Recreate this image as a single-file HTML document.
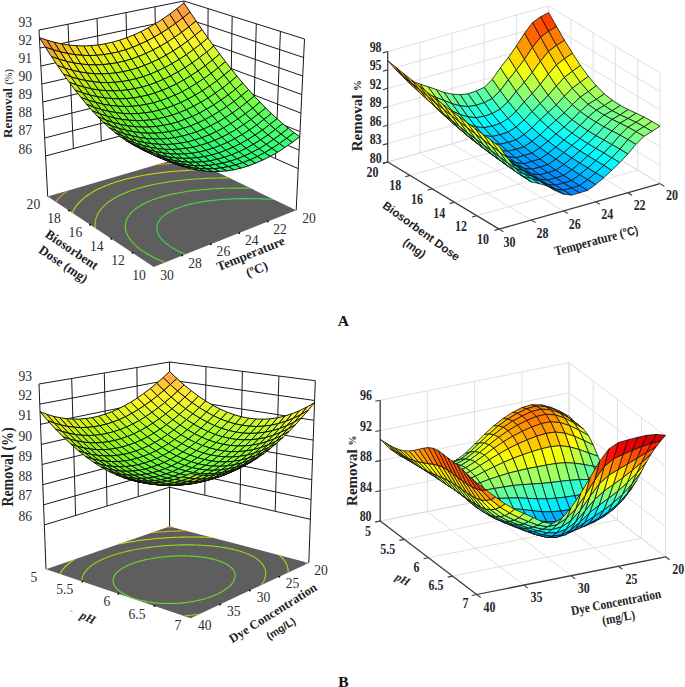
<!DOCTYPE html>
<html><head><meta charset="utf-8"><title>Figure</title>
<style>html,body{margin:0;padding:0;background:#fff;}body{width:685px;height:687px;overflow:hidden;}text{white-space:pre;}</style></head>
<body>
<svg width="685" height="687" viewBox="0 0 685 687" style="display:block"><line x1="45.6" y1="156" x2="184.8" y2="118.7" stroke="#1a1a1a" stroke-width="1"/>
<line x1="184.8" y1="118.7" x2="298.2" y2="168.6" stroke="#1a1a1a" stroke-width="1"/>
<line x1="44.6" y1="138" x2="184.6" y2="101.9" stroke="#1a1a1a" stroke-width="1"/>
<line x1="184.6" y1="101.9" x2="299.1" y2="150.1" stroke="#1a1a1a" stroke-width="1"/>
<line x1="43.7" y1="120" x2="184.5" y2="85.1" stroke="#1a1a1a" stroke-width="1"/>
<line x1="184.5" y1="85.1" x2="300" y2="131.6" stroke="#1a1a1a" stroke-width="1"/>
<line x1="42.8" y1="102" x2="184.4" y2="68.2" stroke="#1a1a1a" stroke-width="1"/>
<line x1="184.4" y1="68.2" x2="300.9" y2="113.1" stroke="#1a1a1a" stroke-width="1"/>
<line x1="41.8" y1="84" x2="184.3" y2="51.4" stroke="#1a1a1a" stroke-width="1"/>
<line x1="184.3" y1="51.4" x2="301.8" y2="94.6" stroke="#1a1a1a" stroke-width="1"/>
<line x1="40.9" y1="66" x2="184.2" y2="34.6" stroke="#1a1a1a" stroke-width="1"/>
<line x1="184.2" y1="34.6" x2="302.7" y2="76" stroke="#1a1a1a" stroke-width="1"/>
<line x1="39.9" y1="48" x2="184.1" y2="17.8" stroke="#1a1a1a" stroke-width="1"/>
<line x1="184.1" y1="17.8" x2="303.6" y2="57.5" stroke="#1a1a1a" stroke-width="1"/>
<line x1="39" y1="30" x2="184" y2="1" stroke="#1a1a1a" stroke-width="1"/>
<line x1="184" y1="1" x2="304.5" y2="39" stroke="#1a1a1a" stroke-width="1"/>
<line x1="47.7" y1="196.5" x2="39" y2="30" stroke="#1a1a1a" stroke-width="1"/>
<line x1="73.4" y1="148.5" x2="68" y2="24.2" stroke="#1a1a1a" stroke-width="1"/>
<line x1="101.3" y1="141.1" x2="97" y2="18.4" stroke="#1a1a1a" stroke-width="1"/>
<line x1="129.1" y1="133.6" x2="126" y2="12.6" stroke="#1a1a1a" stroke-width="1"/>
<line x1="156.9" y1="126.1" x2="155" y2="6.8" stroke="#1a1a1a" stroke-width="1"/>
<line x1="185" y1="156.5" x2="184" y2="1" stroke="#1a1a1a" stroke-width="1"/>
<line x1="207.4" y1="128.7" x2="208.1" y2="8.6" stroke="#1a1a1a" stroke-width="1"/>
<line x1="230.1" y1="138.7" x2="232.2" y2="16.2" stroke="#1a1a1a" stroke-width="1"/>
<line x1="252.8" y1="148.6" x2="256.3" y2="23.8" stroke="#1a1a1a" stroke-width="1"/>
<line x1="275.5" y1="158.6" x2="280.4" y2="31.4" stroke="#1a1a1a" stroke-width="1"/>
<line x1="296.2" y1="210.3" x2="304.5" y2="39" stroke="#1a1a1a" stroke-width="1"/>
<path d="M47.7 196.5 153.7 266.9 296.2 210.3 185 156.5 Z" fill="#5e5e5e"/>
<path d="M273.8 199.5 L272.3 199.4 L271.4 199.3 L270.4 199.3 L269.1 199.2 L268.6 199.2 L266.7 199.1 L266.7 199.1 L264.8 199 L264.4 199 L262.9 198.9 L262.2 198.9 L260.9 198.8 L260 198.8 L258.9 198.8 L257.8 198.7 L256.9 198.7 L255.6 198.7 L254.9 198.7 L253.5 198.6 L252.8 198.6 L251.4 198.6 L250.7 198.6 L249.3 198.6 L248.6 198.6 L247.3 198.6 L246.4 198.6 L245.2 198.6 L244.2 198.6 L243.3 198.6 L241.9 198.6 L241.3 198.6 L239.6 198.7 L239.3 198.7 L237.4 198.7 L237.2 198.7 L235.5 198.8 L234.8 198.8 L233.7 198.8 L232.3 198.9 L231.8 198.9 L230 199 L229.7 199 L228.2 199.1 L227.1 199.1 L226.4 199.2 L224.7 199.3 L224.3 199.3 L222.9 199.4 L221.5 199.5 L221.2 199.6 L219.5 199.7 L218.5 199.8 L217.8 199.8 L216.2 200 L215.4 200.1 L214.5 200.2 L212.9 200.4 L212.1 200.4 L211.3 200.5 L209.7 200.7 L208.6 200.9 L208.2 200.9 L206.6 201.1 L205.1 201.4 L204.7 201.4 L203.6 201.6 L202.1 201.8 L200.7 202.1 L200.4 202.1 L199.2 202.3 L197.8 202.6 L196.4 202.9 L195.2 203.1 L195 203.2 L193.6 203.5 L192.3 203.8 L190.9 204.1 L189.6 204.4 L188.3 204.7 L188.1 204.8 L187 205.1 L185.8 205.4 L184.5 205.8 L183.3 206.2 L182.1 206.6 L180.9 207 L179.7 207.4 L178.6 207.8 L177.4 208.2 L176.3 208.6 L175.2 209.1 L174.2 209.6 L173.3 209.9 L173.1 210 L172.1 210.5 L171.1 211 L170.1 211.6 L169.2 212.1 L168.5 212.5 L168.2 212.6 L167.3 213.2 L166.5 213.8 L165.7 214.3 L165.6 214.4 L164.8 215 L164 215.6 L163.7 215.9 L163.2 216.2 L162.5 216.9 L162.1 217.2 L161.8 217.6 L161.1 218.3 L160.9 218.5 L160.5 219 L159.9 219.7 L159.9 219.8 L159.3 220.6 L159.1 220.9 L158.8 221.4 L158.5 221.9 L158.3 222.2 L158 223 L157.9 223.1 L157.6 224 L157.6 224 L157.3 225 L157.3 225 L157.1 225.9 L157.1 226 L157 226.8 L156.9 227 L156.9 227.7 L156.9 228.1 L156.9 228.6 L157 229.3 L157 229.4 L157.1 230.3 L157.1 230.6 L157.2 231.1 L157.5 231.9 L157.5 231.9 L157.7 232.7 L158 233.4 L158 233.4 L158.4 234.2 L158.7 234.9 L158.8 235.1 L159.1 235.7 L159.6 236.4 L160 236.9 L160.1 237.1 L160.6 237.8 L161.1 238.5 L161.7 239.2 L161.7 239.2 L162.3 239.8 L162.9 240.5 L163.5 241.1 L164.2 241.8 L164.8 242.3 L164.9 242.4 L165.6 243 L166.4 243.6 L167.2 244.2 L167.9 244.8 L168.8 245.4 L169.6 246 L170.5 246.6 L171.3 247.1 L172.2 247.7 L173.1 248.2 L174.1 248.8 L175 249.3 L176 249.8 L177 250.4 L178 250.9 L179 251.4 L180.1 251.9 L180.2 251.9 L181.2 252.3 L182.2 252.8 L183.3 253.3 L184.5 253.8 L185.6 254.2" fill="none" stroke="#3cdb49" stroke-width="1.1"/>
<path d="M250.4 188.2 L249.2 188.1 L248.3 188.1 L247 188.1 L246.3 188.1 L244.9 188.1 L244.2 188.1 L242.8 188.1 L242.2 188.1 L240.6 188.1 L240.1 188.1 L238.3 188.1 L238.2 188.1 L236.2 188.1 L236.1 188.1 L234.2 188.1 L233.8 188.1 L232.3 188.1 L231.4 188.1 L230.4 188.1 L229 188.2 L228.5 188.2 L226.6 188.2 L226.6 188.2 L224.8 188.3 L224.1 188.3 L222.9 188.4 L221.5 188.4 L221.1 188.4 L219.3 188.5 L218.9 188.5 L217.5 188.6 L216.2 188.7 L215.8 188.7 L214 188.8 L213.5 188.8 L212.3 188.9 L210.7 189 L210.6 189 L208.9 189.1 L207.7 189.2 L207.2 189.3 L205.5 189.4 L204.7 189.5 L203.9 189.5 L202.3 189.7 L201.5 189.7 L200.6 189.8 L199 190 L198.1 190.1 L197.4 190.2 L195.9 190.3 L194.6 190.5 L194.3 190.5 L192.8 190.7 L191.2 190.9 L190.8 191 L189.7 191.1 L188.2 191.3 L186.8 191.5 L186.8 191.5 L185.3 191.7 L183.8 192 L182.4 192.2 L182.2 192.2 L181 192.5 L179.5 192.7 L178.2 193 L177 193.2 L176.8 193.2 L175.4 193.5 L174 193.8 L172.7 194.1 L171.4 194.3 L170.3 194.6 L170.1 194.6 L168.8 194.9 L167.5 195.3 L166.2 195.6 L164.9 195.9 L163.7 196.2 L162.5 196.6 L161.3 196.9 L160.1 197.3 L158.9 197.7 L157.7 198 L156.5 198.4 L155.4 198.8 L154.3 199.2 L153.1 199.6 L152 200.1 L151 200.5 L149.9 200.9 L148.8 201.4 L147.8 201.8 L146.8 202.3 L146.1 202.6 L145.8 202.8 L144.8 203.2 L143.8 203.7 L142.9 204.2 L141.9 204.8 L141.6 204.9 L141 205.3 L140.1 205.8 L139.2 206.4 L138.6 206.7 L138.3 206.9 L137.5 207.5 L136.7 208.1 L136.3 208.4 L135.9 208.7 L135.1 209.3 L134.4 209.8 L134.3 209.9 L133.6 210.6 L132.9 211.2 L132.8 211.2 L132.1 211.9 L131.6 212.5 L131.5 212.6 L130.8 213.3 L130.5 213.7 L130.2 214 L129.6 214.8 L129.5 214.9 L129 215.5 L128.7 216 L128.5 216.3 L128 217.1 L128 217.1 L127.5 217.9 L127.4 218.1 L127.1 218.8 L126.9 219.2 L126.7 219.7 L126.5 220.2 L126.4 220.6 L126.2 221.2 L126.1 221.5 L125.9 222.1 L125.8 222.5 L125.7 223.1 L125.6 223.5 L125.5 224 L125.5 224.6 L125.4 224.9 L125.4 225.7 L125.4 225.8 L125.4 226.7 L125.4 226.8 L125.4 227.5 L125.4 228 L125.5 228.4 L125.6 229.2 L125.6 229.3 L125.8 230.1 L125.9 230.6 L125.9 230.9 L126.2 231.7 L126.3 232 L126.4 232.5 L126.7 233.3 L126.8 233.5 L127 234 L127.4 234.8 L127.6 235.2 L127.8 235.6 L128.2 236.3 L128.6 237 L128.6 237 L129 237.8 L129.5 238.5 L129.9 239.1 L130 239.2 L130.5 239.9 L131.1 240.6 L131.7 241.3 L131.8 241.5 L132.2 242 L132.9 242.7 L133.5 243.3 L134.1 244 L134.7 244.6 L134.8 244.7 L135.5 245.3 L136.2 246 L136.9 246.6 L137.7 247.2 L138.5 247.8 L139.2 248.5 L140 249.1 L140.9 249.7 L141.7 250.3 L142.5 250.9 L143 251.2 L143.4 251.5 L144.3 252 L145.2 252.6 L145.3 252.7 L146.1 253.2 L147 253.7 L148 254.3 L148.9 254.8 L149.9 255.4 L150.9 255.9 L151.9 256.5 L152.9 257 L153.9 257.5 L155 258 L156 258.5 L156.4 258.7 L157.1 259 L158.2 259.5 L159.3 260 L160.4 260.5 L161.6 261 L162.3 261.3 L162.7 261.5 L163.9 261.9 L165 262.4" fill="none" stroke="#5fdb27" stroke-width="1.1"/>
<path d="M229.1 177.8 L227.8 177.8 L227.1 177.8 L225.4 177.9 L225.2 177.9 L223.3 177.9 L223.1 177.9 L221.4 177.9 L220.7 177.9 L219.6 177.9 L218.2 178 L217.7 178 L215.9 178 L215.7 178 L214 178.1 L213.1 178.1 L212.2 178.1 L210.5 178.2 L210.4 178.2 L208.7 178.3 L207.9 178.3 L206.9 178.4 L205.2 178.4 L205.2 178.4 L203.4 178.5 L202.4 178.6 L201.7 178.6 L200 178.7 L199.5 178.8 L198.3 178.8 L196.6 178.9 L196.5 178.9 L195 179 L193.5 179.2 L193.3 179.2 L191.7 179.3 L190.3 179.4 L190.1 179.4 L188.5 179.6 L187 179.7 L186.9 179.7 L185.3 179.9 L183.7 180 L183.6 180 L182.2 180.2 L180.6 180.3 L180 180.4 L179.1 180.5 L177.6 180.7 L176.2 180.8 L176.1 180.9 L174.6 181 L173.1 181.2 L172.1 181.4 L171.6 181.4 L170.1 181.6 L168.7 181.8 L167.6 182 L167.3 182.1 L165.8 182.3 L164.4 182.5 L163 182.7 L162.6 182.8 L161.6 183 L160.3 183.2 L158.9 183.5 L157.5 183.7 L156.7 183.9 L156.2 184 L154.9 184.2 L153.5 184.5 L152.2 184.8 L150.9 185.1 L149.7 185.3 L149.1 185.5 L148.4 185.6 L147.1 185.9 L145.9 186.2 L144.6 186.5 L143.4 186.9 L142.2 187.2 L141 187.5 L139.8 187.9 L138.6 188.2 L137.4 188.5 L136.3 188.9 L135.1 189.3 L134 189.6 L132.8 190 L131.7 190.4 L130.6 190.8 L129.5 191.2 L128.5 191.6 L127.4 192 L126.3 192.4 L125.3 192.8 L124.4 193.2 L124.3 193.3 L123.2 193.7 L122.2 194.1 L121.2 194.6 L120.2 195.1 L119.3 195.5 L118.8 195.8 L118.3 196 L117.4 196.5 L116.4 197 L115.5 197.5 L115.1 197.8 L114.6 198 L113.7 198.5 L112.9 199.1 L112.2 199.5 L112 199.6 L111.2 200.2 L110.3 200.7 L109.8 201.1 L109.5 201.3 L108.7 201.9 L107.9 202.5 L107.9 202.5 L107.2 203.1 L106.4 203.7 L106.2 203.9 L105.7 204.3 L104.9 205 L104.7 205.2 L104.2 205.6 L103.6 206.3 L103.4 206.5 L102.9 207 L102.3 207.7 L102.2 207.7 L101.6 208.4 L101.2 208.9 L101 209.1 L100.4 209.8 L100.3 210 L99.9 210.6 L99.5 211.1 L99.4 211.4 L98.8 212.2 L98.8 212.2 L98.4 213 L98.2 213.3 L97.9 213.8 L97.6 214.3 L97.5 214.6 L97.1 215.3 L97.1 215.5 L96.7 216.4 L96.7 216.4 L96.4 217.3 L96.3 217.3 L96.1 218.2 L96 218.3 L95.8 219.2 L95.8 219.3 L95.6 220.2 L95.6 220.2 L95.4 221.1 L95.4 221.2 L95.3 222.1 L95.2 222.3 L95.2 223 L95.2 223.4 L95.1 223.9 L95.1 224.5 L95.1 224.7 L95.2 225.6 L95.2 225.7 L95.2 226.5 L95.3 226.9 L95.3 227.3 L95.4 228.2 L95.4 228.2" fill="none" stroke="#8ed916" stroke-width="1.1"/>
<path d="M211.7 169.4 L209.9 169.5 L209.6 169.5 L208.1 169.5 L207 169.5 L206.3 169.6 L204.5 169.6 L204.5 169.6 L202.7 169.7 L201.8 169.7 L200.9 169.7 L199.2 169.8 L199.1 169.8 L197.4 169.9 L196.4 169.9 L195.7 169.9 L194 170 L193.6 170 L192.3 170.1 L190.7 170.2 L190.6 170.2 L188.9 170.3 L187.7 170.4 L187.3 170.4 L185.6 170.5 L184.7 170.6 L184 170.6 L182.4 170.7 L181.5 170.8 L180.7 170.8 L179.1 170.9 L178.3 171 L177.5 171.1 L176 171.2 L174.9 171.3 L174.4 171.3 L172.8 171.5 L171.4 171.6 L171.3 171.6 L169.8 171.8 L168.2 171.9 L167.7 172 L166.7 172.1 L165.2 172.3 L163.8 172.4 L163.7 172.4 L162.2 172.6 L160.8 172.8 L159.6 172.9 L159.3 173 L157.9 173.1 L156.4 173.3 L155.1 173.5 L155 173.5 L153.6 173.7 L152.2 173.9 L150.8 174.2 L150.1 174.3 L149.4 174.4 L148 174.6 L146.6 174.8 L145.3 175 L144.3 175.2 L143.9 175.3 L142.6 175.5 L141.3 175.8 L140 176 L138.7 176.3 L137.4 176.5 L137.3 176.5 L136.1 176.8 L134.8 177.1 L133.5 177.3 L132.3 177.6 L131 177.9 L129.8 178.2 L128.6 178.5 L127.3 178.8 L126.1 179.1 L126.1 179.1 L124.9 179.4 L123.7 179.7 L122.6 180 L121.4 180.4 L120.2 180.7 L119.1 181 L117.9 181.4 L116.8 181.7 L115.7 182.1 L114.6 182.5 L113.5 182.8 L112.5 183.2 L112.4 183.2 L111.3 183.6 L110.2 184 L109.2 184.4 L108.1 184.8 L107.1 185.2 L106 185.6 L105 186 L104 186.4 L103.3 186.7 L103 186.8 L102 187.3 L101 187.7 L100 188.2 L99.1 188.6 L98.3 189 L98.1 189.1 L97.2 189.6 L96.3 190 L95.4 190.5 L94.6 190.9 L94.4 191 L93.6 191.5 L92.7 192 L91.8 192.5 L91.6 192.6 L90.9 193.1 L90.1 193.6 L89.3 194.1 L89.1 194.2 L88.4 194.7 L87.6 195.2 L87 195.7 L86.8 195.8 L86 196.4 L85.3 197 L85.1 197.1 L84.5 197.6 L83.8 198.2 L83.5 198.4 L83 198.8 L82.3 199.4 L82 199.7 L81.6 200.1 L80.9 200.7 L80.7 201 L80.3 201.4 L79.6 202 L79.5 202.2 L79 202.7 L78.4 203.4 L78.3 203.4 L77.7 204.1 L77.4 204.5 L77.1 204.8 L76.6 205.6 L76.5 205.6 L76 206.3 L75.7 206.7 L75.5 207.1 L75 207.8 L75 207.9 L74.5 208.7 L74.3 208.9 L74 209.5 L73.8 209.9 L73.6 210.3 L73.2 210.9 L73.1 211.1 L72.7 212 L72.7 212 L72.4 212.9" fill="none" stroke="#cbd411" stroke-width="1.1"/>
<path d="M67.4 190.7 L67.2 190.9 L66.5 191.5 L65.7 192 L65.6 192.1 L65 192.6 L64.2 193.2 L64 193.4 L63.5 193.8 L62.8 194.5 L62.5 194.7 L62.1 195.1 L61.4 195.7 L61.2 195.9 L60.7 196.4 L60.1 197 L60 197.1 L59.4 197.7 L58.9 198.3 L58.8 198.4 L58.2 199 L57.8 199.4 L57.6 199.7 L57 200.4 L56.9 200.6 L56.4 201.2 L56 201.7 L55.8 201.9" fill="none" stroke="#db9b21" stroke-width="1.1"/>
<path d="M196.8 162.2 L195 162.2 L194.9 162.3 L193.3 162.3 L192.2 162.3 L191.5 162.4 L189.8 162.4 L189.4 162.4 L188.1 162.5 L186.6 162.6 L186.4 162.6 L184.7 162.6 L183.7 162.7 L183 162.7 L181.3 162.8 L180.8 162.8 L179.7 162.9 L178 163 L177.7 163 L176.4 163.1 L174.8 163.2 L174.6 163.2 L173.2 163.3 L171.6 163.4 L171.4 163.4 L170 163.5 L168.4 163.6 L168.1 163.6 L166.8 163.7 L165.3 163.9 L164.6 163.9 L163.7 164 L162.2 164.1 L161 164.2 L160.7 164.3 L159.1 164.4 L157.6 164.6 L157.2 164.6" fill="none" stroke="#db9b21" stroke-width="1.1"/>
<g stroke="#0c0c0c" stroke-width="0.95" stroke-linejoin="round"><path d="M176.8 8.8 182.8 18 190.1 12.1 184 3.1 Z" fill="#ff9d47"/><path d="M182.8 18 188.8 26.9 196.1 21 190.1 12.1 Z" fill="#ffb040"/><path d="M169.6 14.2 175.6 23.4 182.8 18 176.8 8.8 Z" fill="#ffa542"/><path d="M175.6 23.4 181.6 32.4 188.8 26.9 182.8 18 Z" fill="#ffc537"/><path d="M188.8 26.9 194.8 35.5 202 29.6 196.1 21 Z" fill="#ffd435"/><path d="M162.4 19.2 168.5 28.4 175.6 23.4 169.6 14.2 Z" fill="#ffb33a"/><path d="M155.3 23.7 161.3 33 168.5 28.4 162.4 19.2 Z" fill="#ffc432"/><path d="M168.5 28.4 174.4 37.4 181.6 32.4 175.6 23.4 Z" fill="#ffd92f"/><path d="M181.6 32.4 187.6 41.1 194.8 35.5 188.8 26.9 Z" fill="#fee72d"/><path d="M194.8 35.5 200.7 44 207.9 38 202 29.6 Z" fill="#fcee2d"/><path d="M200.7 44 206.6 52.1 213.8 46.1 207.9 38 Z" fill="#edf82b"/><path d="M148.1 27.9 154.1 37.2 161.3 33 155.3 23.7 Z" fill="#ffd32c"/><path d="M161.3 33 167.3 42.1 174.4 37.4 168.5 28.4 Z" fill="#fee728"/><path d="M174.4 37.4 180.4 46.2 187.6 41.1 181.6 32.4 Z" fill="#fbf228"/><path d="M187.6 41.1 193.5 49.5 200.7 44 194.8 35.5 Z" fill="#f5f729"/><path d="M141 31.6 147 41 154.1 37.2 148.1 27.9 Z" fill="#ffdf26"/><path d="M167.3 42.1 173.2 50.9 180.4 46.2 174.4 37.4 Z" fill="#f3f724"/><path d="M193.5 49.5 199.3 57.7 206.6 52.1 200.7 44 Z" fill="#defa29"/><path d="M206.6 52.1 212.4 60.1 219.7 54 213.8 46.1 Z" fill="#d7fb2b"/><path d="M154.1 37.2 160.1 46.3 167.3 42.1 161.3 33 Z" fill="#fcef24"/><path d="M180.4 46.2 186.3 54.7 193.5 49.5 187.6 41.1 Z" fill="#e7f927"/><path d="M147 41 152.9 50.1 160.1 46.3 154.1 37.2 Z" fill="#f9f620"/><path d="M133.8 34.9 139.8 44.3 147 41 141 31.6 Z" fill="#fde621"/><path d="M160.1 46.3 166 55.2 173.2 50.9 167.3 42.1 Z" fill="#e8f822"/><path d="M173.2 50.9 179.1 59.4 186.3 54.7 180.4 46.2 Z" fill="#dbfa24"/><path d="M186.3 54.7 192.1 62.9 199.3 57.7 193.5 49.5 Z" fill="#d0fb27"/><path d="M199.3 57.7 205.2 65.7 212.4 60.1 206.6 52.1 Z" fill="#c8fb2a"/><path d="M212.4 60.1 218.2 67.7 225.5 61.7 219.7 54 Z" fill="#c2fb2d"/><path d="M139.8 44.3 145.8 53.5 152.9 50.1 147 41 Z" fill="#f0f61d"/><path d="M152.9 50.1 158.9 59 166 55.2 160.1 46.3 Z" fill="#dff920"/><path d="M179.1 59.4 184.9 67.7 192.1 62.9 186.3 54.7 Z" fill="#c3fb26"/><path d="M218.2 67.7 224 75.1 231.3 69.1 225.5 61.7 Z" fill="#aefc2f"/><path d="M126.6 37.8 132.7 47.3 139.8 44.3 133.8 34.9 Z" fill="#fae91d"/><path d="M166 55.2 171.9 63.7 179.1 59.4 173.2 50.9 Z" fill="#d0fb23"/><path d="M192.1 62.9 198 70.9 205.2 65.7 199.3 57.7 Z" fill="#bafc29"/><path d="M205.2 65.7 211 73.4 218.2 67.7 212.4 60.1 Z" fill="#b3fc2c"/><path d="M119.5 40.2 125.5 49.8 132.7 47.3 126.6 37.8 Z" fill="#f8eb1a"/><path d="M132.7 47.3 138.6 56.5 145.8 53.5 139.8 44.3 Z" fill="#e9f51b"/><path d="M145.8 53.5 151.7 62.4 158.9 59 152.9 50.1 Z" fill="#d6f91d"/><path d="M158.9 59 164.7 67.6 171.9 63.7 166 55.2 Z" fill="#c6fb21"/><path d="M171.9 63.7 177.7 72 184.9 67.7 179.1 59.4 Z" fill="#b8fc25"/><path d="M184.9 67.7 190.8 75.7 198 70.9 192.1 62.9 Z" fill="#adfc28"/><path d="M211 73.4 216.8 80.8 224 75.1 218.2 67.7 Z" fill="#a2fd30"/><path d="M224 75.1 229.8 82.3 237.1 76.2 231.3 69.1 Z" fill="#9ffd34"/><path d="M198 70.9 203.8 78.6 211 73.4 205.2 65.7 Z" fill="#a6fd2c"/><path d="M164.7 67.6 170.6 75.9 177.7 72 171.9 63.7 Z" fill="#aefc23"/><path d="M229.8 82.3 235.5 89.2 242.8 83.1 237.1 76.2 Z" fill="#92fe38"/><path d="M112.3 42.2 118.3 51.8 125.5 49.8 119.5 40.2 Z" fill="#f6ec17"/><path d="M125.5 49.8 131.4 59 138.6 56.5 132.7 47.3 Z" fill="#e3f418"/><path d="M138.6 56.5 144.5 65.4 151.7 62.4 145.8 53.5 Z" fill="#cff81b"/><path d="M151.7 62.4 157.6 71 164.7 67.6 158.9 59 Z" fill="#bdfa20"/><path d="M177.7 72 183.6 80 190.8 75.7 184.9 67.7 Z" fill="#a4fd28"/><path d="M190.8 75.7 196.5 83.4 203.8 78.6 198 70.9 Z" fill="#9cfd2d"/><path d="M203.8 78.6 209.5 86 216.8 80.8 211 73.4 Z" fill="#97fd32"/><path d="M216.8 80.8 222.5 88 229.8 82.3 224 75.1 Z" fill="#93fe35"/><path d="M131.4 59 137.4 68 144.5 65.4 138.6 56.5 Z" fill="#c9f719"/><path d="M157.6 71 163.4 79.4 170.6 75.9 164.7 67.6 Z" fill="#a6fb22"/><path d="M170.6 75.9 176.4 83.9 183.6 80 177.7 72 Z" fill="#9cfc28"/><path d="M196.5 83.4 202.3 90.8 209.5 86 203.8 78.6 Z" fill="#8dfe33"/><path d="M222.5 88 228.2 94.9 235.5 89.2 229.8 82.3 Z" fill="#85fe3a"/><path d="M235.5 89.2 241.3 95.8 248.6 89.7 242.8 83.1 Z" fill="#85fe3c"/><path d="M118.3 51.8 124.3 61.1 131.4 59 125.5 49.8 Z" fill="#dff316"/><path d="M105.1 43.8 111.1 53.4 118.3 51.8 112.3 42.2 Z" fill="#f5ec14"/><path d="M144.5 65.4 150.4 74 157.6 71 151.7 62.4 Z" fill="#b6f91e"/><path d="M183.6 80 189.3 87.8 196.5 83.4 190.8 75.7 Z" fill="#93fd2e"/><path d="M209.5 86 215.3 93.2 222.5 88 216.8 80.8 Z" fill="#88fe37"/><path d="M97.9 45 103.9 54.6 111.1 53.4 105.1 43.8 Z" fill="#f4ea14"/><path d="M124.3 61.1 130.2 70.1 137.4 68 131.4 59 Z" fill="#c5f517"/><path d="M137.4 68 143.2 76.6 150.4 74 144.5 65.4 Z" fill="#b0f81c"/><path d="M150.4 74 156.2 82.4 163.4 79.4 157.6 71 Z" fill="#a0fa21"/><path d="M163.4 79.4 169.2 87.4 176.4 83.9 170.6 75.9 Z" fill="#94fb28"/><path d="M176.4 83.9 182.2 91.7 189.3 87.8 183.6 80 Z" fill="#8bfd2e"/><path d="M189.3 87.8 195.1 95.2 202.3 90.8 196.5 83.4 Z" fill="#84fe33"/><path d="M202.3 90.8 208 98 215.3 93.2 209.5 86 Z" fill="#7eff37"/><path d="M215.3 93.2 221 100.1 228.2 94.9 222.5 88 Z" fill="#7aff3b"/><path d="M228.2 94.9 234 101.5 241.3 95.8 235.5 89.2 Z" fill="#79ff3f"/><path d="M241.3 95.8 247 102.1 254.3 96.1 248.6 89.7 Z" fill="#79ff42"/><path d="M111.1 53.4 117.1 62.7 124.3 61.1 118.3 51.8 Z" fill="#ddf213"/><path d="M143.2 76.6 149.1 85 156.2 82.4 150.4 74 Z" fill="#9bf820"/><path d="M182.2 91.7 187.9 99.1 195.1 95.2 189.3 87.8 Z" fill="#7cfe33"/><path d="M208 98 213.7 104.9 221 100.1 215.3 93.2 Z" fill="#71ff3f"/><path d="M247 102.1 252.7 108.2 260 102.1 254.3 96.1 Z" fill="#6eff4b"/><path d="M103.9 54.6 109.9 63.9 117.1 62.7 111.1 53.4 Z" fill="#ddf113"/><path d="M90.7 45.6 96.7 55.3 103.9 54.6 97.9 45 Z" fill="#f3e615"/><path d="M117.1 62.7 123 71.7 130.2 70.1 124.3 61.1 Z" fill="#c3f415"/><path d="M130.2 70.1 136.1 78.7 143.2 76.6 137.4 68 Z" fill="#acf619"/><path d="M156.2 82.4 162 90.4 169.2 87.4 163.4 79.4 Z" fill="#8efa27"/><path d="M169.2 87.4 175 95.1 182.2 91.7 176.4 83.9 Z" fill="#84fc2d"/><path d="M195.1 95.2 200.8 102.3 208 98 202.3 90.8 Z" fill="#75ff38"/><path d="M221 100.1 226.7 106.7 234 101.5 228.2 94.9 Z" fill="#6eff45"/><path d="M234 101.5 239.7 107.8 247 102.1 241.3 95.8 Z" fill="#6eff49"/><path d="M83.5 45.9 89.5 55.6 96.7 55.3 90.7 45.6 Z" fill="#f2e216"/><path d="M109.9 63.9 115.8 72.9 123 71.7 117.1 62.7 Z" fill="#c3f315"/><path d="M136.1 78.7 141.9 87.1 149.1 85 143.2 76.6 Z" fill="#98f71e"/><path d="M149.1 85 154.9 93 162 90.4 156.2 82.4 Z" fill="#8af925"/><path d="M175 95.1 180.7 102.6 187.9 99.1 182.2 91.7 Z" fill="#75fd33"/><path d="M187.9 99.1 193.6 106.2 200.8 102.3 195.1 95.2 Z" fill="#6efe3b"/><path d="M200.8 102.3 206.5 109.2 213.7 104.9 208 98 Z" fill="#69ff44"/><path d="M213.7 104.9 219.4 111.4 226.7 106.7 221 100.1 Z" fill="#65ff4a"/><path d="M239.7 107.8 245.3 113.8 252.7 108.2 247 102.1 Z" fill="#63ff52"/><path d="M252.7 108.2 258.3 114 265.7 108 260 102.1 Z" fill="#65ff54"/><path d="M96.7 55.3 102.7 64.6 109.9 63.9 103.9 54.6 Z" fill="#deef13"/><path d="M123 71.7 128.9 80.4 136.1 78.7 130.2 70.1 Z" fill="#aaf517"/><path d="M162 90.4 167.8 98.1 175 95.1 169.2 87.4 Z" fill="#7efb2c"/><path d="M226.7 106.7 232.4 113 239.7 107.8 234 101.5 Z" fill="#64ff4f"/><path d="M193.6 106.2 199.3 113.1 206.5 109.2 200.8 102.3 Z" fill="#61fe47"/><path d="M89.5 55.6 95.5 64.9 102.7 64.6 96.7 55.3 Z" fill="#e1ed13"/><path d="M76.2 45.7 82.2 55.3 89.5 55.6 83.5 45.9 Z" fill="#f2dc17"/><path d="M102.7 64.6 108.6 73.6 115.8 72.9 109.9 63.9 Z" fill="#c5f114"/><path d="M115.8 72.9 121.7 81.6 128.9 80.4 123 71.7 Z" fill="#aaf417"/><path d="M141.9 87.1 147.7 95.1 154.9 93 149.1 85 Z" fill="#87f824"/><path d="M154.9 93 160.6 100.7 167.8 98.1 162 90.4 Z" fill="#7afa2b"/><path d="M167.8 98.1 173.5 105.6 180.7 102.6 175 95.1 Z" fill="#6ffc32"/><path d="M180.7 102.6 186.4 109.7 193.6 106.2 187.9 99.1 Z" fill="#67fd3d"/><path d="M206.5 109.2 212.2 115.7 219.4 111.4 213.7 104.9 Z" fill="#5dff4f"/><path d="M219.4 111.4 225.1 117.7 232.4 113 226.7 106.7 Z" fill="#5aff55"/><path d="M232.4 113 238 118.9 245.3 113.8 239.7 107.8 Z" fill="#59ff59"/><path d="M245.3 113.8 251 119.5 258.3 114 252.7 108.2 Z" fill="#5aff5b"/><path d="M258.3 114 264 119.4 271.4 113.5 265.7 108 Z" fill="#5cff5c"/><path d="M128.9 80.4 134.7 88.7 141.9 87.1 136.1 78.7 Z" fill="#96f61c"/><path d="M95.5 64.9 101.4 73.9 108.6 73.6 102.7 64.6 Z" fill="#c8f014"/><path d="M160.6 100.7 166.4 108.1 173.5 105.6 167.8 98.1 Z" fill="#6bfa32"/><path d="M186.4 109.7 192.1 116.5 199.3 113.1 193.6 106.2 Z" fill="#5bfc49"/><path d="M199.3 113.1 205 119.6 212.2 115.7 206.5 109.2 Z" fill="#56fd52"/><path d="M225.1 117.7 230.8 123.6 238 118.9 232.4 113 Z" fill="#50ff5e"/><path d="M264 119.4 269.7 124.6 277.1 118.7 271.4 113.5 Z" fill="#54ff63"/><path d="M121.7 81.6 127.5 89.9 134.7 88.7 128.9 80.4 Z" fill="#96f41c"/><path d="M68.9 45 74.9 54.7 82.2 55.3 76.2 45.7 Z" fill="#f2d418"/><path d="M82.2 55.3 88.2 64.7 95.5 64.9 89.5 55.6 Z" fill="#e6eb13"/><path d="M108.6 73.6 114.5 82.3 121.7 81.6 115.8 72.9 Z" fill="#adf217"/><path d="M134.7 88.7 140.5 96.7 147.7 95.1 141.9 87.1 Z" fill="#85f722"/><path d="M147.7 95.1 153.4 102.8 160.6 100.7 154.9 93 Z" fill="#76f929"/><path d="M173.5 105.6 179.2 112.6 186.4 109.7 180.7 102.6 Z" fill="#62fb3e"/><path d="M212.2 115.7 217.9 121.9 225.1 117.7 219.4 111.4 Z" fill="#52ff59"/><path d="M238 118.9 243.7 124.6 251 119.5 245.3 113.8 Z" fill="#50ff61"/><path d="M251 119.5 256.7 125 264 119.4 258.3 114 Z" fill="#52ff62"/><path d="M101.4 73.9 107.3 82.6 114.5 82.3 108.6 73.6 Z" fill="#b1f116"/><path d="M61.6 43.8 67.6 53.5 74.9 54.7 68.9 45 Z" fill="#f1c61c"/><path d="M88.2 64.7 94.1 73.7 101.4 73.9 95.5 64.9 Z" fill="#ceee13"/><path d="M127.5 89.9 133.3 97.9 140.5 96.7 134.7 88.7 Z" fill="#86f522"/><path d="M153.4 102.8 159.2 110.2 166.4 108.1 160.6 100.7 Z" fill="#68f930"/><path d="M166.4 108.1 172.1 115.2 179.2 112.6 173.5 105.6 Z" fill="#5efa3e"/><path d="M179.2 112.6 184.9 119.4 192.1 116.5 186.4 109.7 Z" fill="#56fb49"/><path d="M192.1 116.5 197.8 122.9 205 119.6 199.3 113.1 Z" fill="#50fc53"/><path d="M205 119.6 210.6 125.8 217.9 121.9 212.2 115.7 Z" fill="#4bfd5b"/><path d="M217.9 121.9 223.5 127.9 230.8 123.6 225.1 117.7 Z" fill="#4afe60"/><path d="M230.8 123.6 236.4 129.3 243.7 124.6 238 118.9 Z" fill="#49ff64"/><path d="M256.7 125 262.3 130.1 269.7 124.6 264 119.4 Z" fill="#4bff68"/><path d="M269.7 124.6 275.3 129.5 282.7 123.7 277.1 118.7 Z" fill="#4eff68"/><path d="M74.9 54.7 80.9 64 88.2 64.7 82.2 55.3 Z" fill="#ece913"/><path d="M114.5 82.3 120.3 90.6 127.5 89.9 121.7 81.6 Z" fill="#98f31b"/><path d="M140.5 96.7 146.3 104.4 153.4 102.8 147.7 95.1 Z" fill="#76f728"/><path d="M243.7 124.6 249.4 130 256.7 125 251 119.5 Z" fill="#4aff66"/><path d="M172.1 115.2 177.7 121.9 184.9 119.4 179.2 112.6 Z" fill="#52fa49"/><path d="M210.6 125.8 216.3 131.6 223.5 127.9 217.9 121.9 Z" fill="#44fd62"/><path d="M275.3 129.5 281 134.1 288.4 128.3 282.7 123.7 Z" fill="#49ff6c"/><path d="M107.3 82.6 113.1 90.9 120.3 90.6 114.5 82.3 Z" fill="#9bf119"/><path d="M54.2 42.2 60.3 51.9 67.6 53.5 61.6 43.8 Z" fill="#f0b520"/><path d="M67.6 53.5 73.6 62.9 80.9 64 74.9 54.7 Z" fill="#eee115"/><path d="M80.9 64 86.9 73 94.1 73.7 88.2 64.7 Z" fill="#d4ec13"/><path d="M94.1 73.7 100 82.4 107.3 82.6 101.4 73.9 Z" fill="#b6ef15"/><path d="M120.3 90.6 126.1 98.6 133.3 97.9 127.5 89.9 Z" fill="#88f420"/><path d="M133.3 97.9 139.1 105.6 146.3 104.4 140.5 96.7 Z" fill="#77f627"/><path d="M146.3 104.4 152 111.8 159.2 110.2 153.4 102.8 Z" fill="#67f82f"/><path d="M159.2 110.2 164.9 117.2 172.1 115.2 166.4 108.1 Z" fill="#5bf93c"/><path d="M184.9 119.4 190.6 125.9 197.8 122.9 192.1 116.5 Z" fill="#4bfb54"/><path d="M197.8 122.9 203.4 129.1 210.6 125.8 205 119.6 Z" fill="#46fc5c"/><path d="M223.5 127.9 229.2 133.5 236.4 129.3 230.8 123.6 Z" fill="#43fe66"/><path d="M236.4 129.3 242.1 134.6 249.4 130 243.7 124.6 Z" fill="#43ff6a"/><path d="M249.4 130 255 135.1 262.3 130.1 256.7 125 Z" fill="#44ff6c"/><path d="M262.3 130.1 268 134.9 275.3 129.5 269.7 124.6 Z" fill="#46ff6c"/><path d="M113.1 90.9 118.9 98.9 126.1 98.6 120.3 90.6 Z" fill="#8bf21f"/><path d="M139.1 105.6 144.8 112.9 152 111.8 146.3 104.4 Z" fill="#69f62d"/><path d="M164.9 117.2 170.6 123.9 177.7 121.9 172.1 115.2 Z" fill="#50f847"/><path d="M177.7 121.9 183.4 128.3 190.6 125.9 184.9 119.4 Z" fill="#47f953"/><path d="M203.4 129.1 209.1 134.9 216.3 131.6 210.6 125.8 Z" fill="#3ffc62"/><path d="M216.3 131.6 221.9 137.2 229.2 133.5 223.5 127.9 Z" fill="#3dfd67"/><path d="M242.1 134.6 247.7 139.6 255 135.1 249.4 130 Z" fill="#3dff6e"/><path d="M268 134.9 273.6 139.4 281 134.1 275.3 129.5 Z" fill="#41ff70"/><path d="M281 134.1 286.7 138.4 294.1 132.7 288.4 128.3 Z" fill="#44ff6f"/><path d="M73.6 62.9 79.6 71.9 86.9 73 80.9 64 Z" fill="#dde913"/><path d="M100 82.4 105.9 90.7 113.1 90.9 107.3 82.6 Z" fill="#a0f018"/><path d="M46.8 40.1 52.9 49.8 60.3 51.9 54.2 42.2 Z" fill="#eea326"/><path d="M60.3 51.9 66.3 61.3 73.6 62.9 67.6 53.5 Z" fill="#efd617"/><path d="M86.9 73 92.8 81.7 100 82.4 94.1 73.7 Z" fill="#bdee14"/><path d="M126.1 98.6 131.9 106.3 139.1 105.6 133.3 97.9 Z" fill="#79f426"/><path d="M152 111.8 157.7 118.8 164.9 117.2 159.2 110.2 Z" fill="#5bf73b"/><path d="M190.6 125.9 196.2 132 203.4 129.1 197.8 122.9 Z" fill="#42fb5b"/><path d="M229.2 133.5 234.8 138.7 242.1 134.6 236.4 129.3 Z" fill="#3dfe6b"/><path d="M255 135.1 260.6 139.9 268 134.9 262.3 130.1 Z" fill="#3fff70"/><path d="M39.4 37.6 45.5 47.3 52.9 49.8 46.8 40.1 Z" fill="#ed922b"/><path d="M52.9 49.8 58.9 59.2 66.3 61.3 60.3 51.9 Z" fill="#eec61b"/><path d="M66.3 61.3 72.2 70.3 79.6 71.9 73.6 62.9 Z" fill="#e7e713"/><path d="M79.6 71.9 85.5 80.5 92.8 81.7 86.9 73 Z" fill="#c6ec13"/><path d="M92.8 81.7 98.6 90 105.9 90.7 100 82.4 Z" fill="#a8ee17"/><path d="M105.9 90.7 111.7 98.6 118.9 98.9 113.1 90.9 Z" fill="#90f11d"/><path d="M118.9 98.9 124.7 106.5 131.9 106.3 126.1 98.6 Z" fill="#7df324"/><path d="M131.9 106.3 137.6 113.6 144.8 112.9 139.1 105.6 Z" fill="#6bf52b"/><path d="M144.8 112.9 150.5 119.9 157.7 118.8 152 111.8 Z" fill="#5df639"/><path d="M157.7 118.8 163.4 125.4 170.6 123.9 164.9 117.2 Z" fill="#50f746"/><path d="M170.6 123.9 176.2 130.3 183.4 128.3 177.7 121.9 Z" fill="#45f851"/><path d="M183.4 128.3 189 134.3 196.2 132 190.6 125.9 Z" fill="#3ff95a"/><path d="M196.2 132 201.9 137.7 209.1 134.9 203.4 129.1 Z" fill="#3bfa61"/><path d="M209.1 134.9 214.7 140.4 221.9 137.2 216.3 131.6 Z" fill="#39fb67"/><path d="M221.9 137.2 227.5 142.4 234.8 138.7 229.2 133.5 Z" fill="#37fc6c"/><path d="M234.8 138.7 240.4 143.7 247.7 139.6 242.1 134.6 Z" fill="#37fd70"/><path d="M247.7 139.6 253.3 144.3 260.6 139.9 255 135.1 Z" fill="#38fe72"/><path d="M260.6 139.9 266.3 144.3 273.6 139.4 268 134.9 Z" fill="#3aff74"/><path d="M273.6 139.4 279.3 143.6 286.7 138.4 281 134.1 Z" fill="#3dff74"/><path d="M286.7 138.4 292.3 142.3 299.8 136.7 294.1 132.7 Z" fill="#40ff72"/><path d="M124.7 106.5 130.4 113.7 137.6 113.6 131.9 106.3 Z" fill="#6ff329"/><path d="M150.5 119.9 156.2 126.5 163.4 125.4 157.7 118.8 Z" fill="#52f643"/><path d="M189 134.3 194.7 140 201.9 137.7 196.2 132 Z" fill="#38f960"/><path d="M227.5 142.4 233.2 147.2 240.4 143.7 234.8 138.7 Z" fill="#32fc71"/><path d="M253.3 144.3 259 148.7 266.3 144.3 260.6 139.9 Z" fill="#33fe76"/><path d="M58.9 59.2 64.9 68.2 72.2 70.3 66.3 61.3 Z" fill="#ebde14"/><path d="M85.5 80.5 91.3 88.8 98.6 90 92.8 81.7 Z" fill="#b1ed15"/><path d="M45.5 47.3 51.5 56.6 58.9 59.2 52.9 49.8 Z" fill="#edb021"/><path d="M72.2 70.3 78.1 78.9 85.5 80.5 79.6 71.9 Z" fill="#d1ea13"/><path d="M98.6 90 104.4 97.9 111.7 98.6 105.9 90.7 Z" fill="#96ef1a"/><path d="M111.7 98.6 117.4 106.2 124.7 106.5 118.9 98.9 Z" fill="#81f122"/><path d="M137.6 113.6 143.3 120.5 150.5 119.9 144.8 112.9 Z" fill="#5ff535"/><path d="M163.4 125.4 169 131.7 176.2 130.3 170.6 123.9 Z" fill="#46f750"/><path d="M176.2 130.3 181.8 136.3 189 134.3 183.4 128.3 Z" fill="#3ef859"/><path d="M201.9 137.7 207.5 143.1 214.7 140.4 209.1 134.9 Z" fill="#35fa67"/><path d="M214.7 140.4 220.3 145.5 227.5 142.4 221.9 137.2 Z" fill="#33fb6c"/><path d="M240.4 143.7 246 148.3 253.3 144.3 247.7 139.6 Z" fill="#32fd74"/><path d="M266.3 144.3 271.9 148.4 279.3 143.6 273.6 139.4 Z" fill="#36ff77"/><path d="M279.3 143.6 284.9 147.5 292.3 142.3 286.7 138.4 Z" fill="#39ff76"/><path d="M117.4 106.2 123.2 113.4 130.4 113.7 124.7 106.5 Z" fill="#74f227"/><path d="M130.4 113.7 136.1 120.6 143.3 120.5 137.6 113.6 Z" fill="#63f331"/><path d="M143.3 120.5 149 127 156.2 126.5 150.5 119.9 Z" fill="#55f440"/><path d="M156.2 126.5 161.8 132.7 169 131.7 163.4 125.4 Z" fill="#48f54d"/><path d="M181.8 136.3 187.5 141.9 194.7 140 189 134.3 Z" fill="#38f85f"/><path d="M194.7 140 200.3 145.4 207.5 143.1 201.9 137.7 Z" fill="#32f965"/><path d="M220.3 145.5 225.9 150.3 233.2 147.2 227.5 142.4 Z" fill="#2dfb70"/><path d="M233.2 147.2 238.8 151.8 246 148.3 240.4 143.7 Z" fill="#2dfc74"/><path d="M246 148.3 251.7 152.5 259 148.7 253.3 144.3 Z" fill="#2efc76"/><path d="M259 148.7 264.6 152.7 271.9 148.4 266.3 144.3 Z" fill="#30fd78"/><path d="M51.5 56.6 57.5 65.6 64.9 68.2 58.9 59.2 Z" fill="#edd117"/><path d="M64.9 68.2 70.8 76.8 78.1 78.9 72.2 70.3 Z" fill="#dce613"/><path d="M78.1 78.9 84 87.1 91.3 88.8 85.5 80.5 Z" fill="#bceb14"/><path d="M91.3 88.8 97.1 96.7 104.4 97.9 98.6 90 Z" fill="#9eed17"/><path d="M104.4 97.9 110.2 105.4 117.4 106.2 111.7 98.6 Z" fill="#88ef1f"/><path d="M169 131.7 174.6 137.7 181.8 136.3 176.2 130.3 Z" fill="#3ff657"/><path d="M207.5 143.1 213.1 148.2 220.3 145.5 214.7 140.4 Z" fill="#2ffa6b"/><path d="M271.9 148.4 277.6 152.2 284.9 147.5 279.3 143.6 Z" fill="#32fe79"/><path d="M136.1 120.6 141.8 127.1 149 127 143.3 120.5 Z" fill="#59f33b"/><path d="M238.8 151.8 244.4 155.9 251.7 152.5 246 148.3 Z" fill="#2bfb75"/><path d="M70.8 76.8 76.7 85 84 87.1 78.1 78.9 Z" fill="#c8e913"/><path d="M110.2 105.4 115.9 112.6 123.2 113.4 117.4 106.2 Z" fill="#7bf024"/><path d="M57.5 65.6 63.4 74.1 70.8 76.8 64.9 68.2 Z" fill="#e8e213"/><path d="M84 87.1 89.8 95 97.1 96.7 91.3 88.8 Z" fill="#a9eb16"/><path d="M123.2 113.4 128.9 120.2 136.1 120.6 130.4 113.7 Z" fill="#68f22b"/><path d="M149 127 154.6 133.2 161.8 132.7 156.2 126.5 Z" fill="#4bf449"/><path d="M161.8 132.7 167.4 138.6 174.6 137.7 169 131.7 Z" fill="#40f555"/><path d="M174.6 137.7 180.3 143.2 187.5 141.9 181.8 136.3 Z" fill="#39f65d"/><path d="M187.5 141.9 193.1 147.2 200.3 145.4 194.7 140 Z" fill="#32f764"/><path d="M200.3 145.4 205.9 150.4 213.1 148.2 207.5 143.1 Z" fill="#2df86a"/><path d="M213.1 148.2 218.7 152.9 225.9 150.3 220.3 145.5 Z" fill="#2af96f"/><path d="M225.9 150.3 231.5 154.8 238.8 151.8 233.2 147.2 Z" fill="#2afa73"/><path d="M251.7 152.5 257.3 156.5 264.6 152.7 259 148.7 Z" fill="#2cfc76"/><path d="M264.6 152.7 270.2 156.4 277.6 152.2 271.9 148.4 Z" fill="#2efd78"/><path d="M97.1 96.7 102.9 104.2 110.2 105.4 104.4 97.9 Z" fill="#8fee1c"/><path d="M128.9 120.2 134.5 126.7 141.8 127.1 136.1 120.6 Z" fill="#5ef235"/><path d="M141.8 127.1 147.4 133.2 154.6 133.2 149 127 Z" fill="#50f344"/><path d="M167.4 138.6 173.1 144.1 180.3 143.2 174.6 137.7 Z" fill="#3bf55a"/><path d="M205.9 150.4 211.5 155 218.7 152.9 213.1 148.2 Z" fill="#29f86e"/><path d="M231.5 154.8 237.1 158.8 244.4 155.9 238.8 151.8 Z" fill="#28f973"/><path d="M244.4 155.9 250 159.8 257.3 156.5 251.7 152.5 Z" fill="#29fa74"/><path d="M102.9 104.2 108.6 111.3 115.9 112.6 110.2 105.4 Z" fill="#82ee20"/><path d="M63.4 74.1 69.3 82.3 76.7 85 70.8 76.8 Z" fill="#d6e613"/><path d="M76.7 85 82.5 92.8 89.8 95 84 87.1 Z" fill="#b5ea15"/><path d="M115.9 112.6 121.6 119.4 128.9 120.2 123.2 113.4 Z" fill="#6ff028"/><path d="M89.8 95 95.6 102.4 102.9 104.2 97.1 96.7 Z" fill="#98ec18"/><path d="M154.6 133.2 160.2 139 167.4 138.6 161.8 132.7 Z" fill="#43f451"/><path d="M180.3 143.2 185.9 148.4 193.1 147.2 187.5 141.9 Z" fill="#34f662"/><path d="M193.1 147.2 198.7 152.1 205.9 150.4 200.3 145.4 Z" fill="#2ef768"/><path d="M218.7 152.9 224.3 157.3 231.5 154.8 225.9 150.3 Z" fill="#27f971"/><path d="M257.3 156.5 262.9 160 270.2 156.4 264.6 152.7 Z" fill="#2bfb76"/><path d="M121.6 119.4 127.3 125.8 134.5 126.7 128.9 120.2 Z" fill="#65f02d"/><path d="M69.3 82.3 75.1 90.1 82.5 92.8 76.7 85 Z" fill="#c4e813"/><path d="M95.6 102.4 101.3 109.5 108.6 111.3 102.9 104.2 Z" fill="#8bec1d"/><path d="M108.6 111.3 114.3 118 121.6 119.4 115.9 112.6 Z" fill="#77ef25"/><path d="M134.5 126.7 140.2 132.7 147.4 133.2 141.8 127.1 Z" fill="#55f13d"/><path d="M147.4 133.2 153 139 160.2 139 154.6 133.2 Z" fill="#48f24c"/><path d="M160.2 139 165.9 144.5 173.1 144.1 167.4 138.6 Z" fill="#3df457"/><path d="M173.1 144.1 178.7 149.2 185.9 148.4 180.3 143.2 Z" fill="#36f55f"/><path d="M198.7 152.1 204.3 156.6 211.5 155 205.9 150.4 Z" fill="#2af76c"/><path d="M211.5 155 217.1 159.3 224.3 157.3 218.7 152.9 Z" fill="#26f770"/><path d="M224.3 157.3 229.9 161.3 237.1 158.8 231.5 154.8 Z" fill="#26f871"/><path d="M237.1 158.8 242.8 162.6 250 159.8 244.4 155.9 Z" fill="#26f872"/><path d="M250 159.8 255.6 163.2 262.9 160 257.3 156.5 Z" fill="#28f974"/><path d="M82.5 92.8 88.3 100.2 95.6 102.4 89.8 95 Z" fill="#a4ea16"/><path d="M185.9 148.4 191.5 153.3 198.7 152.1 193.1 147.2 Z" fill="#2ff666"/><path d="M114.3 118 120 124.3 127.3 125.8 121.6 119.4 Z" fill="#6def28"/><path d="M153 139 158.6 144.3 165.9 144.5 160.2 139 Z" fill="#41f252"/><path d="M217.1 159.3 222.7 163.2 229.9 161.3 224.3 157.3 Z" fill="#26f670"/><path d="M88.3 100.2 94 107.2 101.3 109.5 95.6 102.4 Z" fill="#96ea19"/><path d="M75.1 90.1 80.9 97.4 88.3 100.2 82.5 92.8 Z" fill="#b3e815"/><path d="M101.3 109.5 107 116.1 114.3 118 108.6 111.3 Z" fill="#80ed21"/><path d="M127.3 125.8 132.9 131.7 140.2 132.7 134.5 126.7 Z" fill="#5cf036"/><path d="M140.2 132.7 145.8 138.4 153 139 147.4 133.2 Z" fill="#4ef145"/><path d="M165.9 144.5 171.5 149.5 178.7 149.2 173.1 144.1 Z" fill="#39f35b"/><path d="M178.7 149.2 184.3 154 191.5 153.3 185.9 148.4 Z" fill="#31f463"/><path d="M191.5 153.3 197.1 157.7 204.3 156.6 198.7 152.1 Z" fill="#2bf56a"/><path d="M204.3 156.6 209.9 160.8 217.1 159.3 211.5 155 Z" fill="#27f66f"/><path d="M229.9 161.3 235.5 164.9 242.8 162.6 237.1 158.8 Z" fill="#25f771"/><path d="M242.8 162.6 248.4 165.9 255.6 163.2 250 159.8 Z" fill="#25f872"/><path d="M80.9 97.4 86.6 104.3 94 107.2 88.3 100.2 Z" fill="#a4e816"/><path d="M107 116.1 112.7 122.4 120 124.3 114.3 118 Z" fill="#76ed24"/><path d="M120 124.3 125.7 130.2 132.9 131.7 127.3 125.8 Z" fill="#64ef2d"/><path d="M145.8 138.4 151.4 143.7 158.6 144.3 153 139 Z" fill="#47f14b"/><path d="M158.6 144.3 164.2 149.3 171.5 149.5 165.9 144.5 Z" fill="#3df256"/><path d="M184.3 154 189.8 158.3 197.1 157.7 191.5 153.3 Z" fill="#2ef466"/><path d="M209.9 160.8 215.5 164.5 222.7 163.2 217.1 159.3 Z" fill="#26f56f"/><path d="M222.7 163.2 228.3 166.7 235.5 164.9 229.9 161.3 Z" fill="#25f670"/><path d="M94 107.2 99.7 113.8 107 116.1 101.3 109.5 Z" fill="#8beb1c"/><path d="M132.9 131.7 138.6 137.3 145.8 138.4 140.2 132.7 Z" fill="#55f03d"/><path d="M171.5 149.5 177 154.1 184.3 154 178.7 149.2 Z" fill="#35f35f"/><path d="M197.1 157.7 202.6 161.8 209.9 160.8 204.3 156.6 Z" fill="#28f56c"/><path d="M235.5 164.9 241.1 168.1 248.4 165.9 242.8 162.6 Z" fill="#24f671"/><path d="M99.7 113.8 105.4 119.9 112.7 122.4 107 116.1 Z" fill="#81eb20"/><path d="M86.6 104.3 92.3 110.9 99.7 113.8 94 107.2 Z" fill="#97e918"/><path d="M112.7 122.4 118.4 128.2 125.7 130.2 120 124.3 Z" fill="#6eed27"/><path d="M125.7 130.2 131.3 135.7 138.6 137.3 132.9 131.7 Z" fill="#5dee34"/><path d="M138.6 137.3 144.2 142.5 151.4 143.7 145.8 138.4 Z" fill="#4ef043"/><path d="M151.4 143.7 157 148.5 164.2 149.3 158.6 144.3 Z" fill="#42f051"/><path d="M164.2 149.3 169.8 153.8 177 154.1 171.5 149.5 Z" fill="#39f15a"/><path d="M177 154.1 182.6 158.4 189.8 158.3 184.3 154 Z" fill="#32f262"/><path d="M189.8 158.3 195.4 162.2 202.6 161.8 197.1 157.7 Z" fill="#2bf369"/><path d="M202.6 161.8 208.2 165.4 215.5 164.5 209.9 160.8 Z" fill="#26f46e"/><path d="M215.5 164.5 221 167.9 228.3 166.7 222.7 163.2 Z" fill="#25f56f"/><path d="M228.3 166.7 233.9 169.8 241.1 168.1 235.5 164.9 Z" fill="#24f570"/><path d="M92.3 110.9 98 116.9 105.4 119.9 99.7 113.8 Z" fill="#8de91b"/><path d="M131.3 135.7 136.9 140.8 144.2 142.5 138.6 137.3 Z" fill="#57ee3a"/><path d="M169.8 153.8 175.4 157.9 182.6 158.4 177 154.1 Z" fill="#36f15c"/><path d="M195.4 162.2 201 165.8 208.2 165.4 202.6 161.8 Z" fill="#2af36a"/><path d="M105.4 119.9 111 125.7 118.4 128.2 112.7 122.4 Z" fill="#79eb23"/><path d="M118.4 128.2 124 133.6 131.3 135.7 125.7 130.2 Z" fill="#66ed2a"/><path d="M144.2 142.5 149.8 147.2 157 148.5 151.4 143.7 Z" fill="#49ef48"/><path d="M157 148.5 162.6 152.9 169.8 153.8 164.2 149.3 Z" fill="#3ef054"/><path d="M182.6 158.4 188.2 162.2 195.4 162.2 189.8 158.3 Z" fill="#2ff264"/><path d="M208.2 165.4 213.8 168.7 221 167.9 215.5 164.5 Z" fill="#26f46e"/><path d="M221 167.9 226.7 170.9 233.9 169.8 228.3 166.7 Z" fill="#25f46f"/><path d="M98 116.9 103.7 122.6 111 125.7 105.4 119.9 Z" fill="#85e91e"/><path d="M111 125.7 116.7 131 124 133.6 118.4 128.2 Z" fill="#72eb25"/><path d="M124 133.6 129.6 138.6 136.9 140.8 131.3 135.7 Z" fill="#61ed2f"/><path d="M136.9 140.8 142.5 145.4 149.8 147.2 144.2 142.5 Z" fill="#52ee3f"/><path d="M162.6 152.9 168.2 157 175.4 157.9 169.8 153.8 Z" fill="#3bf056"/><path d="M175.4 157.9 181 161.6 188.2 162.2 182.6 158.4 Z" fill="#34f15e"/><path d="M188.2 162.2 193.8 165.6 201 165.8 195.4 162.2 Z" fill="#2ef265"/><path d="M201 165.8 206.6 168.9 213.8 168.7 208.2 165.4 Z" fill="#28f36b"/><path d="M149.8 147.2 155.3 151.6 162.6 152.9 157 148.5 Z" fill="#45ef4c"/><path d="M213.8 168.7 219.4 171.5 226.7 170.9 221 167.9 Z" fill="#26f36e"/><path d="M181 161.6 186.6 164.9 193.8 165.6 188.2 162.2 Z" fill="#33f05f"/><path d="M103.7 122.6 109.3 127.8 116.7 131 111 125.7 Z" fill="#7ee920"/><path d="M116.7 131 122.3 135.8 129.6 138.6 124 133.6 Z" fill="#6ceb27"/><path d="M129.6 138.6 135.2 143.1 142.5 145.4 136.9 140.8 Z" fill="#5cec34"/><path d="M142.5 145.4 148.1 149.7 155.3 151.6 149.8 147.2 Z" fill="#4eed42"/><path d="M155.3 151.6 160.9 155.5 168.2 157 162.6 152.9 Z" fill="#42ee4f"/><path d="M168.2 157 173.8 160.6 181 161.6 175.4 157.9 Z" fill="#3aef58"/><path d="M193.8 165.6 199.4 168.6 206.6 168.9 201 165.8 Z" fill="#2df166"/><path d="M206.6 168.9 212.2 171.6 219.4 171.5 213.8 168.7 Z" fill="#28f26b"/><path d="M109.3 127.8 115 132.6 122.3 135.8 116.7 131 Z" fill="#79e922"/><path d="M148.1 149.7 153.7 153.4 160.9 155.5 155.3 151.6 Z" fill="#4bed45"/><path d="M173.8 160.6 179.3 163.7 186.6 164.9 181 161.6 Z" fill="#39ef59"/><path d="M186.6 164.9 192.2 167.8 199.4 168.6 193.8 165.6 Z" fill="#32f060"/><path d="M122.3 135.8 127.9 140.3 135.2 143.1 129.6 138.6 Z" fill="#67eb29"/><path d="M135.2 143.1 140.8 147.2 148.1 149.7 142.5 145.4 Z" fill="#58ec37"/><path d="M160.9 155.5 166.5 158.9 173.8 160.6 168.2 157 Z" fill="#40ee51"/><path d="M199.4 168.6 205 171.2 212.2 171.6 206.6 168.9 Z" fill="#2df166"/><path d="M115 132.6 120.6 136.9 127.9 140.3 122.3 135.8 Z" fill="#75e924"/><path d="M140.8 147.2 146.4 150.9 153.7 153.4 148.1 149.7 Z" fill="#56ec39"/><path d="M153.7 153.4 159.2 156.8 166.5 158.9 160.9 155.5 Z" fill="#4aed46"/><path d="M166.5 158.9 172.1 162 179.3 163.7 173.8 160.6 Z" fill="#3fee51"/><path d="M179.3 163.7 184.9 166.4 192.2 167.8 186.6 164.9 Z" fill="#38ef59"/><path d="M192.2 167.8 197.7 170.2 205 171.2 199.4 168.6 Z" fill="#32ef5f"/><path d="M127.9 140.3 133.5 144.2 140.8 147.2 135.2 143.1 Z" fill="#64eb2b"/><path d="M133.5 144.2 139.1 147.8 146.4 150.9 140.8 147.2 Z" fill="#62ea2d"/><path d="M159.2 156.8 164.8 159.7 172.1 162 166.5 158.9 Z" fill="#49ec47"/><path d="M120.6 136.9 126.1 140.7 133.5 144.2 127.9 140.3 Z" fill="#71e925"/><path d="M146.4 150.9 152 154.1 159.2 156.8 153.7 153.4 Z" fill="#55eb3a"/><path d="M172.1 162 177.7 164.5 184.9 166.4 179.3 163.7 Z" fill="#3fed51"/><path d="M184.9 166.4 190.5 168.7 197.7 170.2 192.2 167.8 Z" fill="#39ee58"/><path d="M126.1 140.7 131.7 144.1 139.1 147.8 133.5 144.2 Z" fill="#70e825"/><path d="M139.1 147.8 144.7 150.8 152 154.1 146.4 150.9 Z" fill="#61ea2d"/><path d="M152 154.1 157.5 156.8 164.8 159.7 159.2 156.8 Z" fill="#54eb3a"/><path d="M164.8 159.7 170.4 162.1 177.7 164.5 172.1 162 Z" fill="#49ec46"/><path d="M177.7 164.5 183.3 166.7 190.5 168.7 184.9 166.4 Z" fill="#40ed50"/><path d="M131.7 144.1 137.3 147 144.7 150.8 139.1 147.8 Z" fill="#6fe825"/><path d="M144.7 150.8 150.2 153.4 157.5 156.8 152 154.1 Z" fill="#61ea2d"/><path d="M157.5 156.8 163.1 159.1 170.4 162.1 164.8 159.7 Z" fill="#55ea39"/><path d="M170.4 162.1 176 164.1 183.3 166.7 177.7 164.5 Z" fill="#4beb44"/><path d="M137.3 147 142.9 149.5 150.2 153.4 144.7 150.8 Z" fill="#6fe825"/><path d="M150.2 153.4 155.8 155.5 163.1 159.1 157.5 156.8 Z" fill="#62e92c"/><path d="M163.1 159.1 168.7 160.9 176 164.1 170.4 162.1 Z" fill="#57ea37"/><path d="M142.9 149.5 148.5 151.4 155.8 155.5 150.2 153.4 Z" fill="#71e724"/><path d="M155.8 155.5 161.4 157.2 168.7 160.9 163.1 159.1 Z" fill="#64e929"/><path d="M148.5 151.4 154.1 152.9 161.4 157.2 155.8 155.5 Z" fill="#74e623"/></g>
<circle cx="68.9" cy="210.6" r="1" fill="#111"/>
<circle cx="90.1" cy="224.7" r="1" fill="#111"/>
<circle cx="111.3" cy="238.7" r="1" fill="#111"/>
<circle cx="132.5" cy="252.8" r="1" fill="#111"/>
<circle cx="182.2" cy="255.6" r="1" fill="#111"/>
<circle cx="210.7" cy="244.3" r="1" fill="#111"/>
<circle cx="239.2" cy="232.9" r="1" fill="#111"/>
<circle cx="267.7" cy="221.6" r="1" fill="#111"/>
<text x="25.3" y="22.5" text-anchor="middle" dominant-baseline="central" fill="#2b2b33" style="font-family:'Liberation Serif',serif;font-size:13.6px;">93</text>
<text x="25.3" y="40" text-anchor="middle" dominant-baseline="central" fill="#2b2b33" style="font-family:'Liberation Serif',serif;font-size:13.6px;">92</text>
<text x="25.3" y="58" text-anchor="middle" dominant-baseline="central" fill="#2b2b33" style="font-family:'Liberation Serif',serif;font-size:13.6px;">91</text>
<text x="25.3" y="76" text-anchor="middle" dominant-baseline="central" fill="#2b2b33" style="font-family:'Liberation Serif',serif;font-size:13.6px;">90</text>
<text x="25.3" y="94" text-anchor="middle" dominant-baseline="central" fill="#2b2b33" style="font-family:'Liberation Serif',serif;font-size:13.6px;">89</text>
<text x="25.3" y="112" text-anchor="middle" dominant-baseline="central" fill="#2b2b33" style="font-family:'Liberation Serif',serif;font-size:13.6px;">88</text>
<text x="25.3" y="130" text-anchor="middle" dominant-baseline="central" fill="#2b2b33" style="font-family:'Liberation Serif',serif;font-size:13.6px;">87</text>
<text x="25.3" y="149" text-anchor="middle" dominant-baseline="central" fill="#2b2b33" style="font-family:'Liberation Serif',serif;font-size:13.6px;">86</text>
<text x="33.4" y="204.8" text-anchor="middle" dominant-baseline="central" fill="#2b2b33" style="font-family:'Liberation Serif',serif;font-size:13.6px;">20</text>
<text x="54" y="218.4" text-anchor="middle" dominant-baseline="central" fill="#2b2b33" style="font-family:'Liberation Serif',serif;font-size:13.6px;">18</text>
<text x="75.4" y="232.5" text-anchor="middle" dominant-baseline="central" fill="#2b2b33" style="font-family:'Liberation Serif',serif;font-size:13.6px;">16</text>
<text x="96.7" y="246.8" text-anchor="middle" dominant-baseline="central" fill="#2b2b33" style="font-family:'Liberation Serif',serif;font-size:13.6px;">14</text>
<text x="118" y="260.6" text-anchor="middle" dominant-baseline="central" fill="#2b2b33" style="font-family:'Liberation Serif',serif;font-size:13.6px;">12</text>
<text x="139" y="275" text-anchor="middle" dominant-baseline="central" fill="#2b2b33" style="font-family:'Liberation Serif',serif;font-size:13.6px;">10</text>
<text x="167" y="275" text-anchor="middle" dominant-baseline="central" fill="#2b2b33" style="font-family:'Liberation Serif',serif;font-size:13.6px;">30</text>
<text x="195" y="263" text-anchor="middle" dominant-baseline="central" fill="#2b2b33" style="font-family:'Liberation Serif',serif;font-size:13.6px;">28</text>
<text x="223.4" y="251.8" text-anchor="middle" dominant-baseline="central" fill="#2b2b33" style="font-family:'Liberation Serif',serif;font-size:13.6px;">26</text>
<text x="251.7" y="240.5" text-anchor="middle" dominant-baseline="central" fill="#2b2b33" style="font-family:'Liberation Serif',serif;font-size:13.6px;">24</text>
<text x="280" y="229" text-anchor="middle" dominant-baseline="central" fill="#2b2b33" style="font-family:'Liberation Serif',serif;font-size:13.6px;">22</text>
<text x="309" y="218.6" text-anchor="middle" dominant-baseline="central" fill="#2b2b33" style="font-family:'Liberation Serif',serif;font-size:13.6px;">20</text>
<text x="7.5" y="103.5" text-anchor="middle" dominant-baseline="central" fill="#222" style="font-family:'Liberation Serif',serif;font-size:13.2px;font-weight:bold;" transform="rotate(-90 7.5 103.5)">Removal <tspan style="font-weight:normal;font-size:10.5px">(%)</tspan></text>
<text x="72" y="249.5" text-anchor="middle" dominant-baseline="central" fill="#222" style="font-family:'Liberation Serif',serif;font-size:13px;font-weight:bold;" transform="rotate(34 72 249.5)">Biosorbent</text>
<text x="63.5" y="264" text-anchor="middle" dominant-baseline="central" fill="#222" style="font-family:'Liberation Serif',serif;font-size:13px;font-weight:bold;" transform="rotate(34 63.5 264)">Dose (mg)</text>
<text x="250.5" y="253.5" text-anchor="middle" dominant-baseline="central" fill="#222" style="font-family:'Liberation Serif',serif;font-size:13px;font-weight:bold;" transform="rotate(-22 250.5 253.5)">Temperature</text>
<text x="256.7" y="269" text-anchor="middle" dominant-baseline="central" fill="#222" style="font-family:'Liberation Serif',serif;font-size:13px;font-weight:bold;" transform="rotate(-22 256.7 269)">(ºC)</text>
<line x1="44.3" y1="524.9" x2="169.6" y2="487.2" stroke="#1a1a1a" stroke-width="1"/>
<line x1="169.6" y1="487.2" x2="310.4" y2="519.3" stroke="#1a1a1a" stroke-width="1"/>
<line x1="43.6" y1="504.8" x2="169.6" y2="469.3" stroke="#1a1a1a" stroke-width="1"/>
<line x1="169.6" y1="469.3" x2="311.1" y2="499.5" stroke="#1a1a1a" stroke-width="1"/>
<line x1="42.8" y1="484.7" x2="169.6" y2="451.4" stroke="#1a1a1a" stroke-width="1"/>
<line x1="169.6" y1="451.4" x2="311.8" y2="479.7" stroke="#1a1a1a" stroke-width="1"/>
<line x1="42" y1="464.5" x2="169.6" y2="433.5" stroke="#1a1a1a" stroke-width="1"/>
<line x1="169.6" y1="433.5" x2="312.5" y2="459.9" stroke="#1a1a1a" stroke-width="1"/>
<line x1="41.3" y1="444.4" x2="169.6" y2="415.6" stroke="#1a1a1a" stroke-width="1"/>
<line x1="169.6" y1="415.6" x2="313.2" y2="440.1" stroke="#1a1a1a" stroke-width="1"/>
<line x1="40.5" y1="424.3" x2="169.6" y2="397.8" stroke="#1a1a1a" stroke-width="1"/>
<line x1="169.6" y1="397.8" x2="313.9" y2="420.3" stroke="#1a1a1a" stroke-width="1"/>
<line x1="39.8" y1="404.1" x2="169.6" y2="379.9" stroke="#1a1a1a" stroke-width="1"/>
<line x1="169.6" y1="379.9" x2="314.6" y2="400.5" stroke="#1a1a1a" stroke-width="1"/>
<line x1="39" y1="384" x2="169.6" y2="362" stroke="#1a1a1a" stroke-width="1"/>
<line x1="169.6" y1="362" x2="315.3" y2="380.7" stroke="#1a1a1a" stroke-width="1"/>
<line x1="46" y1="569.2" x2="39" y2="384" stroke="#1a1a1a" stroke-width="1"/>
<line x1="75.6" y1="515.5" x2="71.7" y2="378.5" stroke="#1a1a1a" stroke-width="1"/>
<line x1="107" y1="506" x2="104.3" y2="373" stroke="#1a1a1a" stroke-width="1"/>
<line x1="138.3" y1="496.6" x2="136.9" y2="367.5" stroke="#1a1a1a" stroke-width="1"/>
<line x1="169.6" y1="526.5" x2="169.6" y2="362" stroke="#1a1a1a" stroke-width="1"/>
<line x1="204.8" y1="495.2" x2="206" y2="366.7" stroke="#1a1a1a" stroke-width="1"/>
<line x1="240" y1="503.2" x2="242.4" y2="371.4" stroke="#1a1a1a" stroke-width="1"/>
<line x1="275.2" y1="511.3" x2="278.9" y2="376" stroke="#1a1a1a" stroke-width="1"/>
<line x1="308.8" y1="562.9" x2="315.3" y2="380.7" stroke="#1a1a1a" stroke-width="1"/>
<path d="M46 569.2 190.7 618.2 308.8 562.9 169.6 526.5 Z" fill="#5e5e5e"/>
<path d="M124.1 567.3 L123.6 567.6 L123.3 567.7 L122.6 568.2 L121.8 568.6 L121.1 569.1 L120.4 569.6 L120.3 569.6 L119.7 570.1 L119.1 570.6 L118.4 571.1 L118.3 571.2 L117.8 571.6 L117.3 572.2 L116.8 572.6 L116.7 572.7 L116.2 573.2 L115.8 573.8 L115.7 573.9 L115.3 574.4 L114.9 575 L114.9 575 L114.6 575.6 L114.3 576.1 L114.2 576.2 L113.9 576.8 L113.8 577.2 L113.7 577.4 L113.5 578.1 L113.5 578.1 L113.3 578.8 L113.2 579.1 L113.2 579.4 L113.1 580 L113.1 580.1 L113.1 580.8 L113.1 580.9 L113.2 581.6 L113.2 581.7 L113.3 582.4 L113.3 582.5 L113.5 583.2 L113.5 583.3 L113.7 584 L113.7 584.1 L114.1 584.8 L114.1 584.9 L114.4 585.5 L114.6 585.7 L114.8 586.2 L115.1 586.7 L115.3 586.9 L115.8 587.6 L115.9 587.7 L116.4 588.3 L116.8 588.7 L117 588.9 L117.6 589.5 L117.9 589.8 L118.3 590.2 L119 590.8 L119.4 591.1 L119.7 591.3 L120.5 591.9 L121.3 592.4 L121.3 592.5 L122.2 593 L123.1 593.6 L124 594.1 L124 594.1 L124.9 594.6 L125.9 595.1 L126.9 595.6 L127.9 596.1 L129 596.5 L129.1 596.6 L130.1 597 L131.2 597.4 L132.4 597.9 L133.6 598.3 L134.8 598.7 L136 599.1 L137.3 599.5 L138.6 599.8 L138.7 599.8 L140 600.2 L141.4 600.5 L142.8 600.8 L144.2 601.1 L145.7 601.4 L145.7 601.4 L147.2 601.7 L148.7 602 L150.2 602.2 L150.3 602.2 L151.9 602.4 L153.6 602.6 L154 602.7 L155.3 602.8 L157 603 L157.3 603 L158.8 603.2 L160.2 603.3 L160.6 603.3 L162.5 603.4 L163 603.4 L164.5 603.5 L165.6 603.5 L166.5 603.5 L168 603.5 L168.5 603.5 L170.3 603.5 L170.6 603.5 L172.5 603.5 L172.8 603.5 L174.6 603.4 L175.1 603.4 L176.7 603.3 L177.5 603.3 L178.6 603.2 L179.9 603.1 L180.5 603.1 L182.4 602.9 L182.5 602.9 L184.2 602.7 L185.3 602.6 L185.9 602.5 L187.6 602.3 L188.2 602.2 L189.2 602.1 L190.8 601.8 L191.3 601.8 L192.4 601.6 L193.9 601.3 L194.7 601.1 L195.4 601 L196.8 600.7 L198.3 600.4 L198.6 600.3 L199.6 600.1 L201 599.8 L202.3 599.4 L203.1 599.2 L203.6 599.1 L204.9 598.7 L206.1 598.3 L207.3 598 L208.5 597.6 L209.4 597.3 L209.7 597.2 L210.8 596.8 L211.9 596.4 L213 595.9 L214.1 595.5 L215.1 595.1 L216.1 594.6 L217.1 594.2 L218.1 593.7 L219 593.3 L219.9 592.8 L220.8 592.3 L221.7 591.8 L222.6 591.3 L222.8 591.2 L223.4 590.8 L224.2 590.3 L225 589.8 L225.7 589.3 L226.4 588.8 L226.9 588.4 L227.1 588.2 L227.8 587.7 L228.5 587.1 L229.1 586.6 L229.2 586.5 L229.7 586 L230.3 585.4 L230.9 584.9 L230.9 584.8 L231.4 584.3 L231.9 583.7 L232.1 583.4 L232.3 583.1 L232.8 582.5 L233 582.1 L233.2 581.8 L233.5 581.2 L233.7 580.9 L233.9 580.6 L234.2 579.9 L234.2 579.8 L234.4 579.3 L234.6 578.7 L234.7 578.6 L234.8 577.9 L234.9 577.8 L235 577.2 L235 576.8 L235.1 576.5 L235.1 575.9 L235.1 575.8 L235.1 575.1 L235.1 575.1 L235 574.3 L235 574.2 L234.9 573.6 L234.8 573.5 L234.7 572.8 L234.6 572.7 L234.4 572 L234.4 572 L234 571.2 L234 571.1 L233.6 570.6 L233.4 570.3 L233.2 569.9 L232.8 569.4 L232.7 569.3 L232.2 568.6 L232 568.4 L231.7 568 L231.1 567.5 L231 567.4 L230.4 566.9 L229.8 566.3 L229.8 566.3 L229.1 565.8 L228.3 565.3 L228.1 565.2 L227.5 564.8 L226.7 564.3 L225.9 563.8 L225.9 563.8 L225 563.4 L224.1 562.9 L223.2 562.5 L222.2 562.1 L222.1 562.1 L221.2 561.7 L220.2 561.3 L219.1 560.9 L218 560.5 L216.9 560.2 L215.7 559.9 L214.6 559.5 L213.3 559.2 L212.1 558.9 L210.8 558.6 L209.5 558.4 L208.2 558.1 L208 558.1 L206.8 557.8 L205.4 557.6 L203.9 557.4 L202.5 557.2 L202.4 557.2 L201 557 L199.4 556.8 L198.2 556.7 L197.8 556.6 L196.2 556.5 L194.7 556.4 L194.5 556.3 L192.8 556.2 L191.5 556.1 L191 556.1 L189.2 556 L188.7 556 L187.4 556 L186 555.9 L185.5 555.9 L183.5 555.9 L183.4 555.9 L181.5 555.9 L181.1 555.9 L179.4 555.9 L178.8 555.9 L177.2 556 L176.6 556 L174.9 556 L174.5 556.1 L172.6 556.1 L172.5 556.2 L170.5 556.3 L170.1 556.3 L168.6 556.4 L167.6 556.5 L166.8 556.6 L165 556.7 L164.9 556.7 L163.2 556.9 L162 557 L161.5 557.1 L159.9 557.3 L159 557.4 L158.3 557.5 L156.7 557.7 L155.6 557.9 L155.1 557.9 L153.6 558.2 L152.2 558.4 L151.9 558.5 L150.7 558.7 L149.3 559 L147.9 559.2 L147.6 559.3 L146.6 559.5 L145.3 559.8 L144 560.1 L142.7 560.4 L142.2 560.5 L141.5 560.7 L140.2 561.1 L139.1 561.4 L137.9 561.7 L136.7 562.1 L135.6 562.4 L134.5 562.8 L133.5 563.2 L132.4 563.5 L131.4 563.9 L130.4 564.3 L129.5 564.7 L128.5 565.1 L127.6 565.5 L126.7 565.9 L125.8 566.4 L125 566.8 L124.1 567.3" fill="none" stroke="#6fda21" stroke-width="1.1"/>
<path d="M184.1 616 L185.3 615.9 L186 615.8 L187.8 615.6 L187.9 615.6 L189.5 615.4 L190.7 615.3 L191.3 615.2 L193 615 L193.5 614.9 L194.6 614.8 L196.3 614.5 L196.5 614.5 L197.9 614.3 L199.5 614 L199.7 614" fill="none" stroke="#97d815" stroke-width="1.1"/>
<path d="M261.2 585.2 L261.4 585 L261.8 584.4 L262.2 583.8 L262.3 583.7 L262.7 583.1 L263 582.6 L263 582.5 L263.4 581.8 L263.6 581.4 L263.7 581.2 L264 580.5 L264.2 580.2 L264.3 579.9 L264.6 579.2 L264.6 579.2 L264.8 578.5 L264.9 578.1 L265 577.8 L265.2 577.2 L265.2 577.1 L265.4 576.5 L265.4 576.1 L265.5 575.8 L265.6 575.2 L265.6 575.1 L265.6 574.4 L265.6 574.3 L265.7 573.6 L265.7 573.4 L265.7 572.9 L265.6 572.6 L265.6 572.2 L265.6 571.7 L265.5 571.4 L265.4 570.9 L265.4 570.6 L265.3 570.2 L265.2 569.9 L265.1 569.4 L265 569.1 L264.8 568.7 L264.7 568.3 L264.6 567.9 L264.3 567.5 L264.2 567.2 L263.9 566.6 L263.9 566.5 L263.5 565.9 L263.5 565.8 L263.1 565.2 L262.9 564.9 L262.7 564.6 L262.2 564 L262.2 563.9 L261.7 563.3 L261.5 563.1 L261.1 562.7 L260.6 562.2 L260.6 562.1 L260 561.6 L259.6 561.2 L259.4 561 L258.8 560.4 L258.4 560.1 L258.1 559.9 L257.4 559.4 L257 559 L256.7 558.9 L256 558.4 L255.3 557.9 L255.2 557.9 L254.5 557.4 L253.7 556.9 L253.2 556.6 L252.9 556.5 L252 556 L251.2 555.6 L250.4 555.2 L250.3 555.1 L249.4 554.7 L248.5 554.3 L247.5 553.9 L246.5 553.5 L246.3 553.4 L245.6 553.1 L244.5 552.7 L243.5 552.3 L242.5 552 L241.4 551.6 L240.3 551.3 L239.2 551 L238.1 550.6 L236.9 550.3 L235.8 550 L234.6 549.7 L233.4 549.4 L232.1 549.1 L230.9 548.9 L229.6 548.6 L228.3 548.3 L227 548.1 L225.7 547.8 L225.5 547.8 L224.3 547.6 L222.9 547.4 L221.5 547.2 L220.1 547 L219.5 546.9 L218.6 546.8 L217.2 546.6 L215.7 546.4 L214.9 546.3 L214.1 546.2 L212.6 546.1 L211 545.9 L210.8 545.9 L209.4 545.8 L207.8 545.6 L207.2 545.6 L206.1 545.5 L204.4 545.4 L203.9 545.3 L202.7 545.3 L201 545.2 L200.8 545.2 L199.2 545.1 L197.9 545 L197.4 545 L195.6 545 L195.1 545 L193.7 544.9 L192.5 544.9 L191.8 544.9 L189.9 544.9 L189.8 544.9 L187.8 544.9 L187.5 544.9 L185.8 544.9 L185.1 544.9 L183.7 544.9 L182.8 544.9 L181.6 544.9 L180.6 544.9 L179.4 545 L178.4 545 L177.2 545 L176.3 545.1 L174.9 545.1 L174.2 545.2 L172.6 545.2 L172.2 545.3 L170.2 545.4 L170.2 545.4 L168.2 545.5 L167.7 545.5 L166.3 545.6 L165.1 545.7 L164.5 545.8 L162.6 545.9 L162.5 545.9 L160.8 546.1 L159.8 546.2 L159.1 546.2 L157.3 546.4 L156.9 546.4 L155.6 546.6 L154 546.8 L153.9 546.8 L152.3 547 L150.8 547.1 L150.7 547.2 L149.1 547.4 L147.5 547.6 L147.5 547.6 L146 547.8 L144.5 548 L143.9 548.1 L142.9 548.2 L141.5 548.5 L140.1 548.7 L140 548.7 L138.6 549 L137.1 549.2 L135.9 549.5 L135.7 549.5 L134.4 549.8 L133 550 L131.7 550.3 L131.1 550.4 L130.3 550.6 L129 550.9 L127.7 551.1 L126.5 551.4 L125.2 551.7 L125.2 551.7 L124 552 L122.8 552.4 L121.6 552.7 L120.4 553 L119.2 553.3 L118.1 553.6 L116.9 554 L116.1 554.2 L115.8 554.3 L114.7 554.7 L113.6 555 L112.6 555.4 L111.5 555.7 L110.5 556.1 L109.5 556.4 L108.5 556.8 L107.5 557.2 L106.5 557.6 L105.5 558 L104.9 558.2 L104.6 558.4 L103.7 558.8 L102.8 559.2 L101.9 559.6 L101 560 L100.1 560.4 L99.3 560.8 L98.5 561.3 L98 561.5 L97.6 561.7 L96.9 562.1 L96.1 562.6 L95.3 563 L94.6 563.5 L94.4 563.6 L93.8 563.9 L93.1 564.4 L92.4 564.9 L91.8 565.3 L91.8 565.4 L91.1 565.9 L90.5 566.4 L89.9 566.9 L89.8 566.9 L89.3 567.4 L88.7 567.9 L88.3 568.3 L88.1 568.4 L87.6 568.9 L87 569.5 L87 569.6 L86.6 570 L86.1 570.6 L85.9 570.8 L85.6 571.1 L85.2 571.7 L85 571.9 L84.8 572.3 L84.4 572.8 L84.2 573 L84 573.4 L83.7 574 L83.6 574.1 L83.4 574.6 L83.1 575.1 L83.1 575.3 L82.8 575.9 L82.7 576.1 L82.6 576.5 L82.4 577.1 L82.4 577.2 L82.2 577.8 L82.2 578 L82.1 578.5 L82 579 L81.9 579.2 L81.9 579.8 L81.9 579.9 L81.8 580.6 L81.8 580.7 L81.8 581.3" fill="none" stroke="#97d815" stroke-width="1.1"/>
<path d="M75 559.2 L74.9 559.3 L74.2 559.7 L73.4 560.2 L72.7 560.6 L72.3 560.9 L72 561.1 L71.3 561.6 L70.7 562 L70 562.5 L70 562.5 L69.4 563 L68.8 563.5 L68.2 564 L68.2 564 L67.6 564.5 L67 565 L66.6 565.3 L66.4 565.5 L65.9 566 L65.4 566.5 L65.3 566.6 L64.8 567.1 L64.4 567.6 L64.2 567.8 L63.9 568.2 L63.4 568.7 L63.2 569 L63 569.3 L62.6 569.8 L62.4 570.1 L62.1 570.4 L61.8 571 L61.6 571.2 L61.4 571.6 L61.1 572.2 L61 572.2 L60.7 572.8 L60.5 573.3 L60.4 573.4 L60.1 574" fill="none" stroke="#c8d511" stroke-width="1.1"/>
<path d="M211.6 537.5 L211.2 537.5 L209.5 537.4 L208.5 537.3 L207.8 537.3 L206 537.2 L205.6 537.2 L204.2 537.2 L202.7 537.1 L202.4 537.1 L200.5 537.1 L200 537 L198.6 537 L197.4 537 L196.7 537 L194.8 537 L194.8 537 L192.8 537 L192.3 537 L190.8 537 L189.9 537 L188.8 537 L187.6 537 L186.7 537 L185.3 537 L184.6 537 L183 537.1 L182.5 537.1 L180.8 537.1 L180.3 537.1 L178.7 537.2 L178 537.2 L176.6 537.3 L175.8 537.3 L174.5 537.4 L173.4 537.4 L172.5 537.5 L171.1 537.5 L170.5 537.6 L168.6 537.7 L168.5 537.7 L166.6 537.8 L166.1 537.8 L164.7 537.9 L163.6 538 L162.8 538.1 L161 538.2 L161 538.2 L159.1 538.3 L158.3 538.4 L157.4 538.5 L155.6 538.7 L155.5 538.7 L153.8 538.8 L152.6 538.9 L152.1 539 L150.4 539.2 L149.6 539.3 L148.8 539.4 L147.1 539.5 L146.5 539.6 L145.5 539.7 L143.9 539.9 L143.3 540 L142.3 540.1 L140.7 540.3 L139.9 540.4 L139.1 540.5 L137.6 540.8 L136.4 540.9 L136.1 541 L134.6 541.2 L133.1 541.4 L132.6 541.5 L131.6 541.7 L130.2 541.9 L128.8 542.1 L128.5 542.2 L127.3 542.4 L125.9 542.6 L124.6 542.9 L124 543 L123.2 543.2 L121.8 543.4 L120.5 543.7 L119.2 543.9 L119 544" fill="none" stroke="#c8d511" stroke-width="1.1"/>
<path d="M288.1 572.6 L288.1 572.6 L288.2 571.9 L288.2 571.7 L288.1 571.1 L288.1 570.8 L288.1 570.4 L288.1 570 L288 569.6 L288 569.2 L287.9 568.9 L287.9 568.4 L287.8 568.1 L287.7 567.6 L287.6 567.4 L287.5 566.8 L287.4 566.6 L287.3 566.1 L287.2 565.8 L287 565.4 L286.9 565 L286.7 564.6 L286.5 564.2 L286.4 563.9 L286.1 563.4 L286.1 563.3 L285.7 562.6 L285.7 562.5 L285.3 561.9 L285.2 561.7 L284.9 561.3 L284.6 560.8 L284.5 560.6 L284 560 L284 559.9 L283.5 559.4 L283.2 559 L283 558.8 L282.5 558.2 L282.4 558.1 L282 557.6 L281.5 557.2 L281.4 557.1 L280.8 556.5 L280.4 556.2 L280.2 556 L279.5 555.4 L279.2 555.2" fill="none" stroke="#c8d511" stroke-width="1.1"/>
<path d="M185.7 530.7 L183.8 530.7 L183.5 530.8 L181.6 530.8 L181.3 530.8 L179.4 530.9 L179.1 530.9 L177.2 531 L177 531 L175 531.1 L174.9 531.1 L172.9 531.2 L172.5 531.2 L170.9 531.3 L170.1 531.3 L168.9 531.4 L167.7 531.4 L167 531.5 L165.2 531.6 L165.1 531.6 L163.2 531.7 L162.6 531.8 L161.3 531.9 L160 532 L159.4 532 L157.6 532.1 L157.4 532.2 L155.8 532.3 L154.7 532.4 L154 532.4 L152.3 532.6 L151.8 532.6" fill="none" stroke="#dbb01a" stroke-width="1.1"/>
<path d="M306 564.2 L305.8 563.5 L305.8 563.5 L305.5 562.8 L305.5 562.7 L305.2 562 L305.2 562" fill="none" stroke="#dbb01a" stroke-width="1.1"/>
<path d="M172 527.1 L171.9 527.1 L170 527.2 L169.5 527.3 L168 527.3 L167 527.4" fill="none" stroke="#db8429" stroke-width="1.1"/>
<g stroke="#0c0c0c" stroke-width="0.95" stroke-linejoin="round"><path d="M163.1 377.6 170.4 384.6 176.9 378.5 169.6 371.5 Z" fill="#ffad43"/><path d="M170.4 384.6 177.6 391.2 184.1 384.9 176.9 378.5 Z" fill="#ffca3a"/><path d="M156.6 383.3 163.9 390.4 170.4 384.6 163.1 377.6 Z" fill="#ffc439"/><path d="M163.9 390.4 171.2 397.1 177.6 391.2 170.4 384.6 Z" fill="#ffe131"/><path d="M177.6 391.2 184.9 397.2 191.3 390.8 184.1 384.9 Z" fill="#ffe333"/><path d="M150.2 388.6 157.5 395.8 163.9 390.4 156.6 383.3 Z" fill="#ffd931"/><path d="M143.7 393.5 151 400.8 157.5 395.8 150.2 388.6 Z" fill="#fee82a"/><path d="M157.5 395.8 164.7 402.6 171.2 397.1 163.9 390.4 Z" fill="#fcee2b"/><path d="M171.2 397.1 178.4 403.2 184.9 397.2 177.6 391.2 Z" fill="#fcf12d"/><path d="M184.9 397.2 192.1 402.7 198.5 396.2 191.3 390.8 Z" fill="#fcf02f"/><path d="M192.1 402.7 199.3 407.6 205.7 401 198.5 396.2 Z" fill="#f4f72e"/><path d="M137.3 398 144.6 405.4 151 400.8 143.7 393.5 Z" fill="#fbf225"/><path d="M151 400.8 158.3 407.7 164.7 402.6 157.5 395.8 Z" fill="#f6f627"/><path d="M164.7 402.6 172 408.8 178.4 403.2 171.2 397.1 Z" fill="#f2f729"/><path d="M178.4 403.2 185.6 408.8 192.1 402.7 184.9 397.2 Z" fill="#f1f72c"/><path d="M130.8 402.1 138.2 409.6 144.6 405.4 137.3 398 Z" fill="#f4f722"/><path d="M158.3 407.7 165.6 414 172 408.8 164.7 402.6 Z" fill="#e4f927"/><path d="M185.6 408.8 192.9 413.8 199.3 407.6 192.1 402.7 Z" fill="#e3f92c"/><path d="M199.3 407.6 206.5 412 212.9 405.3 205.7 401 Z" fill="#e8f92e"/><path d="M144.6 405.4 151.9 412.4 158.3 407.7 151 400.8 Z" fill="#eaf825"/><path d="M172 408.8 179.2 414.5 185.6 408.8 178.4 403.2 Z" fill="#e2f929"/><path d="M138.2 409.6 145.5 416.7 151.9 412.4 144.6 405.4 Z" fill="#dffa22"/><path d="M124.4 405.7 131.8 413.4 138.2 409.6 130.8 402.1 Z" fill="#ebf820"/><path d="M151.9 412.4 159.2 418.8 165.6 414 158.3 407.7 Z" fill="#d7fa25"/><path d="M165.6 414 172.9 419.8 179.2 414.5 172 408.8 Z" fill="#d3fb28"/><path d="M179.2 414.5 186.5 419.6 192.9 413.8 185.6 408.8 Z" fill="#d3fb2a"/><path d="M192.9 413.8 200.1 418.3 206.5 412 199.3 407.6 Z" fill="#d7fb2c"/><path d="M206.5 412 213.6 415.8 220.1 409.1 212.9 405.3 Z" fill="#defa2e"/><path d="M131.8 413.4 139.2 420.6 145.5 416.7 138.2 409.6 Z" fill="#d5fa20"/><path d="M145.5 416.7 152.9 423.2 159.2 418.8 151.9 412.4 Z" fill="#ccfb24"/><path d="M172.9 419.8 180.1 425 186.5 419.6 179.2 414.5 Z" fill="#c5fb29"/><path d="M213.6 415.8 220.8 419.1 227.2 412.2 220.1 409.1 Z" fill="#d7fb2f"/><path d="M118 409 125.4 416.8 131.8 413.4 124.4 405.7 Z" fill="#e2f81e"/><path d="M159.2 418.8 166.5 424.7 172.9 419.8 165.6 414 Z" fill="#c6fb27"/><path d="M186.5 419.6 193.7 424.2 200.1 418.3 192.9 413.8 Z" fill="#c7fb2c"/><path d="M200.1 418.3 207.3 422.2 213.6 415.8 206.5 412 Z" fill="#cdfb2d"/><path d="M111.6 411.8 119 419.7 125.4 416.8 118 409 Z" fill="#daf71b"/><path d="M125.4 416.8 132.8 424 139.2 420.6 131.8 413.4 Z" fill="#ccfa1f"/><path d="M139.2 420.6 146.5 427.2 152.9 423.2 145.5 416.7 Z" fill="#c2fb23"/><path d="M152.9 423.2 160.1 429.2 166.5 424.7 159.2 418.8 Z" fill="#bbfc26"/><path d="M166.5 424.7 173.8 430 180.1 425 172.9 419.8 Z" fill="#b7fc28"/><path d="M180.1 425 187.3 429.7 193.7 424.2 186.5 419.6 Z" fill="#b8fc2b"/><path d="M207.3 422.2 214.5 425.6 220.8 419.1 213.6 415.8 Z" fill="#c5fb2e"/><path d="M220.8 419.1 228 421.8 234.4 414.8 227.2 412.2 Z" fill="#d1fb2f"/><path d="M193.7 424.2 200.9 428.2 207.3 422.2 200.1 418.3 Z" fill="#bdfc2d"/><path d="M160.1 429.2 167.4 434.6 173.8 430 166.5 424.7 Z" fill="#abfc27"/><path d="M228 421.8 235.2 423.9 241.6 416.8 234.4 414.8 Z" fill="#cdfb30"/><path d="M105.1 414.2 112.6 422.2 119 419.7 111.6 411.8 Z" fill="#d4f719"/><path d="M119 419.7 126.4 427 132.8 424 125.4 416.8 Z" fill="#c4f91d"/><path d="M132.8 424 140.1 430.7 146.5 427.2 139.2 420.6 Z" fill="#b8fb21"/><path d="M146.5 427.2 153.8 433.2 160.1 429.2 152.9 423.2 Z" fill="#b0fc24"/><path d="M173.8 430 181 434.8 187.3 429.7 180.1 425 Z" fill="#abfc2a"/><path d="M187.3 429.7 194.6 433.8 200.9 428.2 193.7 424.2 Z" fill="#aefc2c"/><path d="M200.9 428.2 208.1 431.6 214.5 425.6 207.3 422.2 Z" fill="#b5fc2e"/><path d="M214.5 425.6 221.6 428.3 228 421.8 220.8 419.1 Z" fill="#bffc2f"/><path d="M126.4 427 133.8 433.8 140.1 430.7 132.8 424 Z" fill="#b0fa1f"/><path d="M153.8 433.2 161.1 438.8 167.4 434.6 160.1 429.2 Z" fill="#a3fd28"/><path d="M167.4 434.6 174.7 439.5 181 434.8 173.8 430 Z" fill="#a1fd2b"/><path d="M194.6 433.8 201.8 437.3 208.1 431.6 200.9 428.2 Z" fill="#a7fd2e"/><path d="M221.6 428.3 228.8 430.5 235.2 423.9 228 421.8 Z" fill="#bbfc2f"/><path d="M235.2 423.9 242.4 425.3 248.8 418.2 241.6 416.8 Z" fill="#cbfb30"/><path d="M112.6 422.2 120 429.6 126.4 427 119 419.7 Z" fill="#bef81b"/><path d="M98.7 416.1 106.2 424.2 112.6 422.2 105.1 414.2 Z" fill="#d0f617"/><path d="M140.1 430.7 147.5 436.9 153.8 433.2 146.5 427.2 Z" fill="#a7fb23"/><path d="M181 434.8 188.2 439 194.6 433.8 187.3 429.7 Z" fill="#a3fd2d"/><path d="M208.1 431.6 215.3 434.5 221.6 428.3 214.5 425.6 Z" fill="#aefc2e"/><path d="M92.2 417.6 99.8 425.7 106.2 424.2 98.7 416.1 Z" fill="#cdf415"/><path d="M120 429.6 127.4 436.5 133.8 433.8 126.4 427 Z" fill="#aaf91d"/><path d="M133.8 433.8 141.1 440.1 147.5 436.9 140.1 430.7 Z" fill="#a0fa23"/><path d="M147.5 436.9 154.8 442.5 161.1 438.8 153.8 433.2 Z" fill="#9bfc28"/><path d="M161.1 438.8 168.4 443.7 174.7 439.5 167.4 434.6 Z" fill="#99fd2c"/><path d="M174.7 439.5 181.9 443.7 188.2 439 181 434.8 Z" fill="#99fd2e"/><path d="M188.2 439 195.5 442.6 201.8 437.3 194.6 433.8 Z" fill="#9cfd30"/><path d="M201.8 437.3 209 440.3 215.3 434.5 208.1 431.6 Z" fill="#a2fd30"/><path d="M215.3 434.5 222.5 436.8 228.8 430.5 221.6 428.3 Z" fill="#abfc2f"/><path d="M228.8 430.5 236 432.1 242.4 425.3 235.2 423.9 Z" fill="#b9fc30"/><path d="M242.4 425.3 249.6 426.2 256 419 248.8 418.2 Z" fill="#cbfb30"/><path d="M106.2 424.2 113.6 431.7 120 429.6 112.6 422.2 Z" fill="#b9f719"/><path d="M141.1 440.1 148.5 445.8 154.8 442.5 147.5 436.9 Z" fill="#94fb27"/><path d="M181.9 443.7 189.2 447.4 195.5 442.6 188.2 439 Z" fill="#92fe31"/><path d="M209 440.3 216.2 442.6 222.5 436.8 215.3 434.5 Z" fill="#9ffd31"/><path d="M249.6 426.2 256.8 426.5 263.2 419.2 256 419 Z" fill="#cdfb30"/><path d="M99.8 425.7 107.2 433.4 113.6 431.7 106.2 424.2 Z" fill="#b6f517"/><path d="M85.8 418.5 93.3 426.8 99.8 425.7 92.2 417.6 Z" fill="#ccf314"/><path d="M113.6 431.7 121.1 438.7 127.4 436.5 120 429.6 Z" fill="#a5f71b"/><path d="M127.4 436.5 134.8 442.8 141.1 440.1 133.8 433.8 Z" fill="#9bf922"/><path d="M154.8 442.5 162.1 447.5 168.4 443.7 161.1 438.8 Z" fill="#91fd2c"/><path d="M168.4 443.7 175.6 448.1 181.9 443.7 174.7 439.5 Z" fill="#90fe2f"/><path d="M195.5 442.6 202.7 445.6 209 440.3 201.8 437.3 Z" fill="#97fd32"/><path d="M222.5 436.8 229.7 438.4 236 432.1 228.8 430.5 Z" fill="#aafc30"/><path d="M236 432.1 243.3 433.1 249.6 426.2 242.4 425.3 Z" fill="#b9fc30"/><path d="M79.3 419.1 86.9 427.4 93.3 426.8 85.8 418.5 Z" fill="#cdf214"/><path d="M107.2 433.4 114.7 440.5 121.1 438.7 113.6 431.7 Z" fill="#a2f619"/><path d="M134.8 442.8 142.1 448.6 148.5 445.8 141.1 440.1 Z" fill="#8ffa26"/><path d="M148.5 445.8 155.8 450.9 162.1 447.5 154.8 442.5 Z" fill="#8afc2b"/><path d="M175.6 448.1 182.9 451.9 189.2 447.4 181.9 443.7 Z" fill="#89fe31"/><path d="M189.2 447.4 196.4 450.6 202.7 445.6 195.5 442.6 Z" fill="#8dfe33"/><path d="M202.7 445.6 209.9 448 216.2 442.6 209 440.3 Z" fill="#94fe33"/><path d="M216.2 442.6 223.4 444.4 229.7 438.4 222.5 436.8 Z" fill="#9dfd32"/><path d="M243.3 433.1 250.5 433.4 256.8 426.5 249.6 426.2 Z" fill="#bbfc30"/><path d="M256.8 426.5 264.1 426.1 270.5 418.8 263.2 419.2 Z" fill="#d2fb30"/><path d="M93.3 426.8 100.8 434.6 107.2 433.4 99.8 425.7 Z" fill="#b6f416"/><path d="M121.1 438.7 128.5 445.1 134.8 442.8 127.4 436.5 Z" fill="#97f820"/><path d="M162.1 447.5 169.3 452 175.6 448.1 168.4 443.7 Z" fill="#88fd2f"/><path d="M229.7 438.4 236.9 439.5 243.3 433.1 236 432.1 Z" fill="#aafd30"/><path d="M196.4 450.6 203.6 453.1 209.9 448 202.7 445.6 Z" fill="#8afe34"/><path d="M86.9 427.4 94.4 435.3 100.8 434.6 93.3 426.8 Z" fill="#b7f316"/><path d="M72.8 419.1 80.4 427.6 86.9 427.4 79.3 419.1 Z" fill="#d0f013"/><path d="M100.8 434.6 108.3 441.7 114.7 440.5 107.2 433.4 Z" fill="#a1f518"/><path d="M114.7 440.5 122.1 447 128.5 445.1 121.1 438.7 Z" fill="#94f71f"/><path d="M142.1 448.6 149.5 453.8 155.8 450.9 148.5 445.8 Z" fill="#84fb2a"/><path d="M155.8 450.9 163.1 455.5 169.3 452 162.1 447.5 Z" fill="#81fc2f"/><path d="M169.3 452 176.6 455.9 182.9 451.9 175.6 448.1 Z" fill="#81fe32"/><path d="M182.9 451.9 190.1 455.1 196.4 450.6 189.2 447.4 Z" fill="#84fe33"/><path d="M209.9 448 217.1 449.9 223.4 444.4 216.2 442.6 Z" fill="#92fe34"/><path d="M223.4 444.4 230.6 445.5 236.9 439.5 229.7 438.4 Z" fill="#9dfd32"/><path d="M236.9 439.5 244.2 439.9 250.5 433.4 243.3 433.1 Z" fill="#abfc30"/><path d="M250.5 433.4 257.7 433.1 264.1 426.1 256.8 426.5 Z" fill="#c0fc30"/><path d="M264.1 426.1 271.3 425.2 277.7 417.7 270.5 418.8 Z" fill="#d8fb30"/><path d="M128.5 445.1 135.8 451 142.1 448.6 134.8 442.8 Z" fill="#8af925"/><path d="M94.4 435.3 101.9 442.5 108.3 441.7 100.8 434.6 Z" fill="#a2f418"/><path d="M163.1 455.5 170.3 459.4 176.6 455.9 169.3 452 Z" fill="#7afd31"/><path d="M190.1 455.1 197.4 457.7 203.6 453.1 196.4 450.6 Z" fill="#81fe35"/><path d="M203.6 453.1 210.9 455 217.1 449.9 209.9 448 Z" fill="#88fe35"/><path d="M230.6 445.5 237.9 446 244.2 439.9 236.9 439.5 Z" fill="#9ffd32"/><path d="M271.3 425.2 278.6 423.5 285 416 277.7 417.7 Z" fill="#e0fa2f"/><path d="M122.1 447 129.5 453 135.8 451 128.5 445.1 Z" fill="#87f823"/><path d="M66.3 418.6 74 427.2 80.4 427.6 72.8 419.1 Z" fill="#d4ee13"/><path d="M80.4 427.6 88 435.5 94.4 435.3 86.9 427.4 Z" fill="#b9f115"/><path d="M108.3 441.7 115.8 448.4 122.1 447 114.7 440.5 Z" fill="#93f61d"/><path d="M135.8 451 143.2 456.3 149.5 453.8 142.1 448.6 Z" fill="#80fa29"/><path d="M149.5 453.8 156.8 458.5 163.1 455.5 155.8 450.9 Z" fill="#7bfb2e"/><path d="M176.6 455.9 183.9 459.1 190.1 455.1 182.9 451.9 Z" fill="#7cfe34"/><path d="M217.1 449.9 224.4 451.1 230.6 445.5 223.4 444.4 Z" fill="#92fe34"/><path d="M244.2 439.9 251.4 439.7 257.7 433.1 250.5 433.4 Z" fill="#affc2f"/><path d="M257.7 433.1 265 432.2 271.3 425.2 264.1 426.1 Z" fill="#c6fb2f"/><path d="M101.9 442.5 109.4 449.3 115.8 448.4 108.3 441.7 Z" fill="#93f51d"/><path d="M59.8 417.7 67.5 426.4 74 427.2 66.3 418.6 Z" fill="#daec13"/><path d="M88 435.5 95.5 442.9 101.9 442.5 94.4 435.3 Z" fill="#a5f217"/><path d="M129.5 453 136.9 458.3 143.2 456.3 135.8 451 Z" fill="#7df927"/><path d="M156.8 458.5 164.1 462.5 170.3 459.4 163.1 455.5 Z" fill="#74fc31"/><path d="M170.3 459.4 177.6 462.8 183.9 459.1 176.6 455.9 Z" fill="#75fd33"/><path d="M183.9 459.1 191.1 461.8 197.4 457.7 190.1 455.1 Z" fill="#79fe35"/><path d="M197.4 457.7 204.6 459.6 210.9 455 203.6 453.1 Z" fill="#7fff36"/><path d="M210.9 455 218.1 456.3 224.4 451.1 217.1 449.9 Z" fill="#88fe35"/><path d="M224.4 451.1 231.6 451.7 237.9 446 230.6 445.5 Z" fill="#94fe33"/><path d="M237.9 446 245.1 445.9 251.4 439.7 244.2 439.9 Z" fill="#a2fd31"/><path d="M265 432.2 272.3 430.7 278.6 423.5 271.3 425.2 Z" fill="#cefb2e"/><path d="M278.6 423.5 286 421.2 292.3 413.6 285 416 Z" fill="#eaf930"/><path d="M74 427.2 81.6 435.2 88 435.5 80.4 427.6 Z" fill="#bdf015"/><path d="M115.8 448.4 123.2 454.4 129.5 453 122.1 447 Z" fill="#86f722"/><path d="M143.2 456.3 150.5 461 156.8 458.5 149.5 453.8 Z" fill="#77fa2d"/><path d="M251.4 439.7 258.7 438.9 265 432.2 257.7 433.1 Z" fill="#b5fc2f"/><path d="M177.6 462.8 184.9 465.5 191.1 461.8 183.9 459.1 Z" fill="#71fd36"/><path d="M218.1 456.3 225.3 456.9 231.6 451.7 224.4 451.1 Z" fill="#89fe35"/><path d="M286 421.2 293.3 418.3 299.7 410.6 292.3 413.6 Z" fill="#f6f730"/><path d="M109.4 449.3 116.8 455.4 123.2 454.4 115.8 448.4 Z" fill="#87f521"/><path d="M53.2 416.2 60.9 425 67.5 426.4 59.8 417.7 Z" fill="#e1ea13"/><path d="M67.5 426.4 75.1 434.5 81.6 435.2 74 427.2 Z" fill="#c3ef14"/><path d="M81.6 435.2 89.1 442.7 95.5 442.9 88 435.5 Z" fill="#a9f117"/><path d="M95.5 442.9 103 449.7 109.4 449.3 101.9 442.5 Z" fill="#95f31c"/><path d="M123.2 454.4 130.6 459.9 136.9 458.3 129.5 453 Z" fill="#7bf726"/><path d="M136.9 458.3 144.2 463.1 150.5 461 143.2 456.3 Z" fill="#74f92b"/><path d="M150.5 461 157.8 465.2 164.1 462.5 156.8 458.5 Z" fill="#70fb2f"/><path d="M164.1 462.5 171.4 466 177.6 462.8 170.3 459.4 Z" fill="#6ffc34"/><path d="M191.1 461.8 198.4 463.9 204.6 459.6 197.4 457.7 Z" fill="#77ff36"/><path d="M204.6 459.6 211.8 461 218.1 456.3 210.9 455 Z" fill="#7fff36"/><path d="M231.6 451.7 238.8 451.6 245.1 445.9 237.9 446 Z" fill="#97fd33"/><path d="M245.1 445.9 252.4 445.1 258.7 438.9 251.4 439.7 Z" fill="#a7fd2f"/><path d="M258.7 438.9 266 437.4 272.3 430.7 265 432.2 Z" fill="#bdfc2e"/><path d="M272.3 430.7 279.6 428.5 286 421.2 278.6 423.5 Z" fill="#d8fb2e"/><path d="M116.8 455.4 124.3 461 130.6 459.9 123.2 454.4 Z" fill="#7cf625"/><path d="M144.2 463.1 151.5 467.3 157.8 465.2 150.5 461 Z" fill="#6cfa2e"/><path d="M171.4 466 178.6 468.8 184.9 465.5 177.6 462.8 Z" fill="#6cfc37"/><path d="M184.9 465.5 192.1 467.7 198.4 463.9 191.1 461.8 Z" fill="#70fd38"/><path d="M211.8 461 219.1 461.8 225.3 456.9 218.1 456.3 Z" fill="#80fe36"/><path d="M225.3 456.9 232.6 457 238.8 451.6 231.6 451.7 Z" fill="#8cfe34"/><path d="M252.4 445.1 259.7 443.7 266 437.4 258.7 438.9 Z" fill="#adfc2d"/><path d="M279.6 428.5 286.9 425.6 293.3 418.3 286 421.2 Z" fill="#e4f92d"/><path d="M293.3 418.3 300.7 414.7 307.1 406.9 299.7 410.6 Z" fill="#fdef32"/><path d="M75.1 434.5 82.7 442 89.1 442.7 81.6 435.2 Z" fill="#afef16"/><path d="M103 449.7 110.5 455.9 116.8 455.4 109.4 449.3 Z" fill="#88f420"/><path d="M46.7 414.2 54.4 423.1 60.9 425 53.2 416.2 Z" fill="#eae713"/><path d="M60.9 425 68.6 433.2 75.1 434.5 67.5 426.4 Z" fill="#cbed13"/><path d="M89.1 442.7 96.6 449.6 103 449.7 95.5 442.9 Z" fill="#98f21a"/><path d="M130.6 459.9 137.9 464.8 144.2 463.1 136.9 458.3 Z" fill="#72f829"/><path d="M157.8 465.2 165.1 468.7 171.4 466 164.1 462.5 Z" fill="#6afb34"/><path d="M198.4 463.9 205.6 465.3 211.8 461 204.6 459.6 Z" fill="#76ff36"/><path d="M238.8 451.6 246.1 450.9 252.4 445.1 245.1 445.9 Z" fill="#9bfd31"/><path d="M266 437.4 273.3 435.3 279.6 428.5 272.3 430.7 Z" fill="#c7fb2d"/><path d="M40 411.7 47.8 420.7 54.4 423.1 46.7 414.2 Z" fill="#ecde15"/><path d="M54.4 423.1 62.1 431.4 68.6 433.2 60.9 425 Z" fill="#d4ea13"/><path d="M68.6 433.2 76.2 440.8 82.7 442 75.1 434.5 Z" fill="#b6ee15"/><path d="M82.7 442 90.2 449 96.6 449.6 89.1 442.7 Z" fill="#9cf018"/><path d="M96.6 449.6 104.1 455.9 110.5 455.9 103 449.7 Z" fill="#8bf31f"/><path d="M110.5 455.9 117.9 461.5 124.3 461 116.8 455.4 Z" fill="#7df524"/><path d="M124.3 461 131.6 465.9 137.9 464.8 130.6 459.9 Z" fill="#72f729"/><path d="M137.9 464.8 145.3 469.1 151.5 467.3 144.2 463.1 Z" fill="#6af82d"/><path d="M151.5 467.3 158.9 470.9 165.1 468.7 157.8 465.2 Z" fill="#67fa33"/><path d="M165.1 468.7 172.4 471.6 178.6 468.8 171.4 466 Z" fill="#67fb38"/><path d="M178.6 468.8 185.9 471 192.1 467.7 184.9 465.5 Z" fill="#6afc3a"/><path d="M192.1 467.7 199.4 469.2 205.6 465.3 198.4 463.9 Z" fill="#6ffe39"/><path d="M205.6 465.3 212.9 466.1 219.1 461.8 211.8 461 Z" fill="#78ff36"/><path d="M219.1 461.8 226.4 461.9 232.6 457 225.3 456.9 Z" fill="#83fe35"/><path d="M232.6 457 239.9 456.3 246.1 450.9 238.8 451.6 Z" fill="#91fe32"/><path d="M246.1 450.9 253.4 449.6 259.7 443.7 252.4 445.1 Z" fill="#a2fd2f"/><path d="M259.7 443.7 267 441.6 273.3 435.3 266 437.4 Z" fill="#b7fc2c"/><path d="M273.3 435.3 280.6 432.4 286.9 425.6 279.6 428.5 Z" fill="#d4fb2c"/><path d="M286.9 425.6 294.3 422 300.7 414.7 293.3 418.3 Z" fill="#f2f72e"/><path d="M300.7 414.7 308.1 410.4 314.5 402.6 307.1 406.9 Z" fill="#ffdf36"/><path d="M131.6 465.9 139 470.3 145.3 469.1 137.9 464.8 Z" fill="#6bf72c"/><path d="M158.9 470.9 166.2 473.9 172.4 471.6 165.1 468.7 Z" fill="#63fa37"/><path d="M199.4 469.2 206.7 470.1 212.9 466.1 205.6 465.3 Z" fill="#70fe38"/><path d="M239.9 456.3 247.2 455.1 253.4 449.6 246.1 450.9 Z" fill="#97fd30"/><path d="M267 441.6 274.3 438.9 280.6 432.4 273.3 435.3 Z" fill="#c4fb2b"/><path d="M62.1 431.4 69.7 439.1 76.2 440.8 68.6 433.2 Z" fill="#bfec14"/><path d="M90.2 449 97.7 455.4 104.1 455.9 96.6 449.6 Z" fill="#90f11d"/><path d="M47.8 420.7 55.5 429.1 62.1 431.4 54.4 423.1 Z" fill="#dee813"/><path d="M76.2 440.8 83.8 447.9 90.2 449 82.7 442 Z" fill="#a3ef17"/><path d="M104.1 455.9 111.6 461.6 117.9 461.5 110.5 455.9 Z" fill="#80f323"/><path d="M117.9 461.5 125.3 466.6 131.6 465.9 124.3 461 Z" fill="#74f528"/><path d="M145.3 469.1 152.6 472.7 158.9 470.9 151.5 467.3 Z" fill="#65f832"/><path d="M172.4 471.6 179.7 473.9 185.9 471 178.6 468.8 Z" fill="#65fb3a"/><path d="M185.9 471 193.2 472.6 199.4 469.2 192.1 467.7 Z" fill="#69fc3a"/><path d="M212.9 466.1 220.1 466.3 226.4 461.9 219.1 461.8 Z" fill="#7bff35"/><path d="M226.4 461.9 233.6 461.3 239.9 456.3 232.6 457 Z" fill="#88fe33"/><path d="M253.4 449.6 260.7 447.6 267 441.6 259.7 443.7 Z" fill="#aafc2c"/><path d="M280.6 432.4 288 429 294.3 422 286.9 425.6 Z" fill="#e2fa2b"/><path d="M294.3 422 301.7 417.8 308.1 410.4 300.7 414.7 Z" fill="#fcf02f"/><path d="M125.3 466.6 132.7 471 139 470.3 131.6 465.9 Z" fill="#6cf62b"/><path d="M139 470.3 146.4 474 152.6 472.7 145.3 469.1 Z" fill="#65f731"/><path d="M152.6 472.7 159.9 475.8 166.2 473.9 158.9 470.9 Z" fill="#61f836"/><path d="M166.2 473.9 173.5 476.3 179.7 473.9 172.4 471.6 Z" fill="#61fa3a"/><path d="M193.2 472.6 200.5 473.6 206.7 470.1 199.4 469.2 Z" fill="#6afc3a"/><path d="M206.7 470.1 213.9 470.3 220.1 466.3 212.9 466.1 Z" fill="#73fe35"/><path d="M233.6 461.3 240.9 460.1 247.2 455.1 239.9 456.3 Z" fill="#8efe31"/><path d="M247.2 455.1 254.5 453.1 260.7 447.6 253.4 449.6 Z" fill="#9ffd2e"/><path d="M260.7 447.6 268 444.9 274.3 438.9 267 441.6 Z" fill="#b5fc2b"/><path d="M274.3 438.9 281.7 435.5 288 429 280.6 432.4 Z" fill="#d2fb2a"/><path d="M55.5 429.1 63.2 436.9 69.7 439.1 62.1 431.4 Z" fill="#caeb13"/><path d="M69.7 439.1 77.3 446.3 83.8 447.9 76.2 440.8 Z" fill="#aced16"/><path d="M83.8 447.9 91.3 454.4 97.7 455.4 90.2 449 Z" fill="#95f01a"/><path d="M97.7 455.4 105.2 461.2 111.6 461.6 104.1 455.9 Z" fill="#85f221"/><path d="M111.6 461.6 119 466.7 125.3 466.6 117.9 461.5 Z" fill="#77f426"/><path d="M179.7 473.9 187 475.5 193.2 472.6 185.9 471 Z" fill="#64fb3b"/><path d="M220.1 466.3 227.4 465.8 233.6 461.3 226.4 461.9 Z" fill="#7ffe34"/><path d="M288 429 295.4 424.8 301.7 417.8 294.3 422 Z" fill="#f2f72c"/><path d="M146.4 474 153.7 477.2 159.9 475.8 152.6 472.7 Z" fill="#61f735"/><path d="M254.5 453.1 261.8 450.5 268 444.9 260.7 447.6 Z" fill="#a9fc2a"/><path d="M77.3 446.3 84.9 452.8 91.3 454.4 83.8 447.9 Z" fill="#9cee18"/><path d="M119 466.7 126.4 471.3 132.7 471 125.3 466.6 Z" fill="#6ff429"/><path d="M63.2 436.9 70.9 444.1 77.3 446.3 69.7 439.1 Z" fill="#b7eb15"/><path d="M91.3 454.4 98.9 460.3 105.2 461.2 97.7 455.4 Z" fill="#8af01e"/><path d="M132.7 471 140.1 474.8 146.4 474 139 470.3 Z" fill="#67f62f"/><path d="M159.9 475.8 167.3 478.2 173.5 476.3 166.2 473.9 Z" fill="#5ff938"/><path d="M173.5 476.3 180.8 478 187 475.5 179.7 473.9 Z" fill="#61fa3b"/><path d="M187 475.5 194.3 476.6 200.5 473.6 193.2 472.6 Z" fill="#65fb3a"/><path d="M200.5 473.6 207.7 473.9 213.9 470.3 206.7 470.1 Z" fill="#6dfd37"/><path d="M213.9 470.3 221.2 469.9 227.4 465.8 220.1 466.3 Z" fill="#78fe34"/><path d="M227.4 465.8 234.7 464.7 240.9 460.1 233.6 461.3 Z" fill="#86fe32"/><path d="M240.9 460.1 248.2 458.2 254.5 453.1 247.2 455.1 Z" fill="#96fd2e"/><path d="M268 444.9 275.4 441.6 281.7 435.5 274.3 438.9 Z" fill="#c4fb29"/><path d="M281.7 435.5 289.1 431.4 295.4 424.8 288 429 Z" fill="#e2f929"/><path d="M105.2 461.2 112.7 466.4 119 466.7 111.6 461.6 Z" fill="#7bf224"/><path d="M140.1 474.8 147.5 478.1 153.7 477.2 146.4 474 Z" fill="#63f633"/><path d="M153.7 477.2 161 479.7 167.3 478.2 159.9 475.8 Z" fill="#5ff737"/><path d="M180.8 478 188.1 479.1 194.3 476.6 187 475.5 Z" fill="#62fa3a"/><path d="M221.2 469.9 228.5 468.8 234.7 464.7 227.4 465.8 Z" fill="#7efd32"/><path d="M248.2 458.2 255.6 455.7 261.8 450.5 254.5 453.1 Z" fill="#9ffd2b"/><path d="M261.8 450.5 269.2 447.3 275.4 441.6 268 444.9 Z" fill="#b6fc28"/><path d="M112.7 466.4 120.1 471 126.4 471.3 119 466.7 Z" fill="#73f327"/><path d="M70.9 444.1 78.5 450.8 84.9 452.8 77.3 446.3 Z" fill="#a6ec16"/><path d="M84.9 452.8 92.5 458.8 98.9 460.3 91.3 454.4 Z" fill="#91ef1c"/><path d="M126.4 471.3 133.8 475.2 140.1 474.8 132.7 471 Z" fill="#69f52c"/><path d="M98.9 460.3 106.3 465.5 112.7 466.4 105.2 461.2 Z" fill="#81f122"/><path d="M167.3 478.2 174.6 480 180.8 478 173.5 476.3 Z" fill="#5ef939"/><path d="M194.3 476.6 201.6 477 207.7 473.9 200.5 473.6 Z" fill="#68fb38"/><path d="M207.7 473.9 215 473.5 221.2 469.9 213.9 470.3 Z" fill="#71fd34"/><path d="M234.7 464.7 242 462.9 248.2 458.2 240.9 460.1 Z" fill="#8dfe2f"/><path d="M275.4 441.6 282.8 437.6 289.1 431.4 281.7 435.5 Z" fill="#d4fb28"/><path d="M133.8 475.2 141.2 478.4 147.5 478.1 140.1 474.8 Z" fill="#65f530"/><path d="M78.5 450.8 86 456.8 92.5 458.8 84.9 452.8 Z" fill="#98ed18"/><path d="M106.3 465.5 113.8 470.2 120.1 471 112.7 466.4 Z" fill="#79f125"/><path d="M120.1 471 127.5 475 133.8 475.2 126.4 471.3 Z" fill="#6df329"/><path d="M147.5 478.1 154.8 480.6 161 479.7 153.7 477.2 Z" fill="#60f635"/><path d="M161 479.7 168.4 481.5 174.6 480 167.3 478.2 Z" fill="#5ef738"/><path d="M174.6 480 181.9 481.2 188.1 479.1 180.8 478 Z" fill="#5ff939"/><path d="M188.1 479.1 195.4 479.6 201.6 477 194.3 476.6 Z" fill="#64fa38"/><path d="M215 473.5 222.3 472.5 228.5 468.8 221.2 469.9 Z" fill="#77fc31"/><path d="M228.5 468.8 235.8 467.1 242 462.9 234.7 464.7 Z" fill="#86fd2f"/><path d="M242 462.9 249.4 460.4 255.6 455.7 248.2 458.2 Z" fill="#97fd2c"/><path d="M255.6 455.7 262.9 452.5 269.2 447.3 261.8 450.5 Z" fill="#aafc27"/><path d="M269.2 447.3 276.6 443.3 282.8 437.6 275.4 441.6 Z" fill="#c7fb27"/><path d="M92.5 458.8 100 464.2 106.3 465.5 98.9 460.3 Z" fill="#87ef1f"/><path d="M201.6 477 208.9 476.7 215 473.5 207.7 473.9 Z" fill="#6cfb35"/><path d="M127.5 475 134.9 478.3 141.2 478.4 133.8 475.2 Z" fill="#69f42b"/><path d="M168.4 481.5 175.7 482.8 181.9 481.2 174.6 480 Z" fill="#5ff838"/><path d="M235.8 467.1 243.2 464.7 249.4 460.4 242 462.9 Z" fill="#8ffd2c"/><path d="M100 464.2 107.5 468.9 113.8 470.2 106.3 465.5 Z" fill="#7ff022"/><path d="M86 456.8 93.6 462.3 100 464.2 92.5 458.8 Z" fill="#8fee1c"/><path d="M113.8 470.2 121.2 474.3 127.5 475 120.1 471 Z" fill="#73f227"/><path d="M141.2 478.4 148.6 481.1 154.8 480.6 147.5 478.1 Z" fill="#63f532"/><path d="M154.8 480.6 162.2 482.6 168.4 481.5 161 479.7 Z" fill="#5ff636"/><path d="M181.9 481.2 189.2 481.7 195.4 479.6 188.1 479.1 Z" fill="#61f937"/><path d="M195.4 479.6 202.7 479.4 208.9 476.7 201.6 477 Z" fill="#68fa34"/><path d="M208.9 476.7 216.2 475.7 222.3 472.5 215 473.5 Z" fill="#72fb30"/><path d="M222.3 472.5 229.7 470.8 235.8 467.1 228.5 468.8 Z" fill="#7ffc2f"/><path d="M249.4 460.4 256.7 457.3 262.9 452.5 255.6 455.7 Z" fill="#a2fd28"/><path d="M262.9 452.5 270.3 448.6 276.6 443.3 269.2 447.3 Z" fill="#bbfc26"/><path d="M93.6 462.3 101.1 467.1 107.5 468.9 100 464.2 Z" fill="#87ee1f"/><path d="M121.2 474.3 128.7 477.7 134.9 478.3 127.5 475 Z" fill="#6ef229"/><path d="M134.9 478.3 142.3 481 148.6 481.1 141.2 478.4 Z" fill="#66f42e"/><path d="M162.2 482.6 169.5 483.9 175.7 482.8 168.4 481.5 Z" fill="#60f636"/><path d="M175.7 482.8 183 483.3 189.2 481.7 181.9 481.2 Z" fill="#61f836"/><path d="M202.7 479.4 210 478.5 216.2 475.7 208.9 476.7 Z" fill="#6efa2f"/><path d="M229.7 470.8 237 468.5 243.2 464.7 235.8 467.1 Z" fill="#88fc2b"/><path d="M243.2 464.7 250.5 461.6 256.7 457.3 249.4 460.4 Z" fill="#9afc28"/><path d="M107.5 468.9 114.9 473 121.2 474.3 113.8 470.2 Z" fill="#79f024"/><path d="M148.6 481.1 155.9 483.1 162.2 482.6 154.8 480.6 Z" fill="#62f533"/><path d="M189.2 481.7 196.5 481.5 202.7 479.4 195.4 479.6 Z" fill="#65f933"/><path d="M216.2 475.7 223.5 474.1 229.7 470.8 222.3 472.5 Z" fill="#79fb2e"/><path d="M256.7 457.3 264.1 453.4 270.3 448.6 262.9 452.5 Z" fill="#b0fc25"/><path d="M114.9 473 122.4 476.5 128.7 477.7 121.2 474.3 Z" fill="#74f126"/><path d="M101.1 467.1 108.6 471.3 114.9 473 107.5 468.9 Z" fill="#81ef21"/><path d="M128.7 477.7 136.1 480.5 142.3 481 134.9 478.3 Z" fill="#6bf22a"/><path d="M142.3 481 149.7 483.1 155.9 483.1 148.6 481.1 Z" fill="#65f42f"/><path d="M155.9 483.1 163.3 484.4 169.5 483.9 162.2 482.6 Z" fill="#62f533"/><path d="M169.5 483.9 176.8 484.5 183 483.3 175.7 482.8 Z" fill="#62f634"/><path d="M183 483.3 190.4 483.3 196.5 481.5 189.2 481.7 Z" fill="#65f832"/><path d="M196.5 481.5 203.8 480.7 210 478.5 202.7 479.4 Z" fill="#6bf92e"/><path d="M210 478.5 217.3 476.9 223.5 474.1 216.2 475.7 Z" fill="#75fa2c"/><path d="M223.5 474.1 230.8 471.8 237 468.5 229.7 470.8 Z" fill="#83fb2b"/><path d="M237 468.5 244.4 465.4 250.5 461.6 243.2 464.7 Z" fill="#94fb28"/><path d="M250.5 461.6 257.9 457.8 264.1 453.4 256.7 457.3 Z" fill="#a7fc24"/><path d="M108.6 471.3 116.1 474.8 122.4 476.5 114.9 473 Z" fill="#7cef23"/><path d="M149.7 483.1 157.1 484.5 163.3 484.4 155.9 483.1 Z" fill="#65f42f"/><path d="M190.4 483.3 197.7 482.5 203.8 480.7 196.5 481.5 Z" fill="#6af82d"/><path d="M217.3 476.9 224.7 474.7 230.8 471.8 223.5 474.1 Z" fill="#7ffa29"/><path d="M122.4 476.5 129.8 479.4 136.1 480.5 128.7 477.7 Z" fill="#71f127"/><path d="M136.1 480.5 143.5 482.6 149.7 483.1 142.3 481 Z" fill="#6af32a"/><path d="M163.3 484.4 170.7 485.1 176.8 484.5 169.5 483.9 Z" fill="#64f531"/><path d="M176.8 484.5 184.2 484.5 190.4 483.3 183 483.3 Z" fill="#65f730"/><path d="M203.8 480.7 211.2 479.2 217.3 476.9 210 478.5 Z" fill="#72f92b"/><path d="M230.8 471.8 238.2 468.8 244.4 465.4 237 468.5 Z" fill="#8efa27"/><path d="M244.4 465.4 251.8 461.7 257.9 457.8 250.5 461.6 Z" fill="#a0fb23"/><path d="M116.1 474.8 123.5 477.7 129.8 479.4 122.4 476.5 Z" fill="#79ef24"/><path d="M129.8 479.4 137.2 481.6 143.5 482.6 136.1 480.5 Z" fill="#70f128"/><path d="M143.5 482.6 150.9 484.1 157.1 484.5 149.7 483.1 Z" fill="#6af32a"/><path d="M157.1 484.5 164.5 485.3 170.7 485.1 163.3 484.4 Z" fill="#67f42d"/><path d="M184.2 484.5 191.5 483.8 197.7 482.5 190.4 483.3 Z" fill="#6bf72b"/><path d="M197.7 482.5 205 481 211.2 479.2 203.8 480.7 Z" fill="#71f82a"/><path d="M211.2 479.2 218.5 477 224.7 474.7 217.3 476.9 Z" fill="#7bf828"/><path d="M224.7 474.7 232.1 471.7 238.2 468.8 230.8 471.8 Z" fill="#8af926"/><path d="M170.7 485.1 178 485.2 184.2 484.5 176.8 484.5 Z" fill="#67f52e"/><path d="M238.2 468.8 245.6 465.1 251.8 461.7 244.4 465.4 Z" fill="#9bfa22"/><path d="M205 481 212.4 478.9 218.5 477 211.2 479.2 Z" fill="#7af726"/><path d="M123.5 477.7 130.9 480 137.2 481.6 129.8 479.4 Z" fill="#77ef25"/><path d="M137.2 481.6 144.6 483.1 150.9 484.1 143.5 482.6 Z" fill="#70f128"/><path d="M150.9 484.1 158.2 484.9 164.5 485.3 157.1 484.5 Z" fill="#6cf32a"/><path d="M164.5 485.3 171.8 485.4 178 485.2 170.7 485.1 Z" fill="#6bf42b"/><path d="M178 485.2 185.4 484.5 191.5 483.8 184.2 484.5 Z" fill="#6df52a"/><path d="M191.5 483.8 198.9 482.4 205 481 197.7 482.5 Z" fill="#72f629"/><path d="M218.5 477 225.9 474.2 232.1 471.7 224.7 474.7 Z" fill="#86f824"/><path d="M232.1 471.7 239.5 468.1 245.6 465.1 238.2 468.8 Z" fill="#96f921"/><path d="M130.9 480 138.4 481.6 144.6 483.1 137.2 481.6 Z" fill="#77f025"/><path d="M171.8 485.4 179.2 484.8 185.4 484.5 178 485.2 Z" fill="#70f429"/><path d="M198.9 482.4 206.3 480.3 212.4 478.9 205 481 Z" fill="#7bf626"/><path d="M212.4 478.9 219.8 476.1 225.9 474.2 218.5 477 Z" fill="#85f722"/><path d="M144.6 483.1 152 484 158.2 484.9 150.9 484.1 Z" fill="#72f127"/><path d="M158.2 484.9 165.6 485 171.8 485.4 164.5 485.3 Z" fill="#6ff329"/><path d="M185.4 484.5 192.7 483.2 198.9 482.4 191.5 483.8 Z" fill="#74f528"/><path d="M225.9 474.2 233.3 470.6 239.5 468.1 232.1 471.7 Z" fill="#93f720"/><path d="M138.4 481.6 145.8 482.5 152 484 144.6 483.1 Z" fill="#79f024"/><path d="M165.6 485 173 484.5 179.2 484.8 171.8 485.4 Z" fill="#74f227"/><path d="M179.2 484.8 186.6 483.5 192.7 483.2 185.4 484.5 Z" fill="#77f426"/><path d="M192.7 483.2 200.1 481.1 206.3 480.3 198.9 482.4 Z" fill="#7cf525"/><path d="M206.3 480.3 213.6 477.5 219.8 476.1 212.4 478.9 Z" fill="#85f622"/><path d="M219.8 476.1 227.2 472.5 233.3 470.6 225.9 474.2 Z" fill="#91f61e"/><path d="M152 484 159.4 484.2 165.6 485 158.2 484.9 Z" fill="#75f126"/><path d="M159.4 484.2 166.8 483.7 173 484.5 165.6 485 Z" fill="#7af124"/><path d="M186.6 483.5 194 481.5 200.1 481.1 192.7 483.2 Z" fill="#80f323"/><path d="M145.8 482.5 153.2 482.8 159.4 484.2 152 484 Z" fill="#7cef23"/><path d="M173 484.5 180.4 483.2 186.6 483.5 179.2 484.8 Z" fill="#7bf224"/><path d="M200.1 481.1 207.5 478.4 213.6 477.5 206.3 480.3 Z" fill="#87f421"/><path d="M213.6 477.5 221 474 227.2 472.5 219.8 476.1 Z" fill="#91f51d"/><path d="M153.2 482.8 160.6 482.3 166.8 483.7 159.4 484.2 Z" fill="#81ef21"/><path d="M166.8 483.7 174.2 482.5 180.4 483.2 173 484.5 Z" fill="#81f122"/><path d="M180.4 483.2 187.8 481.3 194 481.5 186.6 483.5 Z" fill="#84f221"/><path d="M194 481.5 201.4 478.8 207.5 478.4 200.1 481.1 Z" fill="#8af31f"/><path d="M207.5 478.4 214.9 474.9 221 474 213.6 477.5 Z" fill="#93f41d"/><path d="M160.6 482.3 168 481.2 174.2 482.5 166.8 483.7 Z" fill="#88ef1f"/><path d="M174.2 482.5 181.6 480.6 187.8 481.3 180.4 483.2 Z" fill="#89f01f"/><path d="M187.8 481.3 195.2 478.6 201.4 478.8 194 481.5 Z" fill="#8ef11e"/><path d="M201.4 478.8 208.8 475.4 214.9 474.9 207.5 478.4 Z" fill="#96f21b"/><path d="M168 481.2 175.5 479.3 181.6 480.6 174.2 482.5 Z" fill="#90ef1c"/><path d="M181.6 480.6 189.1 478 195.2 478.6 187.8 481.3 Z" fill="#93f01b"/><path d="M195.2 478.6 202.6 475.3 208.8 475.4 201.4 478.8 Z" fill="#9af119"/><path d="M175.5 479.3 182.9 476.8 189.1 478 181.6 480.6 Z" fill="#9aee18"/><path d="M189.1 478 196.5 474.6 202.6 475.3 195.2 478.6 Z" fill="#9fef18"/><path d="M182.9 476.8 190.3 473.5 196.5 474.6 189.1 478 Z" fill="#a8ee16"/></g>
<circle cx="82.2" cy="581.5" r="1" fill="#111"/>
<circle cx="118.3" cy="593.7" r="1" fill="#111"/>
<circle cx="154.5" cy="606" r="1" fill="#111"/>
<circle cx="220.2" cy="604.4" r="1" fill="#111"/>
<circle cx="249.8" cy="590.5" r="1" fill="#111"/>
<circle cx="279.3" cy="576.7" r="1" fill="#111"/>
<text x="25.3" y="376.4" text-anchor="middle" dominant-baseline="central" fill="#2b2b33" style="font-family:'Liberation Serif',serif;font-size:13.6px;">93</text>
<text x="25.3" y="395.8" text-anchor="middle" dominant-baseline="central" fill="#2b2b33" style="font-family:'Liberation Serif',serif;font-size:13.6px;">92</text>
<text x="25.3" y="415.9" text-anchor="middle" dominant-baseline="central" fill="#2b2b33" style="font-family:'Liberation Serif',serif;font-size:13.6px;">91</text>
<text x="25.3" y="436" text-anchor="middle" dominant-baseline="central" fill="#2b2b33" style="font-family:'Liberation Serif',serif;font-size:13.6px;">90</text>
<text x="25.3" y="456" text-anchor="middle" dominant-baseline="central" fill="#2b2b33" style="font-family:'Liberation Serif',serif;font-size:13.6px;">89</text>
<text x="25.3" y="476" text-anchor="middle" dominant-baseline="central" fill="#2b2b33" style="font-family:'Liberation Serif',serif;font-size:13.6px;">88</text>
<text x="25.3" y="495.8" text-anchor="middle" dominant-baseline="central" fill="#2b2b33" style="font-family:'Liberation Serif',serif;font-size:13.6px;">87</text>
<text x="25.3" y="516" text-anchor="middle" dominant-baseline="central" fill="#2b2b33" style="font-family:'Liberation Serif',serif;font-size:13.6px;">86</text>
<text x="33.9" y="577.5" text-anchor="middle" dominant-baseline="central" fill="#2b2b33" style="font-family:'Liberation Serif',serif;font-size:13.6px;">5</text>
<text x="64.8" y="589.3" text-anchor="middle" dominant-baseline="central" fill="#2b2b33" style="font-family:'Liberation Serif',serif;font-size:13.6px;">5.5</text>
<text x="106.8" y="601.9" text-anchor="middle" dominant-baseline="central" fill="#2b2b33" style="font-family:'Liberation Serif',serif;font-size:13.6px;">6</text>
<text x="137" y="614" text-anchor="middle" dominant-baseline="central" fill="#2b2b33" style="font-family:'Liberation Serif',serif;font-size:13.6px;">6.5</text>
<text x="178" y="625.2" text-anchor="middle" dominant-baseline="central" fill="#2b2b33" style="font-family:'Liberation Serif',serif;font-size:13.6px;">7</text>
<text x="204.8" y="625.7" text-anchor="middle" dominant-baseline="central" fill="#2b2b33" style="font-family:'Liberation Serif',serif;font-size:13.6px;">40</text>
<text x="233.7" y="611" text-anchor="middle" dominant-baseline="central" fill="#2b2b33" style="font-family:'Liberation Serif',serif;font-size:13.6px;">35</text>
<text x="263.6" y="597.6" text-anchor="middle" dominant-baseline="central" fill="#2b2b33" style="font-family:'Liberation Serif',serif;font-size:13.6px;">30</text>
<text x="292.5" y="583.8" text-anchor="middle" dominant-baseline="central" fill="#2b2b33" style="font-family:'Liberation Serif',serif;font-size:13.6px;">25</text>
<text x="321" y="570.5" text-anchor="middle" dominant-baseline="central" fill="#2b2b33" style="font-family:'Liberation Serif',serif;font-size:13.6px;">20</text>
<text x="0" y="0" text-anchor="middle" dominant-baseline="central" fill="#222" style="font-family:'Liberation Serif',serif;font-size:16px;font-weight:bold;" transform="translate(7.3 467) rotate(-90) scale(0.87 1)">Removal (%)</text>
<text x="88" y="617.7" text-anchor="middle" dominant-baseline="central" fill="#222" style="font-family:'Liberation Serif',serif;font-size:12px;font-weight:bold;font-style:italic;" transform="rotate(25 88 617.7)">pH</text>
<text x="273" y="613" text-anchor="middle" dominant-baseline="central" fill="#222" style="font-family:'Liberation Serif',serif;font-size:12.5px;font-weight:bold;" transform="rotate(-32 273 613)">Dye Concentration</text>
<text x="280.7" y="628.2" text-anchor="middle" dominant-baseline="central" fill="#222" style="font-family:'Liberation Sans',sans-serif;font-size:10.5px;font-weight:bold;" transform="rotate(-32 280.7 628.2)">(mg/L)</text>
<line x1="70" y1="611.2" x2="72.6" y2="611.2" stroke="#8a8a8a" stroke-width="0.8"/>
<line x1="387.7" y1="162" x2="548.6" y2="116.5" stroke="#dcdcdc" stroke-width="0.9"/>
<line x1="548.6" y1="116.5" x2="660" y2="183.6" stroke="#dcdcdc" stroke-width="0.9"/>
<line x1="387.7" y1="143.6" x2="548.6" y2="98.1" stroke="#dcdcdc" stroke-width="0.9"/>
<line x1="548.6" y1="98.1" x2="660" y2="165.2" stroke="#dcdcdc" stroke-width="0.9"/>
<line x1="387.7" y1="125.2" x2="548.6" y2="79.7" stroke="#dcdcdc" stroke-width="0.9"/>
<line x1="548.6" y1="79.7" x2="660" y2="146.8" stroke="#dcdcdc" stroke-width="0.9"/>
<line x1="387.7" y1="106.8" x2="548.6" y2="61.2" stroke="#dcdcdc" stroke-width="0.9"/>
<line x1="548.6" y1="61.2" x2="660" y2="128.3" stroke="#dcdcdc" stroke-width="0.9"/>
<line x1="387.7" y1="88.3" x2="548.6" y2="42.8" stroke="#dcdcdc" stroke-width="0.9"/>
<line x1="548.6" y1="42.8" x2="660" y2="109.9" stroke="#dcdcdc" stroke-width="0.9"/>
<line x1="387.7" y1="69.9" x2="548.6" y2="24.4" stroke="#dcdcdc" stroke-width="0.9"/>
<line x1="548.6" y1="24.4" x2="660" y2="91.5" stroke="#dcdcdc" stroke-width="0.9"/>
<line x1="387.7" y1="51.5" x2="548.6" y2="6" stroke="#dcdcdc" stroke-width="0.9"/>
<line x1="548.6" y1="6" x2="660" y2="73.1" stroke="#dcdcdc" stroke-width="0.9"/>
<line x1="387.7" y1="162" x2="387.7" y2="51.5" stroke="#dcdcdc" stroke-width="0.9"/>
<line x1="387.7" y1="162" x2="499.1" y2="229.1" stroke="#dcdcdc" stroke-width="0.9"/>
<line x1="419.9" y1="152.9" x2="419.9" y2="42.4" stroke="#dcdcdc" stroke-width="0.9"/>
<line x1="419.9" y1="152.9" x2="531.3" y2="220" stroke="#dcdcdc" stroke-width="0.9"/>
<line x1="452.1" y1="143.8" x2="452.1" y2="33.3" stroke="#dcdcdc" stroke-width="0.9"/>
<line x1="452.1" y1="143.8" x2="563.5" y2="210.9" stroke="#dcdcdc" stroke-width="0.9"/>
<line x1="484.2" y1="134.7" x2="484.2" y2="24.2" stroke="#dcdcdc" stroke-width="0.9"/>
<line x1="484.2" y1="134.7" x2="595.6" y2="201.8" stroke="#dcdcdc" stroke-width="0.9"/>
<line x1="516.4" y1="125.6" x2="516.4" y2="15.1" stroke="#dcdcdc" stroke-width="0.9"/>
<line x1="516.4" y1="125.6" x2="627.8" y2="192.7" stroke="#dcdcdc" stroke-width="0.9"/>
<line x1="548.6" y1="116.5" x2="548.6" y2="6" stroke="#dcdcdc" stroke-width="0.9"/>
<line x1="548.6" y1="116.5" x2="660" y2="183.6" stroke="#dcdcdc" stroke-width="0.9"/>
<line x1="548.6" y1="116.5" x2="548.6" y2="6" stroke="#dcdcdc" stroke-width="0.9"/>
<line x1="387.7" y1="162" x2="548.6" y2="116.5" stroke="#dcdcdc" stroke-width="0.9"/>
<line x1="570.9" y1="129.9" x2="570.9" y2="19.4" stroke="#dcdcdc" stroke-width="0.9"/>
<line x1="410" y1="175.4" x2="570.9" y2="129.9" stroke="#dcdcdc" stroke-width="0.9"/>
<line x1="593.2" y1="143.3" x2="593.2" y2="32.8" stroke="#dcdcdc" stroke-width="0.9"/>
<line x1="432.3" y1="188.8" x2="593.2" y2="143.3" stroke="#dcdcdc" stroke-width="0.9"/>
<line x1="615.4" y1="156.8" x2="615.4" y2="46.3" stroke="#dcdcdc" stroke-width="0.9"/>
<line x1="454.5" y1="202.3" x2="615.4" y2="156.8" stroke="#dcdcdc" stroke-width="0.9"/>
<line x1="637.7" y1="170.2" x2="637.7" y2="59.7" stroke="#dcdcdc" stroke-width="0.9"/>
<line x1="476.8" y1="215.7" x2="637.7" y2="170.2" stroke="#dcdcdc" stroke-width="0.9"/>
<line x1="660" y1="183.6" x2="660" y2="73.1" stroke="#dcdcdc" stroke-width="0.9"/>
<line x1="499.1" y1="229.1" x2="660" y2="183.6" stroke="#dcdcdc" stroke-width="0.9"/>
<line x1="387.7" y1="162" x2="387.7" y2="51.5" stroke="#3c3c3c" stroke-width="1.25"/>
<line x1="387.7" y1="162" x2="499.1" y2="229.1" stroke="#3c3c3c" stroke-width="1.25"/>
<line x1="499.1" y1="229.1" x2="660" y2="183.6" stroke="#3c3c3c" stroke-width="1.25"/>
<line x1="387.7" y1="162" x2="382.9" y2="163.4" stroke="#3c3c3c" stroke-width="1.1"/>
<line x1="387.7" y1="143.6" x2="382.9" y2="144.9" stroke="#3c3c3c" stroke-width="1.1"/>
<line x1="387.7" y1="125.2" x2="382.9" y2="126.5" stroke="#3c3c3c" stroke-width="1.1"/>
<line x1="387.7" y1="106.8" x2="382.9" y2="108.1" stroke="#3c3c3c" stroke-width="1.1"/>
<line x1="387.7" y1="88.3" x2="382.9" y2="89.7" stroke="#3c3c3c" stroke-width="1.1"/>
<line x1="387.7" y1="69.9" x2="382.9" y2="71.3" stroke="#3c3c3c" stroke-width="1.1"/>
<line x1="387.7" y1="51.5" x2="382.9" y2="52.9" stroke="#3c3c3c" stroke-width="1.1"/>
<line x1="387.7" y1="162" x2="382.9" y2="163.4" stroke="#3c3c3c" stroke-width="1.1"/>
<line x1="410" y1="175.4" x2="405.2" y2="176.8" stroke="#3c3c3c" stroke-width="1.1"/>
<line x1="432.3" y1="188.8" x2="427.4" y2="190.2" stroke="#3c3c3c" stroke-width="1.1"/>
<line x1="454.5" y1="202.3" x2="449.7" y2="203.6" stroke="#3c3c3c" stroke-width="1.1"/>
<line x1="476.8" y1="215.7" x2="472" y2="217" stroke="#3c3c3c" stroke-width="1.1"/>
<line x1="499.1" y1="229.1" x2="494.3" y2="230.5" stroke="#3c3c3c" stroke-width="1.1"/>
<line x1="499.1" y1="229.1" x2="503.4" y2="231.7" stroke="#3c3c3c" stroke-width="1.1"/>
<line x1="531.3" y1="220" x2="535.6" y2="222.6" stroke="#3c3c3c" stroke-width="1.1"/>
<line x1="563.5" y1="210.9" x2="567.7" y2="213.5" stroke="#3c3c3c" stroke-width="1.1"/>
<line x1="595.6" y1="201.8" x2="599.9" y2="204.4" stroke="#3c3c3c" stroke-width="1.1"/>
<line x1="627.8" y1="192.7" x2="632.1" y2="195.3" stroke="#3c3c3c" stroke-width="1.1"/>
<line x1="660" y1="183.6" x2="664.3" y2="186.2" stroke="#3c3c3c" stroke-width="1.1"/>
<g stroke="#101010" stroke-width="0.8" stroke-linejoin="round"><path d="M540.6 16.8 548.5 31.3 556.6 26.6 548.6 12.6 Z" fill="#ff4200"/><path d="M532.5 22.6 540.5 37.2 548.5 31.3 540.6 16.8 Z" fill="#ff4f00"/><path d="M548.5 31.3 556.5 45.4 564.5 40.3 556.6 26.6 Z" fill="#ff7c00"/><path d="M524.5 33.2 532.4 47.5 540.5 37.2 532.5 22.6 Z" fill="#ff6400"/><path d="M540.5 37.2 548.4 51.5 556.5 45.4 548.5 31.3 Z" fill="#ff8b00"/><path d="M556.5 45.4 564.4 58.8 572.5 53.3 564.5 40.3 Z" fill="#ffb300"/><path d="M516.4 46 524.4 59.4 532.4 47.5 524.5 33.2 Z" fill="#ff9800"/><path d="M532.4 47.5 540.4 61.3 548.4 51.5 540.5 37.2 Z" fill="#ffa200"/><path d="M548.4 51.5 556.4 65 564.4 58.8 556.5 45.4 Z" fill="#ffc500"/><path d="M508.4 57.4 516.3 70.1 524.4 59.4 516.4 46 Z" fill="#ffda00"/><path d="M564.4 58.8 572.4 71.3 580.4 65.5 572.5 53.3 Z" fill="#ffe700"/><path d="M524.4 59.4 532.3 72.4 540.4 61.3 532.4 47.5 Z" fill="#ffd400"/><path d="M540.4 61.3 548.3 74.2 556.4 65 548.4 51.5 Z" fill="#ffdd00"/><path d="M500.3 67.8 508.3 79.9 516.3 70.1 508.4 57.4 Z" fill="#ebff14"/><path d="M556.4 65 564.3 77.4 572.4 71.3 564.4 58.8 Z" fill="#fffb00"/><path d="M516.3 70.1 524.3 82.3 532.3 72.4 524.4 59.4 Z" fill="#eeff11"/><path d="M572.4 71.3 580.3 82.3 588.4 76.4 580.4 65.5 Z" fill="#e9ff16"/><path d="M532.3 72.4 540.3 84.4 548.3 74.2 540.4 61.3 Z" fill="#f2ff0d"/><path d="M492.3 79.4 500.2 90.7 508.3 79.9 500.3 67.8 Z" fill="#b9ff46"/><path d="M548.3 74.2 556.3 86.1 564.3 77.4 556.4 65 Z" fill="#ebff14"/><path d="M508.3 79.9 516.2 91.5 524.3 82.3 516.3 70.1 Z" fill="#baff45"/><path d="M564.3 77.4 572.3 88.2 580.3 82.3 572.4 71.3 Z" fill="#d3ff2c"/><path d="M524.3 82.3 532.2 93.5 540.3 84.4 532.3 72.4 Z" fill="#bbff44"/><path d="M484.2 87.4 492.2 98.5 500.2 90.7 492.3 79.4 Z" fill="#7fff80"/><path d="M580.3 82.3 588.3 91.6 596.3 85.8 588.4 76.4 Z" fill="#c3ff3c"/><path d="M540.3 84.4 548.2 95.3 556.3 86.1 548.3 74.2 Z" fill="#bfff40"/><path d="M500.2 90.7 508.2 101.5 516.2 91.5 508.3 79.9 Z" fill="#8bff74"/><path d="M556.3 86.1 564.3 96.3 572.3 88.2 564.3 77.4 Z" fill="#bcff43"/><path d="M516.2 91.5 524.2 102 532.2 93.5 524.3 82.3 Z" fill="#8cff73"/><path d="M476.2 91 484.2 102.6 492.2 98.5 484.2 87.4 Z" fill="#5bffa4"/><path d="M572.3 88.2 580.3 97.1 588.3 91.6 580.3 82.3 Z" fill="#acff53"/><path d="M532.2 93.5 540.2 103.5 548.2 95.3 540.3 84.4 Z" fill="#8eff71"/><path d="M492.2 98.5 500.2 109.1 508.2 101.5 500.2 90.7 Z" fill="#56ffa9"/><path d="M588.3 91.6 596.3 99.3 604.3 93.8 596.3 85.8 Z" fill="#a6ff59"/><path d="M548.2 95.3 556.2 104.9 564.3 96.3 556.3 86.1 Z" fill="#94ff6b"/><path d="M508.2 101.5 516.2 111.3 524.2 102 516.2 91.5 Z" fill="#60ff9f"/><path d="M468.1 93.8 476.1 105.3 484.2 102.6 476.2 91 Z" fill="#52ffad"/><path d="M564.3 96.3 572.2 104.7 580.3 97.1 572.3 88.2 Z" fill="#96ff69"/><path d="M524.2 102 532.2 111.5 540.2 103.5 532.2 93.5 Z" fill="#64ff9b"/><path d="M484.2 102.6 492.1 113.6 500.2 109.1 492.2 98.5 Z" fill="#33ffcc"/><path d="M580.3 97.1 588.2 104.3 596.3 99.3 588.3 91.6 Z" fill="#90ff6f"/><path d="M540.2 103.5 548.2 112.5 556.2 104.9 548.2 95.3 Z" fill="#68ff97"/><path d="M500.2 109.1 508.1 118.6 516.2 111.3 508.2 101.5 Z" fill="#30ffcf"/><path d="M596.3 99.3 604.2 105.6 612.3 100.3 604.3 93.8 Z" fill="#93ff6c"/><path d="M460.1 94.7 468.1 106.6 476.1 105.3 468.1 93.8 Z" fill="#4fffb0"/><path d="M556.2 104.9 564.2 112.9 572.2 104.7 564.3 96.3 Z" fill="#71ff8e"/><path d="M516.2 111.3 524.1 120 532.2 111.5 524.2 102 Z" fill="#3dffc2"/><path d="M476.1 105.3 484.1 116.3 492.1 113.6 484.2 102.6 Z" fill="#28ffd7"/><path d="M572.2 104.7 580.2 111.5 588.2 104.3 580.3 97.1 Z" fill="#7dff82"/><path d="M532.2 111.5 540.1 119.8 548.2 112.5 540.2 103.5 Z" fill="#43ffbc"/><path d="M492.1 113.6 500.1 123.5 508.1 118.6 500.2 109.1 Z" fill="#0ffff0"/><path d="M452.1 94.1 460 105.8 468.1 106.6 460.1 94.7 Z" fill="#58ffa7"/><path d="M588.2 104.3 596.2 110.2 604.2 105.6 596.3 99.3 Z" fill="#7eff81"/><path d="M548.2 112.5 556.1 120.2 564.2 112.9 556.2 104.9 Z" fill="#4bffb4"/><path d="M508.1 118.6 516.1 127 524.1 120 516.2 111.3 Z" fill="#11ffee"/><path d="M604.2 105.6 612.2 110.7 620.2 105.5 612.3 100.3 Z" fill="#88ff77"/><path d="M468.1 106.6 476 117.7 484.1 116.3 476.1 105.3 Z" fill="#25ffda"/><path d="M564.2 112.9 572.1 119.7 580.2 111.5 572.2 104.7 Z" fill="#5bffa4"/><path d="M524.1 120 532.1 127.8 540.1 119.8 532.2 111.5 Z" fill="#20ffdf"/><path d="M484.1 116.3 492 126 500.1 123.5 492.1 113.6 Z" fill="#01fffe"/><path d="M444 92.4 452 103.7 460 105.8 452.1 94.1 Z" fill="#6aff95"/><path d="M580.2 111.5 588.1 117.2 596.2 110.2 588.2 104.3 Z" fill="#6eff91"/><path d="M540.1 119.8 548.1 127.3 556.1 120.2 548.2 112.5 Z" fill="#29ffd6"/><path d="M500.1 123.5 508 132.1 516.1 127 508.1 118.6 Z" fill="#00f1ff"/><path d="M596.2 110.2 604.1 115.1 612.2 110.7 604.2 105.6 Z" fill="#75ff8a"/><path d="M460 105.8 468 116.9 476 117.7 468.1 106.6 Z" fill="#2cffd3"/><path d="M556.1 120.2 564.1 127.1 572.1 119.7 564.2 112.9 Z" fill="#36ffc9"/><path d="M516.1 127 524 134.6 532.1 127.8 524.1 120 Z" fill="#00f8ff"/><path d="M612.2 110.7 620.1 114.8 628.2 109.6 620.2 105.5 Z" fill="#85ff7a"/><path d="M476 117.7 484 127.7 492 126 484.1 116.3 Z" fill="#00feff"/><path d="M436 89.4 443.9 100.4 452 103.7 444 92.4 Z" fill="#83ff7c"/><path d="M572.1 119.7 580.1 125.6 588.1 117.2 580.2 111.5 Z" fill="#4fffb0"/><path d="M532.1 127.8 540 134.8 548.1 127.3 540.1 119.8 Z" fill="#0afff5"/><path d="M492 126 500 134.7 508 132.1 500.1 123.5 Z" fill="#00e1ff"/><path d="M588.1 117.2 596.1 122.2 604.1 115.1 596.2 110.2 Z" fill="#67ff98"/><path d="M452 103.7 459.9 114.5 468 116.9 460 105.8 Z" fill="#3effc1"/><path d="M548.1 127.3 556 133.9 564.1 127.1 556.1 120.2 Z" fill="#17ffe8"/><path d="M508 132.1 516 139.9 524 134.6 516.1 127 Z" fill="#00daff"/><path d="M604.1 115.1 612.1 119.4 620.1 114.8 612.2 110.7 Z" fill="#73ff8c"/><path d="M468 116.9 475.9 126.9 484 127.7 476 117.7 Z" fill="#04fffb"/><path d="M427.9 86.6 435.9 97.4 443.9 100.4 436 89.4 Z" fill="#a3ff5c"/><path d="M564.1 127.1 572 133.1 580.1 125.6 572.1 119.7 Z" fill="#2affd5"/><path d="M524 134.6 532 141.4 540 134.8 532.1 127.8 Z" fill="#00e5ff"/><path d="M620.1 114.8 628.1 118.5 636.1 113.2 628.2 109.6 Z" fill="#8aff75"/><path d="M484 127.7 491.9 136.5 500 134.7 492 126 Z" fill="#00dfff"/><path d="M580.1 125.6 588 130.9 596.1 122.2 588.1 117.2 Z" fill="#49ffb6"/><path d="M443.9 100.4 451.9 110.9 459.9 114.5 452 103.7 Z" fill="#5affa5"/><path d="M540 134.8 548 141.2 556 133.9 548.1 127.3 Z" fill="#00f8ff"/><path d="M500 134.7 507.9 142.4 516 139.9 508 132.1 Z" fill="#00c9ff"/><path d="M596.1 122.2 604 126.8 612.1 119.4 604.1 115.1 Z" fill="#66ff99"/><path d="M459.9 114.5 467.9 124.1 475.9 126.9 468 116.9 Z" fill="#17ffe8"/><path d="M556 133.9 564 140 572 133.1 564.1 127.1 Z" fill="#0afff5"/><path d="M419.9 84 427.8 94.3 435.9 97.4 427.9 86.6 Z" fill="#c3ff3c"/><path d="M516 139.9 523.9 146.8 532 141.4 524 134.6 Z" fill="#00c9ff"/><path d="M475.9 126.9 483.9 135.6 491.9 136.5 484 127.7 Z" fill="#00e3ff"/><path d="M612.1 119.4 620 123.2 628.1 118.5 620.1 114.8 Z" fill="#77ff88"/><path d="M572 133.1 580 138.6 588 130.9 580.1 125.6 Z" fill="#23ffdc"/><path d="M435.9 97.4 443.8 107.7 451.9 110.9 443.9 100.4 Z" fill="#7cff83"/><path d="M532 141.4 539.9 147.6 548 141.2 540 134.8 Z" fill="#00d7ff"/><path d="M628.1 118.5 636 122.3 644.1 117 636.1 113.2 Z" fill="#91ff6e"/><path d="M491.9 136.5 499.9 144.3 507.9 142.4 500 134.7 Z" fill="#00c7ff"/><path d="M588 130.9 596 135.7 604 126.8 596.1 122.2 Z" fill="#47ffb8"/><path d="M451.9 110.9 459.8 120.3 467.9 124.1 459.9 114.5 Z" fill="#35ffca"/><path d="M548 141.2 555.9 147.1 564 140 556 133.9 Z" fill="#00ecff"/><path d="M411.8 81.3 419.8 90.4 427.8 94.3 419.9 84 Z" fill="#e1ff1e"/><path d="M507.9 142.4 515.9 149.3 523.9 146.8 516 139.9 Z" fill="#00b6ff"/><path d="M467.9 124.1 475.8 132.7 483.9 135.6 475.9 126.9 Z" fill="#00f6ff"/><path d="M604 126.8 612 130.9 620 123.2 612.1 119.4 Z" fill="#69ff96"/><path d="M564 140 571.9 145.5 580 138.6 572 133.1 Z" fill="#02fffd"/><path d="M427.8 94.3 435.8 104.2 443.8 107.7 435.9 97.4 Z" fill="#9dff62"/><path d="M523.9 146.8 531.9 153.1 539.9 147.6 532 141.4 Z" fill="#00bcff"/><path d="M483.9 135.6 491.8 143.4 499.9 144.3 491.9 136.5 Z" fill="#00caff"/><path d="M620 123.2 628 127.2 636 122.3 628.1 118.5 Z" fill="#7eff81"/><path d="M580 138.6 587.9 143.6 596 135.7 588 130.9 Z" fill="#20ffdf"/><path d="M443.8 107.7 451.8 117 459.8 120.3 451.9 110.9 Z" fill="#59ffa6"/><path d="M539.9 147.6 547.9 153.5 555.9 147.1 548 141.2 Z" fill="#00ceff"/><path d="M403.8 77.6 411.7 85.2 419.8 90.4 411.8 81.3 Z" fill="#fffe00"/><path d="M636 122.3 644 126.7 652 121.4 644.1 117 Z" fill="#97ff68"/><path d="M499.9 144.3 507.8 151.3 515.9 149.3 507.9 142.4 Z" fill="#00b5ff"/><path d="M459.8 120.3 467.8 128.6 475.8 132.7 467.9 124.1 Z" fill="#16ffe9"/><path d="M596 135.7 603.9 140.1 612 130.9 604 126.8 Z" fill="#49ffb6"/><path d="M555.9 147.1 563.9 152.6 571.9 145.5 564 140 Z" fill="#00e5ff"/><path d="M419.8 90.4 427.7 99.1 435.8 104.2 427.8 94.3 Z" fill="#bfff40"/><path d="M515.9 149.3 523.9 155.6 531.9 153.1 523.9 146.8 Z" fill="#00a9ff"/><path d="M475.8 132.7 483.8 140.3 491.8 143.4 483.9 135.6 Z" fill="#00ddff"/><path d="M612 130.9 620 135.1 628 127.2 620 123.2 Z" fill="#6fff90"/><path d="M571.9 145.5 579.9 150.8 587.9 143.6 580 138.6 Z" fill="#00fdff"/><path d="M435.8 104.2 443.8 113.2 451.8 117 443.8 107.7 Z" fill="#7bff84"/><path d="M531.9 153.1 539.9 159 547.9 153.5 539.9 147.6 Z" fill="#00b3ff"/><path d="M395.7 69.5 403.7 76.3 411.7 85.2 403.8 77.6 Z" fill="#ffd900"/><path d="M491.8 143.4 499.8 150.4 507.8 151.3 499.9 144.3 Z" fill="#00b7ff"/><path d="M628 127.2 636 131.6 644 126.7 636 122.3 Z" fill="#84ff7b"/><path d="M451.8 117 459.8 125.4 467.8 128.6 459.8 120.3 Z" fill="#3dffc2"/><path d="M587.9 143.6 595.9 148.4 603.9 140.1 596 135.7 Z" fill="#20ffdf"/><path d="M547.9 153.5 555.9 159.1 563.9 152.6 555.9 147.1 Z" fill="#00c7ff"/><path d="M411.7 85.2 419.7 92.7 427.7 99.1 419.8 90.4 Z" fill="#e6ff19"/><path d="M644 126.7 652 131.4 660 126.1 652 121.4 Z" fill="#9aff65"/><path d="M507.8 151.3 515.8 157.7 523.9 155.6 515.9 149.3 Z" fill="#00a8ff"/><path d="M467.8 128.6 475.8 136.1 483.8 140.3 475.8 132.7 Z" fill="#00feff"/><path d="M603.9 140.1 611.9 144.6 620 135.1 612 130.9 Z" fill="#4dffb2"/><path d="M563.9 152.6 571.9 157.9 579.9 150.8 571.9 145.5 Z" fill="#00e0ff"/><path d="M427.7 99.1 435.7 107.4 443.8 113.2 435.8 104.2 Z" fill="#9fff60"/><path d="M523.9 155.6 531.8 161.5 539.9 159 531.9 153.1 Z" fill="#009fff"/><path d="M387.7 60.7 395.7 67.1 403.7 76.3 395.7 69.5 Z" fill="#ff9800"/><path d="M483.8 140.3 491.8 147.2 499.8 150.4 491.8 143.4 Z" fill="#00cbff"/><path d="M620 135.1 627.9 139.6 636 131.6 628 127.2 Z" fill="#74ff8b"/><path d="M579.9 150.8 587.9 155.7 595.9 148.4 587.9 143.6 Z" fill="#00fcff"/><path d="M443.8 113.2 451.7 121.5 459.8 125.4 451.8 117 Z" fill="#5fffa0"/><path d="M539.9 159 547.8 164.7 555.9 159.1 547.9 153.5 Z" fill="#00adff"/><path d="M403.7 76.3 411.7 83.1 419.7 92.7 411.7 85.2 Z" fill="#ffea00"/><path d="M636 131.6 643.9 136.3 652 131.4 644 126.7 Z" fill="#87ff78"/><path d="M499.8 150.4 507.8 156.7 515.8 157.7 507.8 151.3 Z" fill="#00a9ff"/><path d="M459.8 125.4 467.7 132.8 475.8 136.1 467.8 128.6 Z" fill="#26ffd9"/><path d="M595.9 148.4 603.9 153 611.9 144.6 603.9 140.1 Z" fill="#22ffdd"/><path d="M555.9 159.1 563.8 164.5 571.9 157.9 563.9 152.6 Z" fill="#00c2ff"/><path d="M419.7 92.7 427.7 99.9 435.7 107.4 427.7 99.1 Z" fill="#cdff32"/><path d="M515.8 157.7 523.8 163.7 531.8 161.5 523.9 155.6 Z" fill="#009eff"/><path d="M475.8 136.1 483.7 142.8 491.8 147.2 483.8 140.3 Z" fill="#00ecff"/><path d="M611.9 144.6 619.9 149.2 627.9 139.6 620 135.1 Z" fill="#51ffae"/><path d="M571.9 157.9 579.8 163.1 587.9 155.7 579.9 150.8 Z" fill="#00ddff"/><path d="M435.7 107.4 443.7 115 451.7 121.5 443.8 113.2 Z" fill="#85ff7a"/><path d="M531.8 161.5 539.8 167.1 547.8 164.7 539.9 159 Z" fill="#0098ff"/><path d="M395.7 67.1 403.6 73.5 411.7 83.1 403.7 76.3 Z" fill="#ffa400"/><path d="M627.9 139.6 635.9 144.4 643.9 136.3 636 131.6 Z" fill="#77ff88"/><path d="M491.8 147.2 499.7 153.4 507.8 156.7 499.8 150.4 Z" fill="#00bdff"/><path d="M587.9 155.7 595.8 160.6 603.9 153 595.9 148.4 Z" fill="#00fcff"/><path d="M451.7 121.5 459.7 128.9 467.7 132.8 459.8 125.4 Z" fill="#49ffb6"/><path d="M547.8 164.7 555.8 170.2 563.8 164.5 555.9 159.1 Z" fill="#00a8ff"/><path d="M411.7 83.1 419.6 89.8 427.7 99.9 419.7 92.7 Z" fill="#fffb00"/><path d="M507.8 156.7 515.7 162.7 523.8 163.7 515.8 157.7 Z" fill="#009fff"/><path d="M467.7 132.8 475.7 139.6 483.7 142.8 475.8 136.1 Z" fill="#16ffe9"/><path d="M603.9 153 611.8 157.8 619.9 149.2 611.9 144.6 Z" fill="#24ffdb"/><path d="M427.7 99.9 435.6 106.9 443.7 115 435.7 107.4 Z" fill="#b8ff47"/><path d="M563.8 164.5 571.8 169.7 579.8 163.1 571.9 157.9 Z" fill="#00bfff"/><path d="M523.8 163.7 531.7 169.3 539.8 167.1 531.8 161.5 Z" fill="#0097ff"/><path d="M619.9 149.2 627.8 154 635.9 144.4 627.9 139.6 Z" fill="#53ffac"/><path d="M483.7 142.8 491.7 149 499.7 153.4 491.8 147.2 Z" fill="#00dfff"/><path d="M579.8 163.1 587.8 168 595.8 160.6 587.9 155.7 Z" fill="#00dcff"/><path d="M443.7 115 451.6 122.2 459.7 128.9 451.7 121.5 Z" fill="#6fff90"/><path d="M539.8 167.1 547.7 172.6 555.8 170.2 547.8 164.7 Z" fill="#0093ff"/><path d="M403.6 73.5 411.6 79.9 419.6 89.8 411.7 83.1 Z" fill="#ffb100"/><path d="M499.7 153.4 507.7 159.3 515.7 162.7 507.8 156.7 Z" fill="#00b3ff"/><path d="M595.8 160.6 603.8 165.4 611.8 157.8 603.9 153 Z" fill="#00fdff"/><path d="M459.7 128.9 467.6 135.9 475.7 139.6 467.7 132.8 Z" fill="#38ffc7"/><path d="M555.8 170.2 563.7 175.5 571.8 169.7 563.8 164.5 Z" fill="#00a4ff"/><path d="M419.6 89.8 427.6 96.4 435.6 106.9 427.7 99.9 Z" fill="#f4ff0b"/><path d="M515.7 162.7 523.7 168.3 531.7 169.3 523.8 163.7 Z" fill="#0098ff"/><path d="M611.8 157.8 619.8 162.6 627.8 154 619.9 149.2 Z" fill="#25ffda"/><path d="M475.7 139.6 483.6 145.9 491.7 149 483.7 142.8 Z" fill="#0afff5"/><path d="M435.6 106.9 443.6 113.6 451.6 122.2 443.7 115 Z" fill="#a6ff59"/><path d="M571.8 169.7 579.7 174.7 587.8 168 579.8 163.1 Z" fill="#00bdff"/><path d="M531.7 169.3 539.7 174.8 547.7 172.6 539.8 167.1 Z" fill="#0092ff"/><path d="M491.7 149 499.6 154.8 507.7 159.3 499.7 153.4 Z" fill="#00d6ff"/><path d="M587.8 168 595.7 172.9 603.8 165.4 595.8 160.6 Z" fill="#00dcff"/><path d="M451.6 122.2 459.6 129 467.6 135.9 459.7 128.9 Z" fill="#5fffa0"/><path d="M547.7 172.6 555.7 177.9 563.7 175.5 555.8 170.2 Z" fill="#008fff"/><path d="M411.6 79.9 419.5 86.2 427.6 96.4 419.6 89.8 Z" fill="#ffbd00"/><path d="M507.7 159.3 515.6 164.9 523.7 168.3 515.7 162.7 Z" fill="#00acff"/><path d="M603.8 165.4 611.7 170.3 619.8 162.6 611.8 157.8 Z" fill="#00fdff"/><path d="M467.6 135.9 475.6 142.3 483.6 145.9 475.7 139.6 Z" fill="#2cffd3"/><path d="M563.7 175.5 571.7 180.6 579.7 174.7 571.8 169.7 Z" fill="#00a2ff"/><path d="M427.6 96.4 435.5 102.8 443.6 113.6 435.6 106.9 Z" fill="#e7ff18"/><path d="M523.7 168.3 531.6 173.8 539.7 174.8 531.7 169.3 Z" fill="#0092ff"/><path d="M483.6 145.9 491.6 151.8 499.6 154.8 491.7 149 Z" fill="#01fffe"/><path d="M443.6 113.6 451.5 120.1 459.6 129 451.6 122.2 Z" fill="#97ff68"/><path d="M579.7 174.7 587.7 179.7 595.7 172.9 587.8 168 Z" fill="#00bbff"/><path d="M539.7 174.8 547.6 180.2 555.7 177.9 547.7 172.6 Z" fill="#008eff"/><path d="M499.6 154.8 507.6 160.4 515.6 164.9 507.7 159.3 Z" fill="#00cfff"/><path d="M595.7 172.9 603.7 177.8 611.7 170.3 603.8 165.4 Z" fill="#00dbff"/><path d="M459.6 129 467.5 135.5 475.6 142.3 467.6 135.9 Z" fill="#51ffae"/><path d="M419.5 86.2 427.5 92.5 435.5 102.8 427.6 96.4 Z" fill="#ffc800"/><path d="M555.7 177.9 563.6 183 571.7 180.6 563.7 175.5 Z" fill="#008cff"/><path d="M515.6 164.9 523.6 170.4 531.6 173.8 523.7 168.3 Z" fill="#00a7ff"/><path d="M475.6 142.3 483.5 148.4 491.6 151.8 483.6 145.9 Z" fill="#22ffdd"/><path d="M571.7 180.6 579.6 185.5 587.7 179.7 579.7 174.7 Z" fill="#00a0ff"/><path d="M435.5 102.8 443.5 109.2 451.5 120.1 443.6 113.6 Z" fill="#dbff24"/><path d="M531.6 173.8 539.6 179.2 547.6 180.2 539.7 174.8 Z" fill="#008eff"/><path d="M491.6 151.8 499.5 157.5 507.6 160.4 499.6 154.8 Z" fill="#00faff"/><path d="M587.7 179.7 595.6 184.5 603.7 177.8 595.7 172.9 Z" fill="#00bbff"/><path d="M451.5 120.1 459.5 126.4 467.5 135.5 459.6 129 Z" fill="#8aff75"/><path d="M547.6 180.2 555.6 185.3 563.6 183 555.7 177.9 Z" fill="#008bff"/><path d="M507.6 160.4 515.5 165.8 523.6 170.4 515.6 164.9 Z" fill="#00caff"/><path d="M467.5 135.5 475.5 141.8 483.5 148.4 475.6 142.3 Z" fill="#47ffb8"/><path d="M427.5 92.5 435.4 98.6 443.5 109.2 435.5 102.8 Z" fill="#ffd200"/><path d="M563.6 183 571.6 188 579.6 185.5 571.7 180.6 Z" fill="#008aff"/><path d="M523.6 170.4 531.5 175.7 539.6 179.2 531.6 173.8 Z" fill="#00a2ff"/><path d="M483.5 148.4 491.5 154.4 499.5 157.5 491.6 151.8 Z" fill="#1cffe3"/><path d="M579.6 185.5 587.6 190.4 595.6 184.5 587.7 179.7 Z" fill="#009fff"/><path d="M443.5 109.2 451.4 115.4 459.5 126.4 451.5 120.1 Z" fill="#d0ff2f"/><path d="M539.6 179.2 547.5 184.3 555.6 185.3 547.6 180.2 Z" fill="#008bff"/><path d="M499.5 157.5 507.5 163 515.5 165.8 507.6 160.4 Z" fill="#00f5ff"/><path d="M459.5 126.4 467.4 132.6 475.5 141.8 467.5 135.5 Z" fill="#7fff80"/><path d="M555.6 185.3 563.5 190.2 571.6 188 563.6 183 Z" fill="#0089ff"/><path d="M515.5 165.8 523.5 171.1 531.5 175.7 523.6 170.4 Z" fill="#00c6ff"/><path d="M475.5 141.8 483.4 147.9 491.5 154.4 483.5 148.4 Z" fill="#3fffc0"/><path d="M571.6 188 579.5 192.8 587.6 190.4 579.6 185.5 Z" fill="#0089ff"/><path d="M435.4 98.6 443.4 104.7 451.4 115.4 443.5 109.2 Z" fill="#ffdc00"/><path d="M531.5 175.7 539.5 180.8 547.5 184.3 539.6 179.2 Z" fill="#009fff"/><path d="M491.5 154.4 499.5 160.1 507.5 163 499.5 157.5 Z" fill="#16ffe9"/><path d="M451.4 115.4 459.4 121.6 467.4 132.6 459.5 126.4 Z" fill="#c7ff38"/><path d="M547.5 184.3 555.5 189.2 563.5 190.2 555.6 185.3 Z" fill="#0089ff"/><path d="M507.5 163 515.5 168.4 523.5 171.1 515.5 165.8 Z" fill="#00f1ff"/><path d="M467.4 132.6 475.4 138.6 483.4 147.9 475.5 141.8 Z" fill="#76ff89"/><path d="M563.5 190.2 571.5 195.1 579.5 192.8 571.6 188 Z" fill="#0088ff"/><path d="M523.5 171.1 531.5 176.2 539.5 180.8 531.5 175.7 Z" fill="#00c3ff"/><path d="M483.4 147.9 491.4 153.9 499.5 160.1 491.5 154.4 Z" fill="#38ffc7"/><path d="M443.4 104.7 451.4 110.8 459.4 121.6 451.4 115.4 Z" fill="#ffe500"/><path d="M539.5 180.8 547.5 185.7 555.5 189.2 547.5 184.3 Z" fill="#009dff"/><path d="M499.5 160.1 507.4 165.8 515.5 168.4 507.5 163 Z" fill="#11ffee"/><path d="M459.4 121.6 467.4 127.7 475.4 138.6 467.4 132.6 Z" fill="#beff41"/><path d="M555.5 189.2 563.5 194.1 571.5 195.1 563.5 190.2 Z" fill="#0088ff"/><path d="M515.5 168.4 523.4 173.6 531.5 176.2 523.5 171.1 Z" fill="#00eeff"/><path d="M475.4 138.6 483.4 144.6 491.4 153.9 483.4 147.9 Z" fill="#6eff91"/><path d="M531.5 176.2 539.4 181.1 547.5 185.7 539.5 180.8 Z" fill="#00c1ff"/><path d="M491.4 153.9 499.4 159.7 507.4 165.8 499.5 160.1 Z" fill="#32ffcd"/><path d="M451.4 110.8 459.3 116.8 467.4 127.7 459.4 121.6 Z" fill="#ffed00"/><path d="M547.5 185.7 555.4 190.6 563.5 194.1 555.5 189.2 Z" fill="#009cff"/><path d="M507.4 165.8 515.4 171.3 523.4 173.6 515.5 168.4 Z" fill="#0efff1"/><path d="M467.4 127.7 475.3 133.7 483.4 144.6 475.4 138.6 Z" fill="#b6ff49"/><path d="M523.4 173.6 531.4 178.6 539.4 181.1 531.5 176.2 Z" fill="#00ecff"/><path d="M483.4 144.6 491.3 150.6 499.4 159.7 491.4 153.9 Z" fill="#67ff98"/><path d="M539.4 181.1 547.4 186 555.4 190.6 547.5 185.7 Z" fill="#00c0ff"/><path d="M499.4 159.7 507.3 165.5 515.4 171.3 507.4 165.8 Z" fill="#2cffd3"/><path d="M459.3 116.8 467.3 122.7 475.3 133.7 467.4 127.7 Z" fill="#fff500"/><path d="M515.4 171.3 523.3 176.6 531.4 178.6 523.4 173.6 Z" fill="#0bfff4"/><path d="M475.3 133.7 483.3 139.7 491.3 150.6 483.4 144.6 Z" fill="#aeff51"/><path d="M531.4 178.6 539.3 183.6 547.4 186 539.4 181.1 Z" fill="#00ebff"/><path d="M491.3 150.6 499.3 156.4 507.3 165.5 499.4 159.7 Z" fill="#60ff9f"/><path d="M507.3 165.5 515.3 171.2 523.3 176.6 515.4 171.3 Z" fill="#28ffd7"/><path d="M467.3 122.7 475.2 128.6 483.3 139.7 475.3 133.7 Z" fill="#fffd00"/><path d="M523.3 176.6 531.3 181.9 539.3 183.6 531.4 178.6 Z" fill="#0afff5"/><path d="M483.3 139.7 491.2 145.6 499.3 156.4 491.3 150.6 Z" fill="#a7ff58"/><path d="M499.3 156.4 507.2 162.3 515.3 171.2 507.3 165.5 Z" fill="#5affa5"/><path d="M515.3 171.2 523.2 176.8 531.3 181.9 523.3 176.6 Z" fill="#24ffdb"/><path d="M475.2 128.6 483.2 134.5 491.2 145.6 483.3 139.7 Z" fill="#f9ff06"/><path d="M491.2 145.6 499.2 151.5 507.2 162.3 499.3 156.4 Z" fill="#a1ff5e"/><path d="M507.2 162.3 515.2 168.1 523.2 176.8 515.3 171.2 Z" fill="#54ffab"/><path d="M483.2 134.5 491.1 140.4 499.2 151.5 491.2 145.6 Z" fill="#f2ff0d"/><path d="M499.2 151.5 507.1 157.5 515.2 168.1 507.2 162.3 Z" fill="#9aff65"/><path d="M491.1 140.4 499.1 146.2 507.1 157.5 499.2 151.5 Z" fill="#ebff14"/></g>
<text x="0" y="0" text-anchor="middle" dominant-baseline="central" fill="#26262c" style="font-family:'Liberation Serif',serif;font-size:13.6px;font-weight:bold;" transform="translate(375.6 47.5) rotate(0) scale(0.88 1)">98</text>
<text x="0" y="0" text-anchor="middle" dominant-baseline="central" fill="#26262c" style="font-family:'Liberation Serif',serif;font-size:13.6px;font-weight:bold;" transform="translate(375.6 66) rotate(0) scale(0.88 1)">95</text>
<text x="0" y="0" text-anchor="middle" dominant-baseline="central" fill="#26262c" style="font-family:'Liberation Serif',serif;font-size:13.6px;font-weight:bold;" transform="translate(375.6 84.5) rotate(0) scale(0.88 1)">92</text>
<text x="0" y="0" text-anchor="middle" dominant-baseline="central" fill="#26262c" style="font-family:'Liberation Serif',serif;font-size:13.6px;font-weight:bold;" transform="translate(375.6 103) rotate(0) scale(0.88 1)">89</text>
<text x="0" y="0" text-anchor="middle" dominant-baseline="central" fill="#26262c" style="font-family:'Liberation Serif',serif;font-size:13.6px;font-weight:bold;" transform="translate(375.6 121.3) rotate(0) scale(0.88 1)">86</text>
<text x="0" y="0" text-anchor="middle" dominant-baseline="central" fill="#26262c" style="font-family:'Liberation Serif',serif;font-size:13.6px;font-weight:bold;" transform="translate(375.6 139.7) rotate(0) scale(0.88 1)">83</text>
<text x="0" y="0" text-anchor="middle" dominant-baseline="central" fill="#26262c" style="font-family:'Liberation Serif',serif;font-size:13.6px;font-weight:bold;" transform="translate(375.7 158.3) rotate(0) scale(0.88 1)">80</text>
<text x="0" y="0" text-anchor="middle" dominant-baseline="central" fill="#26262c" style="font-family:'Liberation Serif',serif;font-size:13.6px;font-weight:bold;" transform="translate(372.4 172.7) rotate(0) scale(0.88 1)">20</text>
<text x="0" y="0" text-anchor="middle" dominant-baseline="central" fill="#26262c" style="font-family:'Liberation Serif',serif;font-size:13.6px;font-weight:bold;" transform="translate(395.3 186) rotate(0) scale(0.88 1)">18</text>
<text x="0" y="0" text-anchor="middle" dominant-baseline="central" fill="#26262c" style="font-family:'Liberation Serif',serif;font-size:13.6px;font-weight:bold;" transform="translate(417 199.8) rotate(0) scale(0.88 1)">16</text>
<text x="0" y="0" text-anchor="middle" dominant-baseline="central" fill="#26262c" style="font-family:'Liberation Serif',serif;font-size:13.6px;font-weight:bold;" transform="translate(439.2 213.4) rotate(0) scale(0.88 1)">14</text>
<text x="0" y="0" text-anchor="middle" dominant-baseline="central" fill="#26262c" style="font-family:'Liberation Serif',serif;font-size:13.6px;font-weight:bold;" transform="translate(461 226.7) rotate(0) scale(0.88 1)">12</text>
<text x="0" y="0" text-anchor="middle" dominant-baseline="central" fill="#26262c" style="font-family:'Liberation Serif',serif;font-size:13.6px;font-weight:bold;" transform="translate(483 240) rotate(0) scale(0.88 1)">10</text>
<text x="0" y="0" text-anchor="middle" dominant-baseline="central" fill="#26262c" style="font-family:'Liberation Serif',serif;font-size:13.6px;font-weight:bold;" transform="translate(509.5 242.6) rotate(0) scale(0.88 1)">30</text>
<text x="0" y="0" text-anchor="middle" dominant-baseline="central" fill="#26262c" style="font-family:'Liberation Serif',serif;font-size:13.6px;font-weight:bold;" transform="translate(542.4 233.7) rotate(0) scale(0.88 1)">28</text>
<text x="0" y="0" text-anchor="middle" dominant-baseline="central" fill="#26262c" style="font-family:'Liberation Serif',serif;font-size:13.6px;font-weight:bold;" transform="translate(574.8 224.3) rotate(0) scale(0.88 1)">26</text>
<text x="0" y="0" text-anchor="middle" dominant-baseline="central" fill="#26262c" style="font-family:'Liberation Serif',serif;font-size:13.6px;font-weight:bold;" transform="translate(607.2 214.8) rotate(0) scale(0.88 1)">24</text>
<text x="0" y="0" text-anchor="middle" dominant-baseline="central" fill="#26262c" style="font-family:'Liberation Serif',serif;font-size:13.6px;font-weight:bold;" transform="translate(639.6 205.4) rotate(0) scale(0.88 1)">22</text>
<text x="0" y="0" text-anchor="middle" dominant-baseline="central" fill="#26262c" style="font-family:'Liberation Serif',serif;font-size:13.6px;font-weight:bold;" transform="translate(672 196.2) rotate(0) scale(0.88 1)">20</text>
<text x="357" y="115.6" text-anchor="middle" dominant-baseline="central" fill="#222" style="font-family:'Liberation Serif',serif;font-size:15px;font-weight:bold;" transform="rotate(-90 357 115.6)">Removal <tspan style="font-size:11px">%</tspan></text>
<text x="421.4" y="231" text-anchor="middle" dominant-baseline="central" fill="#222" style="font-family:'Liberation Sans',sans-serif;font-size:11.5px;font-weight:bold;" transform="rotate(36 421.4 231)">Biosorbent Dose</text>
<text x="414.6" y="248" text-anchor="middle" dominant-baseline="central" fill="#222" style="font-family:'Liberation Sans',sans-serif;font-size:11.5px;font-weight:bold;" transform="rotate(36 414.6 248)">(mg)</text>
<text x="0" y="0" text-anchor="middle" dominant-baseline="central" fill="#222" style="font-family:'Liberation Serif',serif;font-size:13.5px;font-weight:bold;" transform="translate(596.2 240.5) rotate(-15) scale(0.86 1)">Temperature (º<tspan style="font-family:'Liberation Sans',sans-serif;font-size:12px">C)</tspan></text>
<line x1="380.2" y1="521" x2="569.1" y2="483.3" stroke="#dcdcdc" stroke-width="0.9"/>
<line x1="569.1" y1="483.3" x2="665.6" y2="556.8" stroke="#dcdcdc" stroke-width="0.9"/>
<line x1="380.2" y1="490.8" x2="569.1" y2="453.1" stroke="#dcdcdc" stroke-width="0.9"/>
<line x1="569.1" y1="453.1" x2="665.6" y2="526.6" stroke="#dcdcdc" stroke-width="0.9"/>
<line x1="380.2" y1="460.6" x2="569.1" y2="422.9" stroke="#dcdcdc" stroke-width="0.9"/>
<line x1="569.1" y1="422.9" x2="665.6" y2="496.4" stroke="#dcdcdc" stroke-width="0.9"/>
<line x1="380.2" y1="430.5" x2="569.1" y2="392.8" stroke="#dcdcdc" stroke-width="0.9"/>
<line x1="569.1" y1="392.8" x2="665.6" y2="466.3" stroke="#dcdcdc" stroke-width="0.9"/>
<line x1="380.2" y1="400.3" x2="569.1" y2="362.6" stroke="#dcdcdc" stroke-width="0.9"/>
<line x1="569.1" y1="362.6" x2="665.6" y2="436.1" stroke="#dcdcdc" stroke-width="0.9"/>
<line x1="380.2" y1="521" x2="380.2" y2="400.3" stroke="#dcdcdc" stroke-width="0.9"/>
<line x1="380.2" y1="521" x2="476.7" y2="594.5" stroke="#dcdcdc" stroke-width="0.9"/>
<line x1="427.4" y1="511.6" x2="427.4" y2="390.9" stroke="#dcdcdc" stroke-width="0.9"/>
<line x1="427.4" y1="511.6" x2="523.9" y2="585.1" stroke="#dcdcdc" stroke-width="0.9"/>
<line x1="474.6" y1="502.1" x2="474.6" y2="381.4" stroke="#dcdcdc" stroke-width="0.9"/>
<line x1="474.6" y1="502.1" x2="571.1" y2="575.6" stroke="#dcdcdc" stroke-width="0.9"/>
<line x1="521.9" y1="492.7" x2="521.9" y2="372" stroke="#dcdcdc" stroke-width="0.9"/>
<line x1="521.9" y1="492.7" x2="618.4" y2="566.2" stroke="#dcdcdc" stroke-width="0.9"/>
<line x1="569.1" y1="483.3" x2="569.1" y2="362.6" stroke="#dcdcdc" stroke-width="0.9"/>
<line x1="569.1" y1="483.3" x2="665.6" y2="556.8" stroke="#dcdcdc" stroke-width="0.9"/>
<line x1="569.1" y1="483.3" x2="569.1" y2="362.6" stroke="#dcdcdc" stroke-width="0.9"/>
<line x1="380.2" y1="521" x2="569.1" y2="483.3" stroke="#dcdcdc" stroke-width="0.9"/>
<line x1="593.2" y1="501.7" x2="593.2" y2="381" stroke="#dcdcdc" stroke-width="0.9"/>
<line x1="404.3" y1="539.4" x2="593.2" y2="501.7" stroke="#dcdcdc" stroke-width="0.9"/>
<line x1="617.4" y1="520" x2="617.4" y2="399.3" stroke="#dcdcdc" stroke-width="0.9"/>
<line x1="428.4" y1="557.8" x2="617.4" y2="520" stroke="#dcdcdc" stroke-width="0.9"/>
<line x1="641.5" y1="538.4" x2="641.5" y2="417.7" stroke="#dcdcdc" stroke-width="0.9"/>
<line x1="452.6" y1="576.1" x2="641.5" y2="538.4" stroke="#dcdcdc" stroke-width="0.9"/>
<line x1="665.6" y1="556.8" x2="665.6" y2="436.1" stroke="#dcdcdc" stroke-width="0.9"/>
<line x1="476.7" y1="594.5" x2="665.6" y2="556.8" stroke="#dcdcdc" stroke-width="0.9"/>
<line x1="380.2" y1="521" x2="380.2" y2="400.3" stroke="#3c3c3c" stroke-width="1.25"/>
<line x1="380.2" y1="521" x2="476.7" y2="594.5" stroke="#3c3c3c" stroke-width="1.25"/>
<line x1="476.7" y1="594.5" x2="665.6" y2="556.8" stroke="#3c3c3c" stroke-width="1.25"/>
<line x1="380.2" y1="521" x2="375.3" y2="522" stroke="#3c3c3c" stroke-width="1.1"/>
<line x1="380.2" y1="490.8" x2="375.3" y2="491.8" stroke="#3c3c3c" stroke-width="1.1"/>
<line x1="380.2" y1="460.6" x2="375.3" y2="461.6" stroke="#3c3c3c" stroke-width="1.1"/>
<line x1="380.2" y1="430.5" x2="375.3" y2="431.5" stroke="#3c3c3c" stroke-width="1.1"/>
<line x1="380.2" y1="400.3" x2="375.3" y2="401.3" stroke="#3c3c3c" stroke-width="1.1"/>
<line x1="380.2" y1="521" x2="375.3" y2="522" stroke="#3c3c3c" stroke-width="1.1"/>
<line x1="404.3" y1="539.4" x2="399.4" y2="540.4" stroke="#3c3c3c" stroke-width="1.1"/>
<line x1="428.4" y1="557.8" x2="423.5" y2="558.7" stroke="#3c3c3c" stroke-width="1.1"/>
<line x1="452.6" y1="576.1" x2="447.7" y2="577.1" stroke="#3c3c3c" stroke-width="1.1"/>
<line x1="476.7" y1="594.5" x2="471.8" y2="595.5" stroke="#3c3c3c" stroke-width="1.1"/>
<line x1="476.7" y1="594.5" x2="480.7" y2="597.5" stroke="#3c3c3c" stroke-width="1.1"/>
<line x1="523.9" y1="585.1" x2="527.9" y2="588.1" stroke="#3c3c3c" stroke-width="1.1"/>
<line x1="571.1" y1="575.6" x2="575.1" y2="578.7" stroke="#3c3c3c" stroke-width="1.1"/>
<line x1="618.4" y1="566.2" x2="622.4" y2="569.3" stroke="#3c3c3c" stroke-width="1.1"/>
<line x1="665.6" y1="556.8" x2="669.6" y2="559.8" stroke="#3c3c3c" stroke-width="1.1"/>
<g stroke="#101010" stroke-width="0.8" stroke-linejoin="round"><path d="M559.7 411.1 564.5 414.7 573.9 421.3 569.1 416.2 Z" fill="#f2ff0d"/><path d="M564.5 414.7 569.3 418.3 578.8 425 573.9 421.3 Z" fill="#e8ff17"/><path d="M550.2 407.1 555 409.6 564.5 414.7 559.7 411.1 Z" fill="#ffdc00"/><path d="M555 409.6 559.9 412.9 569.3 418.3 564.5 414.7 Z" fill="#ffdc00"/><path d="M569.3 418.3 574.1 423 583.6 429.1 578.8 425 Z" fill="#e8ff17"/><path d="M540.8 404.8 545.6 406.5 555 409.6 550.2 407.1 Z" fill="#ffb400"/><path d="M531.3 404.8 536.1 406.1 545.6 406.5 540.8 404.8 Z" fill="#ff9700"/><path d="M545.6 406.5 550.4 409.7 559.9 412.9 555 409.6 Z" fill="#ffab00"/><path d="M559.9 412.9 564.7 418 574.1 423 569.3 418.3 Z" fill="#ffdb00"/><path d="M574.1 423 579 430.1 588.4 435.4 583.6 429.1 Z" fill="#e5ff1a"/><path d="M579 430.1 583.8 440.4 593.2 444.9 588.4 435.4 Z" fill="#d3ff2c"/><path d="M521.9 407.6 526.7 408.7 536.1 406.1 531.3 404.8 Z" fill="#ff8a00"/><path d="M536.1 406.1 541 409.2 550.4 409.7 545.6 406.5 Z" fill="#ff8900"/><path d="M550.4 409.7 555.2 414.9 564.7 418 559.9 412.9 Z" fill="#ffa900"/><path d="M564.7 418 569.5 425.6 579 430.1 574.1 423 Z" fill="#ffe200"/><path d="M512.4 412.4 517.3 413.3 526.7 408.7 521.9 407.6 Z" fill="#ff9000"/><path d="M541 409.2 545.8 414.3 555.2 414.9 550.4 409.7 Z" fill="#ff8600"/><path d="M569.5 425.6 574.3 436.2 583.8 440.4 579 430.1 Z" fill="#fffa00"/><path d="M583.8 440.4 588.6 452.9 598 456.3 593.2 444.9 Z" fill="#aaff55"/><path d="M526.7 408.7 531.5 411.6 541 409.2 536.1 406.1 Z" fill="#ff7900"/><path d="M555.2 414.9 560.1 422.6 569.5 425.6 564.7 418 Z" fill="#ffb300"/><path d="M517.3 413.3 522.1 416 531.5 411.6 526.7 408.7 Z" fill="#ff7e00"/><path d="M503 418.5 507.8 419 517.3 413.3 512.4 412.4 Z" fill="#ffa400"/><path d="M531.5 411.6 536.4 416.5 545.8 414.3 541 409.2 Z" fill="#ff7500"/><path d="M545.8 414.3 550.6 421.8 560.1 422.6 555.2 414.9 Z" fill="#ff9000"/><path d="M560.1 422.6 564.9 433.2 574.3 436.2 569.5 425.6 Z" fill="#ffce00"/><path d="M574.3 436.2 579.2 449.5 588.6 452.9 583.8 440.4 Z" fill="#d7ff28"/><path d="M588.6 452.9 593.4 466.3 602.9 467.7 598 456.3 Z" fill="#75ff8a"/><path d="M507.8 419 512.6 421.1 522.1 416 517.3 413.3 Z" fill="#ff9100"/><path d="M522.1 416 526.9 420.5 536.4 416.5 531.5 411.6 Z" fill="#ff7900"/><path d="M550.6 421.8 555.4 432.1 564.9 433.2 560.1 422.6 Z" fill="#ffac00"/><path d="M593.4 466.3 598.3 479.3 607.7 478.8 602.9 467.7 Z" fill="#40ffbf"/><path d="M493.5 426 498.4 425.8 507.8 419 503 418.5 Z" fill="#ffc100"/><path d="M536.4 416.5 541.2 423.6 550.6 421.8 545.8 414.3 Z" fill="#ff7f00"/><path d="M564.9 433.2 569.7 446.9 579.2 449.5 574.3 436.2 Z" fill="#fffe00"/><path d="M579.2 449.5 584 464.5 593.4 466.3 588.6 452.9 Z" fill="#9aff65"/><path d="M484.1 434.6 488.9 434 498.4 425.8 493.5 426 Z" fill="#ffe800"/><path d="M498.4 425.8 503.2 427.3 512.6 421.1 507.8 419 Z" fill="#ffab00"/><path d="M512.6 421.1 517.5 425.1 526.9 420.5 522.1 416 Z" fill="#ff8a00"/><path d="M526.9 420.5 531.7 427.1 541.2 423.6 536.4 416.5 Z" fill="#ff8100"/><path d="M541.2 423.6 546 433.4 555.4 432.1 550.6 421.8 Z" fill="#ff9a00"/><path d="M555.4 432.1 560.3 445.8 569.7 446.9 564.9 433.2 Z" fill="#ffdc00"/><path d="M584 464.5 588.8 479.5 598.3 479.3 593.4 466.3 Z" fill="#57ffa8"/><path d="M598.3 479.3 603.1 490.8 612.5 489 607.7 478.8 Z" fill="#0dfff2"/><path d="M569.7 446.9 574.5 463.2 584 464.5 579.2 449.5 Z" fill="#beff41"/><path d="M531.7 427.1 536.6 436.2 546 433.4 541.2 423.6 Z" fill="#ff9900"/><path d="M603.1 490.8 607.9 499.4 617.4 495.9 612.5 489 Z" fill="#00dfff"/><path d="M474.6 444.1 479.5 443 488.9 434 484.1 434.6 Z" fill="#e8ff17"/><path d="M488.9 434 493.7 434.7 503.2 427.3 498.4 425.8 Z" fill="#ffcd00"/><path d="M503.2 427.3 508 430.7 517.5 425.1 512.6 421.1 Z" fill="#ffa000"/><path d="M517.5 425.1 522.3 431.3 531.7 427.1 526.9 420.5 Z" fill="#ff9000"/><path d="M546 433.4 550.8 446.6 560.3 445.8 555.4 432.1 Z" fill="#ffc700"/><path d="M560.3 445.8 565.1 462.7 574.5 463.2 569.7 446.9 Z" fill="#ddff22"/><path d="M574.5 463.2 579.4 479.7 588.8 479.5 584 464.5 Z" fill="#70ff8f"/><path d="M588.8 479.5 593.6 492.6 603.1 490.8 598.3 479.3 Z" fill="#16ffe9"/><path d="M493.7 434.7 498.6 437.3 508 430.7 503.2 427.3 Z" fill="#ffbe00"/><path d="M522.3 431.3 527.1 439.8 536.6 436.2 531.7 427.1 Z" fill="#ffa400"/><path d="M536.6 436.2 541.4 448.8 550.8 446.6 546 433.4 Z" fill="#ffc300"/><path d="M565.1 462.7 569.9 480.3 579.4 479.7 574.5 463.2 Z" fill="#86ff79"/><path d="M593.6 492.6 598.5 502.7 607.9 499.4 603.1 490.8 Z" fill="#00dfff"/><path d="M607.9 499.4 612.7 503.8 622.2 497.3 617.4 495.9 Z" fill="#00c8ff"/><path d="M479.5 443 484.3 443.1 493.7 434.7 488.9 434 Z" fill="#fff800"/><path d="M465.2 453.4 470 452.1 479.5 443 474.6 444.1 Z" fill="#b4ff4b"/><path d="M508 430.7 512.8 436.1 522.3 431.3 517.5 425.1 Z" fill="#ffa300"/><path d="M550.8 446.6 555.7 463.5 565.1 462.7 560.3 445.8 Z" fill="#f2ff0d"/><path d="M579.4 479.7 584.2 494.2 593.6 492.6 588.8 479.5 Z" fill="#22ffdd"/><path d="M455.8 460.3 460.6 459.3 470 452.1 465.2 453.4 Z" fill="#80ff7f"/><path d="M484.3 443.1 489.1 444.7 498.6 437.3 493.7 434.7 Z" fill="#ffe500"/><path d="M498.6 437.3 503.4 441.8 512.8 436.1 508 430.7 Z" fill="#ffbc00"/><path d="M512.8 436.1 517.7 444 527.1 439.8 522.3 431.3 Z" fill="#ffb400"/><path d="M527.1 439.8 531.9 451.6 541.4 448.8 536.6 436.2 Z" fill="#ffca00"/><path d="M541.4 448.8 546.2 465.1 555.7 463.5 550.8 446.6 Z" fill="#f9ff06"/><path d="M555.7 463.5 560.5 481.3 569.9 480.3 565.1 462.7 Z" fill="#97ff68"/><path d="M569.9 480.3 574.7 495.7 584.2 494.2 579.4 479.7 Z" fill="#2dffd2"/><path d="M584.2 494.2 589 505.6 598.5 502.7 593.6 492.6 Z" fill="#00e0ff"/><path d="M598.5 502.7 603.3 509.1 612.7 503.8 607.9 499.4 Z" fill="#00bdff"/><path d="M612.7 503.8 617.6 504 627 494.2 622.2 497.3 Z" fill="#00d8ff"/><path d="M470 452.1 474.9 451.6 484.3 443.1 479.5 443 Z" fill="#d4ff2b"/><path d="M503.4 441.8 508.2 448.7 517.7 444 512.8 436.1 Z" fill="#ffc800"/><path d="M546.2 465.1 551 482.5 560.5 481.3 555.7 463.5 Z" fill="#9eff61"/><path d="M574.7 495.7 579.6 508 589 505.6 584.2 494.2 Z" fill="#00e2ff"/><path d="M617.6 504 622.4 500.5 631.8 488.3 627 494.2 Z" fill="#08fff7"/><path d="M460.6 459.3 465.4 459 474.9 451.6 470 452.1 Z" fill="#a3ff5c"/><path d="M446.3 462.8 451.1 463.3 460.6 459.3 455.8 460.3 Z" fill="#5effa1"/><path d="M474.9 451.6 479.7 452.5 489.1 444.7 484.3 443.1 Z" fill="#edff12"/><path d="M489.1 444.7 493.9 448.2 503.4 441.8 498.6 437.3 Z" fill="#ffdc00"/><path d="M517.7 444 522.5 454.8 531.9 451.6 527.1 439.8 Z" fill="#ffd500"/><path d="M531.9 451.6 536.8 466.8 546.2 465.1 541.4 448.8 Z" fill="#f7ff08"/><path d="M560.5 481.3 565.3 497.1 574.7 495.7 569.9 480.3 Z" fill="#37ffc8"/><path d="M589 505.6 593.8 513.4 603.3 509.1 598.5 502.7 Z" fill="#00b4ff"/><path d="M603.3 509.1 608.1 511.6 617.6 504 612.7 503.8 Z" fill="#00b8ff"/><path d="M436.9 462.9 441.7 465.2 451.1 463.3 446.3 462.8 Z" fill="#59ffa6"/><path d="M465.4 459 470.2 459.7 479.7 452.5 474.9 451.6 Z" fill="#bfff40"/><path d="M493.9 448.2 498.8 454 508.2 448.7 503.4 441.8 Z" fill="#ffe300"/><path d="M508.2 448.7 513 458.4 522.5 454.8 517.7 444 Z" fill="#ffe500"/><path d="M536.8 466.8 541.6 483.4 551 482.5 546.2 465.1 Z" fill="#a0ff5f"/><path d="M551 482.5 555.9 498.2 565.3 497.1 560.5 481.3 Z" fill="#3cffc3"/><path d="M565.3 497.1 570.1 509.7 579.6 508 574.7 495.7 Z" fill="#00e5ff"/><path d="M579.6 508 584.4 516.6 593.8 513.4 589 505.6 Z" fill="#00adff"/><path d="M608.1 511.6 612.9 509.7 622.4 500.5 617.6 504 Z" fill="#00d0ff"/><path d="M622.4 500.5 627.2 493.5 636.7 480.4 631.8 488.3 Z" fill="#4affb5"/><path d="M451.1 463.3 456 464 465.4 459 460.6 459.3 Z" fill="#7eff81"/><path d="M479.7 452.5 484.5 455.1 493.9 448.2 489.1 444.7 Z" fill="#fbff04"/><path d="M522.5 454.8 527.3 468.7 536.8 466.8 531.9 451.6 Z" fill="#f1ff0e"/><path d="M593.8 513.4 598.7 517.2 608.1 511.6 603.3 509.1 Z" fill="#00a0ff"/><path d="M555.9 498.2 560.7 511 570.1 509.7 565.3 497.1 Z" fill="#00e8ff"/><path d="M441.7 465.2 446.5 467.3 456 464 451.1 463.3 Z" fill="#6fff90"/><path d="M427.4 462.9 432.2 466.1 441.7 465.2 436.9 462.9 Z" fill="#65ff9a"/><path d="M456 464 460.8 465.4 470.2 459.7 465.4 459 Z" fill="#9aff65"/><path d="M470.2 459.7 475.1 461.8 484.5 455.1 479.7 452.5 Z" fill="#d2ff2d"/><path d="M498.8 454 503.6 462.3 513 458.4 508.2 448.7 Z" fill="#fff900"/><path d="M513 458.4 517.9 470.8 527.3 468.7 522.5 454.8 Z" fill="#e8ff17"/><path d="M527.3 468.7 532.1 484 541.6 483.4 536.8 466.8 Z" fill="#a1ff5e"/><path d="M541.6 483.4 546.4 498.8 555.9 498.2 551 482.5 Z" fill="#41ffbe"/><path d="M570.1 509.7 575 518.9 584.4 516.6 579.6 508 Z" fill="#00a9ff"/><path d="M584.4 516.6 589.2 521.4 598.7 517.2 593.8 513.4 Z" fill="#0090ff"/><path d="M598.7 517.2 603.5 516.7 612.9 509.7 608.1 511.6 Z" fill="#00a9ff"/><path d="M612.9 509.7 617.8 503.8 627.2 493.5 622.4 500.5 Z" fill="#03fffc"/><path d="M627.2 493.5 632 483.8 641.5 471.3 636.7 480.4 Z" fill="#9aff65"/><path d="M484.5 455.1 489.3 459.7 498.8 454 493.9 448.2 Z" fill="#fcff03"/><path d="M446.5 467.3 451.3 469.5 460.8 465.4 456 464 Z" fill="#83ff7c"/><path d="M517.9 470.8 522.7 484.6 532.1 484 527.3 468.7 Z" fill="#a1ff5e"/><path d="M546.4 498.8 551.2 511.8 560.7 511 555.9 498.2 Z" fill="#00edff"/><path d="M560.7 511 565.5 520.5 575 518.9 570.1 509.7 Z" fill="#00aaff"/><path d="M589.2 521.4 594 522 603.5 516.7 598.7 517.2 Z" fill="#008fff"/><path d="M632 483.8 636.9 472.9 646.3 462.1 641.5 471.3 Z" fill="#f2ff0d"/><path d="M475.1 461.8 479.9 465.6 489.3 459.7 484.5 455.1 Z" fill="#daff25"/><path d="M418 462.2 422.8 465.5 432.2 466.1 427.4 462.9 Z" fill="#73ff8c"/><path d="M432.2 466.1 437.1 469 446.5 467.3 441.7 465.2 Z" fill="#6fff90"/><path d="M460.8 465.4 465.6 467.7 475.1 461.8 470.2 459.7 Z" fill="#aeff51"/><path d="M489.3 459.7 494.2 466.7 503.6 462.3 498.8 454 Z" fill="#eeff11"/><path d="M503.6 462.3 508.4 473.2 517.9 470.8 513 458.4 Z" fill="#dcff23"/><path d="M532.1 484 537 498.8 546.4 498.8 541.6 483.4 Z" fill="#48ffb7"/><path d="M575 518.9 579.8 524.4 589.2 521.4 584.4 516.6 Z" fill="#0087ff"/><path d="M603.5 516.7 608.3 511.8 617.8 503.8 612.9 509.7 Z" fill="#00cfff"/><path d="M617.8 503.8 622.6 494.2 632 483.8 627.2 493.5 Z" fill="#4cffb3"/><path d="M451.3 469.5 456.2 472.3 465.6 467.7 460.8 465.4 Z" fill="#93ff6c"/><path d="M408.5 459.8 413.4 462.7 422.8 465.5 418 462.2 Z" fill="#85ff7a"/><path d="M437.1 469 441.9 472 451.3 469.5 446.5 467.3 Z" fill="#7aff85"/><path d="M479.9 465.6 484.7 471.4 494.2 466.7 489.3 459.7 Z" fill="#d3ff2c"/><path d="M508.4 473.2 513.2 485.5 522.7 484.6 517.9 470.8 Z" fill="#a0ff5f"/><path d="M522.7 484.6 527.5 498.3 537 498.8 532.1 484 Z" fill="#51ffae"/><path d="M537 498.8 541.8 511.7 551.2 511.8 546.4 498.8 Z" fill="#00f6ff"/><path d="M551.2 511.8 556.1 521.5 565.5 520.5 560.7 511 Z" fill="#00aeff"/><path d="M565.5 520.5 570.3 526.6 579.8 524.4 575 518.9 Z" fill="#0084ff"/><path d="M579.8 524.4 584.6 526 594 522 589.2 521.4 Z" fill="#0080ff"/><path d="M594 522 598.9 518.2 608.3 511.8 603.5 516.7 Z" fill="#00acff"/><path d="M622.6 494.2 627.4 482.5 636.9 472.9 632 483.8 Z" fill="#a8ff57"/><path d="M636.9 472.9 641.7 462.4 651.1 454 646.3 462.1 Z" fill="#ffb400"/><path d="M422.8 465.5 427.6 468.8 437.1 469 432.2 466.1 Z" fill="#76ff89"/><path d="M465.6 467.7 470.4 471.3 479.9 465.6 475.1 461.8 Z" fill="#b9ff46"/><path d="M494.2 466.7 499 476.1 508.4 473.2 503.6 462.3 Z" fill="#ceff31"/><path d="M608.3 511.8 613.1 502.8 622.6 494.2 617.8 503.8 Z" fill="#12ffed"/><path d="M527.5 498.3 532.3 510.7 541.8 511.7 537 498.8 Z" fill="#04fffb"/><path d="M570.3 526.6 575.2 529.3 584.6 526 579.8 524.4 Z" fill="#0077ff"/><path d="M641.7 462.4 646.5 452.4 656 446.9 651.1 454 Z" fill="#ff6200"/><path d="M456.2 472.3 461 476 470.4 471.3 465.6 467.7 Z" fill="#9dff62"/><path d="M399.1 455.4 403.9 457.7 413.4 462.7 408.5 459.8 Z" fill="#a2ff5d"/><path d="M413.4 462.7 418.2 465.8 427.6 468.8 422.8 465.5 Z" fill="#87ff78"/><path d="M427.6 468.8 432.5 472 441.9 472 437.1 469 Z" fill="#7bff84"/><path d="M441.9 472 446.7 475.2 456.2 472.3 451.3 469.5 Z" fill="#84ff7b"/><path d="M470.4 471.3 475.3 476.2 484.7 471.4 479.9 465.6 Z" fill="#b8ff47"/><path d="M484.7 471.4 489.5 479.3 499 476.1 494.2 466.7 Z" fill="#bdff42"/><path d="M499 476.1 503.8 486.9 513.2 485.5 508.4 473.2 Z" fill="#9cff63"/><path d="M513.2 485.5 518.1 497.9 527.5 498.3 522.7 484.6 Z" fill="#59ffa6"/><path d="M541.8 511.7 546.6 521.7 556.1 521.5 551.2 511.8 Z" fill="#00b6ff"/><path d="M556.1 521.5 560.9 528.2 570.3 526.6 565.5 520.5 Z" fill="#0086ff"/><path d="M584.6 526 589.4 523.3 598.9 518.2 594 522 Z" fill="#0095ff"/><path d="M598.9 518.2 603.7 510 613.1 502.8 608.3 511.8 Z" fill="#00e7ff"/><path d="M613.1 502.8 618 490.9 627.4 482.5 622.6 494.2 Z" fill="#6eff91"/><path d="M627.4 482.5 632.2 470.3 641.7 462.4 636.9 472.9 Z" fill="#fff100"/><path d="M461 476 465.8 480.4 475.3 476.2 470.4 471.3 Z" fill="#9eff61"/><path d="M489.5 479.3 494.4 488.5 503.8 486.9 499 476.1 Z" fill="#95ff6a"/><path d="M518.1 497.9 522.9 509.5 532.3 510.7 527.5 498.3 Z" fill="#14ffeb"/><path d="M532.3 510.7 537.2 520.8 546.6 521.7 541.8 511.7 Z" fill="#00c3ff"/><path d="M560.9 528.2 565.7 531.9 575.2 529.3 570.3 526.6 Z" fill="#0075ff"/><path d="M575.2 529.3 580 528 589.4 523.3 584.6 526 Z" fill="#0086ff"/><path d="M603.7 510 608.5 498.3 618 490.9 613.1 502.8 Z" fill="#40ffbf"/><path d="M632.2 470.3 637.1 458.2 646.5 452.4 641.7 462.4 Z" fill="#ff8f00"/><path d="M646.5 452.4 651.3 443.1 660.8 440.7 656 446.9 Z" fill="#ff1700"/><path d="M418.2 465.8 423 469 432.5 472 427.6 468.8 Z" fill="#8aff75"/><path d="M446.7 475.2 451.6 478.9 461 476 456.2 472.3 Z" fill="#8aff75"/><path d="M389.6 448.6 394.5 450.8 403.9 457.7 399.1 455.4 Z" fill="#ceff31"/><path d="M403.9 457.7 408.7 460.5 418.2 465.8 413.4 462.7 Z" fill="#a7ff58"/><path d="M432.5 472 437.3 475.4 446.7 475.2 441.9 472 Z" fill="#80ff7f"/><path d="M475.3 476.2 480.1 482.7 489.5 479.3 484.7 471.4 Z" fill="#a9ff56"/><path d="M503.8 486.9 508.6 498.1 518.1 497.9 513.2 485.5 Z" fill="#60ff9f"/><path d="M546.6 521.7 551.4 528.9 560.9 528.2 556.1 521.5 Z" fill="#008cff"/><path d="M589.4 523.3 594.2 516.2 603.7 510 598.9 518.2 Z" fill="#00c8ff"/><path d="M618 490.9 622.8 477.7 632.2 470.3 627.4 482.5 Z" fill="#d8ff27"/><path d="M380.2 439.2 385 442.4 394.5 450.8 389.6 448.6 Z" fill="#fff500"/><path d="M394.5 450.8 399.3 453.4 408.7 460.5 403.9 457.7 Z" fill="#d7ff28"/><path d="M408.7 460.5 413.6 463.4 423 469 418.2 465.8 Z" fill="#abff54"/><path d="M423 469 427.8 472.2 437.3 475.4 432.5 472 Z" fill="#8dff72"/><path d="M437.3 475.4 442.1 478.9 451.6 478.9 446.7 475.2 Z" fill="#83ff7c"/><path d="M451.6 478.9 456.4 483 465.8 480.4 461 476 Z" fill="#8aff75"/><path d="M465.8 480.4 470.6 485.7 480.1 482.7 475.3 476.2 Z" fill="#95ff6a"/><path d="M480.1 482.7 484.9 490.1 494.4 488.5 489.5 479.3 Z" fill="#8cff73"/><path d="M494.4 488.5 499.2 498.4 508.6 498.1 503.8 486.9 Z" fill="#64ff9b"/><path d="M508.6 498.1 513.5 508.8 522.9 509.5 518.1 497.9 Z" fill="#24ffdb"/><path d="M522.9 509.5 527.7 519.5 537.2 520.8 532.3 510.7 Z" fill="#00d7ff"/><path d="M537.2 520.8 542 528.6 551.4 528.9 546.6 521.7 Z" fill="#0098ff"/><path d="M551.4 528.9 556.3 533.5 565.7 531.9 560.9 528.2 Z" fill="#0077ff"/><path d="M565.7 531.9 570.5 532.2 580 528 575.2 529.3 Z" fill="#007cff"/><path d="M580 528 584.8 522.3 594.2 516.2 589.4 523.3 Z" fill="#00b2ff"/><path d="M594.2 516.2 599.1 505.1 608.5 498.3 603.7 510 Z" fill="#1bffe4"/><path d="M608.5 498.3 613.3 484.5 622.8 477.7 618 490.9 Z" fill="#abff54"/><path d="M622.8 477.7 627.6 463.9 637.1 458.2 632.2 470.3 Z" fill="#ffb900"/><path d="M637.1 458.2 641.9 446.4 651.3 443.1 646.5 452.4 Z" fill="#ff3100"/><path d="M651.3 443.1 656.2 434.4 665.6 435.3 660.8 440.7 Z" fill="#d30000"/><path d="M470.6 485.7 475.5 491.6 484.9 490.1 480.1 482.7 Z" fill="#82ff7d"/><path d="M499.2 498.4 504 508 513.5 508.8 508.6 498.1 Z" fill="#30ffcf"/><path d="M542 528.6 546.8 534 556.3 533.5 551.4 528.9 Z" fill="#007fff"/><path d="M584.8 522.3 589.6 512.7 599.1 505.1 594.2 516.2 Z" fill="#00fcff"/><path d="M613.3 484.5 618.2 469.5 627.6 463.9 622.8 477.7 Z" fill="#ffde00"/><path d="M399.3 453.4 404.1 456.1 413.6 463.4 408.7 460.5 Z" fill="#ddff22"/><path d="M427.8 472.2 432.7 475.4 442.1 478.9 437.3 475.4 Z" fill="#8fff70"/><path d="M385 442.4 389.8 445.4 399.3 453.4 394.5 450.8 Z" fill="#ffeb00"/><path d="M413.6 463.4 418.4 466.3 427.8 472.2 423 469 Z" fill="#afff50"/><path d="M442.1 478.9 446.9 482.7 456.4 483 451.6 478.9 Z" fill="#83ff7c"/><path d="M456.4 483 461.2 487.6 470.6 485.7 465.8 480.4 Z" fill="#85ff7a"/><path d="M484.9 490.1 489.7 498.2 499.2 498.4 494.4 488.5 Z" fill="#65ff9a"/><path d="M513.5 508.8 518.3 518.1 527.7 519.5 522.9 509.5 Z" fill="#00edff"/><path d="M527.7 519.5 532.5 527.4 542 528.6 537.2 520.8 Z" fill="#00abff"/><path d="M556.3 533.5 561.1 535.5 570.5 532.2 565.7 531.9 Z" fill="#0077ff"/><path d="M570.5 532.2 575.4 528.9 584.8 522.3 580 528 Z" fill="#009fff"/><path d="M599.1 505.1 603.9 491.1 613.3 484.5 608.5 498.3 Z" fill="#85ff7a"/><path d="M627.6 463.9 632.4 450.3 641.9 446.4 637.1 458.2 Z" fill="#ff4b00"/><path d="M641.9 446.4 646.7 435.3 656.2 434.4 651.3 443.1 Z" fill="#d60000"/><path d="M461.2 487.6 466 492.4 475.5 491.6 470.6 485.7 Z" fill="#7aff85"/><path d="M475.5 491.6 480.3 497.8 489.7 498.2 484.9 490.1 Z" fill="#68ff97"/><path d="M489.7 498.2 494.6 506.2 504 508 499.2 498.4 Z" fill="#3bffc4"/><path d="M504 508 508.8 516.3 518.3 518.1 513.5 508.8 Z" fill="#00feff"/><path d="M532.5 527.4 537.4 533 546.8 534 542 528.6 Z" fill="#008fff"/><path d="M546.8 534 551.6 536.9 561.1 535.5 556.3 533.5 Z" fill="#0079ff"/><path d="M575.4 528.9 580.2 521.8 589.6 512.7 584.8 522.3 Z" fill="#00dfff"/><path d="M589.6 512.7 594.5 499.5 603.9 491.1 599.1 505.1 Z" fill="#63ff9c"/><path d="M603.9 491.1 608.7 475.3 618.2 469.5 613.3 484.5 Z" fill="#feff01"/><path d="M618.2 469.5 623 454.3 632.4 450.3 627.6 463.9 Z" fill="#ff6600"/><path d="M389.8 445.4 394.7 447.8 404.1 456.1 399.3 453.4 Z" fill="#ffe300"/><path d="M404.1 456.1 408.9 458.5 418.4 466.3 413.6 463.4 Z" fill="#e2ff1d"/><path d="M418.4 466.3 423.2 469 432.7 475.4 427.8 472.2 Z" fill="#b2ff4d"/><path d="M432.7 475.4 437.5 478.6 446.9 482.7 442.1 478.9 Z" fill="#90ff6f"/><path d="M446.9 482.7 451.8 486.7 461.2 487.6 456.4 483 Z" fill="#80ff7f"/><path d="M518.3 518.1 523.1 525.5 532.5 527.4 527.7 519.5 Z" fill="#00c1ff"/><path d="M561.1 535.5 565.9 534.5 575.4 528.9 570.5 532.2 Z" fill="#008eff"/><path d="M632.4 450.3 637.3 437.4 646.7 435.3 641.9 446.4 Z" fill="#e00000"/><path d="M480.3 497.8 485.1 504.2 494.6 506.2 489.7 498.2 Z" fill="#49ffb6"/><path d="M594.5 499.5 599.3 483.8 608.7 475.3 603.9 491.1 Z" fill="#ddff22"/><path d="M408.9 458.5 413.8 460.4 423.2 469 418.4 466.3 Z" fill="#e8ff17"/><path d="M451.8 486.7 456.6 490.8 466 492.4 461.2 487.6 Z" fill="#7aff85"/><path d="M394.7 447.8 399.5 449.7 408.9 458.5 404.1 456.1 Z" fill="#ffdc00"/><path d="M423.2 469 428 471.4 437.5 478.6 432.7 475.4 Z" fill="#b5ff4a"/><path d="M466 492.4 470.9 497.3 480.3 497.8 475.5 491.6 Z" fill="#6bff94"/><path d="M494.6 506.2 499.4 513.5 508.8 516.3 504 508 Z" fill="#12ffed"/><path d="M508.8 516.3 513.7 522.9 523.1 525.5 518.3 518.1 Z" fill="#00d8ff"/><path d="M523.1 525.5 527.9 530.7 537.4 533 532.5 527.4 Z" fill="#00a4ff"/><path d="M537.4 533 542.2 536.2 551.6 536.9 546.8 534 Z" fill="#0083ff"/><path d="M551.6 536.9 556.5 537.3 565.9 534.5 561.1 535.5 Z" fill="#0085ff"/><path d="M565.9 534.5 570.7 530 580.2 521.8 575.4 528.9 Z" fill="#00beff"/><path d="M580.2 521.8 585 510.8 594.5 499.5 589.6 512.7 Z" fill="#3cffc3"/><path d="M608.7 475.3 613.5 458.8 623 454.3 618.2 469.5 Z" fill="#ff8000"/><path d="M623 454.3 627.8 439.9 637.3 437.4 632.4 450.3 Z" fill="#ee0000"/><path d="M437.5 478.6 442.3 481.9 451.8 486.7 446.9 482.7 Z" fill="#8fff70"/><path d="M470.9 497.3 475.7 502.5 485.1 504.2 480.3 497.8 Z" fill="#59ffa6"/><path d="M485.1 504.2 489.9 510.5 499.4 513.5 494.6 506.2 Z" fill="#2cffd3"/><path d="M513.7 522.9 518.5 527.4 527.9 530.7 523.1 525.5 Z" fill="#00beff"/><path d="M556.5 537.3 561.3 534.8 570.7 530 565.9 534.5 Z" fill="#00a5ff"/><path d="M585 510.8 589.8 496.6 599.3 483.8 594.5 499.5 Z" fill="#b0ff4f"/><path d="M599.3 483.8 604.1 466.6 613.5 458.8 608.7 475.3 Z" fill="#ff9b00"/><path d="M442.3 481.9 447.1 485.1 456.6 490.8 451.8 486.7 Z" fill="#8dff72"/><path d="M399.5 449.7 404.3 450.8 413.8 460.4 408.9 458.5 Z" fill="#ffd400"/><path d="M413.8 460.4 418.6 461.9 428 471.4 423.2 469 Z" fill="#efff10"/><path d="M456.6 490.8 461.4 494.8 470.9 497.3 466 492.4 Z" fill="#72ff8d"/><path d="M428 471.4 432.9 473.6 442.3 481.9 437.5 478.6 Z" fill="#b8ff47"/><path d="M499.4 513.5 504.2 519.6 513.7 522.9 508.8 516.3 Z" fill="#00f1ff"/><path d="M527.9 530.7 532.8 533.7 542.2 536.2 537.4 533 Z" fill="#0097ff"/><path d="M542.2 536.2 547 537.3 556.5 537.3 551.6 536.9 Z" fill="#0088ff"/><path d="M570.7 530 575.6 521.9 585 510.8 580.2 521.8 Z" fill="#0afff5"/><path d="M613.5 458.8 618.4 442.6 627.8 439.9 623 454.3 Z" fill="#fc0000"/><path d="M461.4 494.8 466.2 498.9 475.7 502.5 470.9 497.3 Z" fill="#69ff96"/><path d="M404.3 450.8 409.1 451 418.6 461.9 413.8 460.4 Z" fill="#ffc800"/><path d="M432.9 473.6 437.7 475.7 447.1 485.1 442.3 481.9 Z" fill="#bbff44"/><path d="M447.1 485.1 452 488.2 461.4 494.8 456.6 490.8 Z" fill="#8aff75"/><path d="M475.7 502.5 480.5 507.7 489.9 510.5 485.1 504.2 Z" fill="#46ffb9"/><path d="M489.9 510.5 494.8 516.1 504.2 519.6 499.4 513.5 Z" fill="#12ffed"/><path d="M504.2 519.6 509 523.9 518.5 527.4 513.7 522.9 Z" fill="#00ddff"/><path d="M518.5 527.4 523.3 530.2 532.8 533.7 527.9 530.7 Z" fill="#00b4ff"/><path d="M547 537.3 551.9 536.1 561.3 534.8 556.5 537.3 Z" fill="#009fff"/><path d="M561.3 534.8 566.1 529.2 575.6 521.9 570.7 530 Z" fill="#00ddff"/><path d="M575.6 521.9 580.4 510.2 589.8 496.6 585 510.8 Z" fill="#6fff90"/><path d="M589.8 496.6 594.7 479.9 604.1 466.6 599.3 483.8 Z" fill="#ffc800"/><path d="M604.1 466.6 608.9 448.9 618.4 442.6 613.5 458.8 Z" fill="#ff0f00"/><path d="M418.6 461.9 423.4 462.8 432.9 473.6 428 471.4 Z" fill="#f7ff08"/><path d="M532.8 533.7 537.6 535 547 537.3 542.2 536.2 Z" fill="#009aff"/><path d="M452 488.2 456.8 491.4 466.2 498.9 461.4 494.8 Z" fill="#88ff77"/><path d="M494.8 516.1 499.6 520.1 509 523.9 504.2 519.6 Z" fill="#02fffd"/><path d="M566.1 529.2 570.9 520.5 580.4 510.2 575.6 521.9 Z" fill="#30ffcf"/><path d="M423.4 462.8 428.2 463.5 437.7 475.7 432.9 473.6 Z" fill="#fffd00"/><path d="M409.1 451 414 450.4 423.4 462.8 418.6 461.9 Z" fill="#ffb800"/><path d="M437.7 475.7 442.5 477.8 452 488.2 447.1 485.1 Z" fill="#beff41"/><path d="M466.2 498.9 471.1 503.1 480.5 507.7 475.7 502.5 Z" fill="#5fffa0"/><path d="M480.5 507.7 485.3 512.4 494.8 516.1 489.9 510.5 Z" fill="#34ffcb"/><path d="M509 523.9 513.9 526.5 523.3 530.2 518.5 527.4 Z" fill="#00d7ff"/><path d="M523.3 530.2 528.1 531.5 537.6 535 532.8 533.7 Z" fill="#00b8ff"/><path d="M537.6 535 542.4 534.6 551.9 536.1 547 537.3 Z" fill="#00acff"/><path d="M551.9 536.1 556.7 532.6 566.1 529.2 561.3 534.8 Z" fill="#00c9ff"/><path d="M580.4 510.2 585.2 495.3 594.7 479.9 589.8 496.6 Z" fill="#eaff15"/><path d="M594.7 479.9 599.5 461.5 608.9 448.9 604.1 466.6 Z" fill="#ff3800"/><path d="M414 450.4 418.8 449.3 428.2 463.5 423.4 462.8 Z" fill="#ffa500"/><path d="M442.5 477.8 447.3 480.1 456.8 491.4 452 488.2 Z" fill="#c2ff3d"/><path d="M456.8 491.4 461.6 494.9 471.1 503.1 466.2 498.9 Z" fill="#85ff7a"/><path d="M485.3 512.4 490.1 516 499.6 520.1 494.8 516.1 Z" fill="#27ffd8"/><path d="M499.6 520.1 504.4 522.7 513.9 526.5 509 523.9 Z" fill="#00fdff"/><path d="M528.1 531.5 533 531.5 542.4 534.6 537.6 535 Z" fill="#00c9ff"/><path d="M556.7 532.6 561.5 526.8 570.9 520.5 566.1 529.2 Z" fill="#0afff5"/><path d="M570.9 520.5 575.8 508.6 585.2 495.3 580.4 510.2 Z" fill="#9aff65"/><path d="M428.2 463.5 433.1 464.2 442.5 477.8 437.7 475.7 Z" fill="#fff200"/><path d="M471.1 503.1 475.9 507 485.3 512.4 480.5 507.7 Z" fill="#55ffaa"/><path d="M513.9 526.5 518.7 527.8 528.1 531.5 523.3 530.2 Z" fill="#00ddff"/><path d="M542.4 534.6 547.2 532.7 556.7 532.6 551.9 536.1 Z" fill="#00ceff"/><path d="M585.2 495.3 590 477.6 599.5 461.5 594.7 479.9 Z" fill="#ff8700"/><path d="M433.1 464.2 437.9 465.3 447.3 480.1 442.5 477.8 Z" fill="#ffe700"/><path d="M418.8 449.3 423.6 448.2 433.1 464.2 428.2 463.5 Z" fill="#ff9100"/><path d="M447.3 480.1 452.2 482.8 461.6 494.9 456.8 491.4 Z" fill="#c5ff3a"/><path d="M461.6 494.9 466.4 498.3 475.9 507 471.1 503.1 Z" fill="#81ff7e"/><path d="M475.9 507 480.7 510.2 490.1 516 485.3 512.4 Z" fill="#4dffb2"/><path d="M490.1 516 495 518.5 504.4 522.7 499.6 520.1 Z" fill="#25ffda"/><path d="M504.4 522.7 509.2 524.1 518.7 527.8 513.9 526.5 Z" fill="#05fffa"/><path d="M518.7 527.8 523.5 528.1 533 531.5 528.1 531.5 Z" fill="#00eeff"/><path d="M533 531.5 537.8 530.7 547.2 532.7 542.4 534.6 Z" fill="#00e5ff"/><path d="M547.2 532.7 552.1 529.4 561.5 526.8 556.7 532.6 Z" fill="#00ffff"/><path d="M561.5 526.8 566.3 518.6 575.8 508.6 570.9 520.5 Z" fill="#5fffa0"/><path d="M575.8 508.6 580.6 493.6 590 477.6 585.2 495.3 Z" fill="#ffe500"/><path d="M423.6 448.2 428.4 447.6 437.9 465.3 433.1 464.2 Z" fill="#ff7c00"/><path d="M466.4 498.3 471.3 501.4 480.7 510.2 475.9 507 Z" fill="#80ff7f"/><path d="M509.2 524.1 514.1 524.7 523.5 528.1 518.7 527.8 Z" fill="#15ffea"/><path d="M537.8 530.7 542.6 529.1 552.1 529.4 547.2 532.7 Z" fill="#0cfff3"/><path d="M437.9 465.3 442.7 467.2 452.2 482.8 447.3 480.1 Z" fill="#ffdd00"/><path d="M452.2 482.8 457 485.9 466.4 498.3 461.6 494.9 Z" fill="#c7ff38"/><path d="M480.7 510.2 485.5 512.9 495 518.5 490.1 516 Z" fill="#4effb1"/><path d="M495 518.5 499.8 520.3 509.2 524.1 504.4 522.7 Z" fill="#2cffd3"/><path d="M523.5 528.1 528.3 527.9 537.8 530.7 533 531.5 Z" fill="#08fff7"/><path d="M552.1 529.4 556.9 524.6 566.3 518.6 561.5 526.8 Z" fill="#41ffbe"/><path d="M566.3 518.6 571.1 507.8 580.6 493.6 575.8 508.6 Z" fill="#cbff34"/><path d="M428.4 447.6 433.3 448.3 442.7 467.2 437.9 465.3 Z" fill="#ff6a00"/><path d="M442.7 467.2 447.5 469.9 457 485.9 452.2 482.8 Z" fill="#ffd700"/><path d="M457 485.9 461.8 489.2 471.3 501.4 466.4 498.3 Z" fill="#c9ff36"/><path d="M471.3 501.4 476.1 504.3 485.5 512.9 480.7 510.2 Z" fill="#83ff7c"/><path d="M499.8 520.3 504.6 521.2 514.1 524.7 509.2 524.1 Z" fill="#3cffc3"/><path d="M514.1 524.7 518.9 524.7 528.3 527.9 523.5 528.1 Z" fill="#2cffd3"/><path d="M528.3 527.9 533.2 526.9 542.6 529.1 537.8 530.7 Z" fill="#27ffd8"/><path d="M542.6 529.1 547.4 526.7 556.9 524.6 552.1 529.4 Z" fill="#3cffc3"/><path d="M485.5 512.9 490.4 515 499.8 520.3 495 518.5 Z" fill="#56ffa9"/><path d="M556.9 524.6 561.7 518.4 571.1 507.8 566.3 518.6 Z" fill="#93ff6c"/><path d="M518.9 524.7 523.7 523.8 533.2 526.9 528.3 527.9 Z" fill="#47ffb8"/><path d="M433.3 448.3 438.1 450.4 447.5 469.9 442.7 467.2 Z" fill="#ff5e00"/><path d="M447.5 469.9 452.4 473.4 461.8 489.2 457 485.9 Z" fill="#ffd300"/><path d="M461.8 489.2 466.6 492.5 476.1 504.3 471.3 501.4 Z" fill="#cdff32"/><path d="M476.1 504.3 480.9 507 490.4 515 485.5 512.9 Z" fill="#8aff75"/><path d="M490.4 515 495.2 516.4 504.6 521.2 499.8 520.3 Z" fill="#63ff9c"/><path d="M504.6 521.2 509.4 521.3 518.9 524.7 514.1 524.7 Z" fill="#51ffae"/><path d="M533.2 526.9 538 525.1 547.4 526.7 542.6 529.1 Z" fill="#4bffb4"/><path d="M547.4 526.7 552.3 523.6 561.7 518.4 556.9 524.6 Z" fill="#77ff88"/><path d="M438.1 450.4 442.9 453.9 452.4 473.4 447.5 469.9 Z" fill="#ff5800"/><path d="M480.9 507 485.7 509 495.2 516.4 490.4 515 Z" fill="#94ff6b"/><path d="M509.4 521.3 514.3 520.1 523.7 523.8 518.9 524.7 Z" fill="#6aff95"/><path d="M523.7 523.8 528.5 521.5 538 525.1 533.2 526.9 Z" fill="#67ff98"/><path d="M452.4 473.4 457.2 477.1 466.6 492.5 461.8 489.2 Z" fill="#ffd000"/><path d="M466.6 492.5 471.5 495.7 480.9 507 476.1 504.3 Z" fill="#d2ff2d"/><path d="M495.2 516.4 500 516.6 509.4 521.3 504.6 521.2 Z" fill="#76ff89"/><path d="M538 525.1 542.8 522.1 552.3 523.6 547.4 526.7 Z" fill="#75ff8a"/><path d="M442.9 453.9 447.8 457.8 457.2 477.1 452.4 473.4 Z" fill="#ff5600"/><path d="M471.5 495.7 476.3 498.3 485.7 509 480.9 507 Z" fill="#d8ff27"/><path d="M485.7 509 490.6 509.7 500 516.6 495.2 516.4 Z" fill="#a4ff5b"/><path d="M500 516.6 504.8 515.5 514.3 520.1 509.4 521.3 Z" fill="#8fff70"/><path d="M514.3 520.1 519.1 517.6 528.5 521.5 523.7 523.8 Z" fill="#8aff75"/><path d="M528.5 521.5 533.4 517.6 542.8 522.1 538 525.1 Z" fill="#8dff72"/><path d="M457.2 477.1 462 480.6 471.5 495.7 466.6 492.5 Z" fill="#ffce00"/><path d="M462 480.6 466.8 483.9 476.3 498.3 471.5 495.7 Z" fill="#ffca00"/><path d="M490.6 509.7 495.4 509.1 504.8 515.5 500 516.6 Z" fill="#bcff43"/><path d="M447.8 457.8 452.6 461.4 462 480.6 457.2 477.1 Z" fill="#ff5600"/><path d="M476.3 498.3 481.1 500 490.6 509.7 485.7 509 Z" fill="#e4ff1b"/><path d="M504.8 515.5 509.7 513 519.1 517.6 514.3 520.1 Z" fill="#b0ff4f"/><path d="M519.1 517.6 523.9 513.4 533.4 517.6 528.5 521.5 Z" fill="#b3ff4c"/><path d="M452.6 461.4 457.4 465.1 466.8 483.9 462 480.6 Z" fill="#ff5500"/><path d="M466.8 483.9 471.7 486.7 481.1 500 476.3 498.3 Z" fill="#ffc300"/><path d="M481.1 500 485.9 500.4 495.4 509.1 490.6 509.7 Z" fill="#f8ff07"/><path d="M495.4 509.1 500.2 507.1 509.7 513 504.8 515.5 Z" fill="#ddff22"/><path d="M509.7 513 514.5 509.3 523.9 513.4 519.1 517.6 Z" fill="#dbff24"/><path d="M457.4 465.1 462.2 469.4 471.7 486.7 466.8 483.9 Z" fill="#ff5200"/><path d="M471.7 486.7 476.5 488.9 485.9 500.4 481.1 500 Z" fill="#ffb500"/><path d="M485.9 500.4 490.8 499.5 500.2 507.1 495.4 509.1 Z" fill="#ffe800"/><path d="M500.2 507.1 505 503.8 514.5 509.3 509.7 513 Z" fill="#fff700"/><path d="M462.2 469.4 467.1 474 476.5 488.9 471.7 486.7 Z" fill="#ff4d00"/><path d="M476.5 488.9 481.3 490.1 490.8 499.5 485.9 500.4 Z" fill="#ff9f00"/><path d="M490.8 499.5 495.6 497.2 505 503.8 500.2 507.1 Z" fill="#ffc100"/><path d="M467.1 474 471.9 478.6 481.3 490.1 476.5 488.9 Z" fill="#ff4200"/><path d="M481.3 490.1 486.1 490 495.6 497.2 490.8 499.5 Z" fill="#ff7f00"/><path d="M471.9 478.6 476.7 482.9 486.1 490 481.3 490.1 Z" fill="#ff3100"/></g>
<text x="0" y="0" text-anchor="middle" dominant-baseline="central" fill="#26262c" style="font-family:'Liberation Serif',serif;font-size:13.6px;font-weight:bold;" transform="translate(366 395.8) rotate(0) scale(0.88 1)">96</text>
<text x="0" y="0" text-anchor="middle" dominant-baseline="central" fill="#26262c" style="font-family:'Liberation Serif',serif;font-size:13.6px;font-weight:bold;" transform="translate(366 426.7) rotate(0) scale(0.88 1)">92</text>
<text x="0" y="0" text-anchor="middle" dominant-baseline="central" fill="#26262c" style="font-family:'Liberation Serif',serif;font-size:13.6px;font-weight:bold;" transform="translate(366 456.8) rotate(0) scale(0.88 1)">88</text>
<text x="0" y="0" text-anchor="middle" dominant-baseline="central" fill="#26262c" style="font-family:'Liberation Serif',serif;font-size:13.6px;font-weight:bold;" transform="translate(366 487.5) rotate(0) scale(0.88 1)">84</text>
<text x="0" y="0" text-anchor="middle" dominant-baseline="central" fill="#26262c" style="font-family:'Liberation Serif',serif;font-size:13.6px;font-weight:bold;" transform="translate(365.6 516.4) rotate(0) scale(0.88 1)">80</text>
<text x="0" y="0" text-anchor="middle" dominant-baseline="central" fill="#26262c" style="font-family:'Liberation Serif',serif;font-size:13.6px;font-weight:bold;" transform="translate(368 531.5) rotate(0) scale(0.88 1)">5</text>
<text x="0" y="0" text-anchor="middle" dominant-baseline="central" fill="#26262c" style="font-family:'Liberation Serif',serif;font-size:13.6px;font-weight:bold;" transform="translate(387.7 549.8) rotate(0) scale(0.88 1)">5.5</text>
<text x="0" y="0" text-anchor="middle" dominant-baseline="central" fill="#26262c" style="font-family:'Liberation Serif',serif;font-size:13.6px;font-weight:bold;" transform="translate(416.6 567.4) rotate(0) scale(0.88 1)">6</text>
<text x="0" y="0" text-anchor="middle" dominant-baseline="central" fill="#26262c" style="font-family:'Liberation Serif',serif;font-size:13.6px;font-weight:bold;" transform="translate(436 586) rotate(0) scale(0.88 1)">6.5</text>
<text x="0" y="0" text-anchor="middle" dominant-baseline="central" fill="#26262c" style="font-family:'Liberation Serif',serif;font-size:13.6px;font-weight:bold;" transform="translate(465.4 603.6) rotate(0) scale(0.88 1)">7</text>
<text x="0" y="0" text-anchor="middle" dominant-baseline="central" fill="#26262c" style="font-family:'Liberation Serif',serif;font-size:13.6px;font-weight:bold;" transform="translate(489.5 607.6) rotate(0) scale(0.88 1)">40</text>
<text x="0" y="0" text-anchor="middle" dominant-baseline="central" fill="#26262c" style="font-family:'Liberation Serif',serif;font-size:13.6px;font-weight:bold;" transform="translate(536.5 598) rotate(0) scale(0.88 1)">35</text>
<text x="0" y="0" text-anchor="middle" dominant-baseline="central" fill="#26262c" style="font-family:'Liberation Serif',serif;font-size:13.6px;font-weight:bold;" transform="translate(583.7 588.6) rotate(0) scale(0.88 1)">30</text>
<text x="0" y="0" text-anchor="middle" dominant-baseline="central" fill="#26262c" style="font-family:'Liberation Serif',serif;font-size:13.6px;font-weight:bold;" transform="translate(631.5 579.4) rotate(0) scale(0.88 1)">25</text>
<text x="0" y="0" text-anchor="middle" dominant-baseline="central" fill="#26262c" style="font-family:'Liberation Serif',serif;font-size:13.6px;font-weight:bold;" transform="translate(678.2 570) rotate(0) scale(0.88 1)">20</text>
<text x="352.5" y="470.7" text-anchor="middle" dominant-baseline="central" fill="#222" style="font-family:'Liberation Serif',serif;font-size:15px;font-weight:bold;" transform="rotate(-90 352.5 470.7)">Removal <tspan style="font-size:10px">%</tspan></text>
<text x="402.8" y="579.2" text-anchor="middle" dominant-baseline="central" fill="#222" style="font-family:'Liberation Serif',serif;font-size:11.5px;font-weight:bold;font-style:italic;" transform="rotate(28 402.8 579.2)">pH</text>
<text x="0" y="0" text-anchor="middle" dominant-baseline="central" fill="#222" style="font-family:'Liberation Serif',serif;font-size:13.3px;font-weight:bold;" transform="translate(616 602.3) rotate(-11) scale(0.85 1)">Dye Concentration</text>
<text x="0" y="0" text-anchor="middle" dominant-baseline="central" fill="#222" style="font-family:'Liberation Serif',serif;font-size:13.3px;font-weight:bold;" transform="translate(618.5 617.6) rotate(-11) scale(0.85 1)">(mg/L)</text>
<text x="343.3" y="320.5" text-anchor="middle" dominant-baseline="central" fill="#111" style="font-family:'Liberation Serif',serif;font-size:15.5px;font-weight:bold;">A</text>
<text x="343.3" y="681" text-anchor="middle" dominant-baseline="central" fill="#111" style="font-family:'Liberation Serif',serif;font-size:15.5px;font-weight:bold;">B</text></svg>
</body></html>
